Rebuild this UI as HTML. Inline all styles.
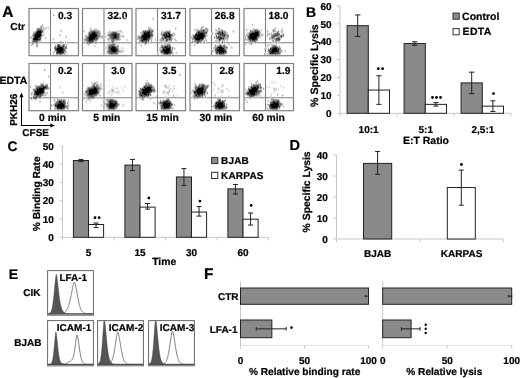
<!DOCTYPE html>
<html><head><meta charset="utf-8"><style>
html,body{margin:0;padding:0;background:#fff;width:520px;height:378px;overflow:hidden;}
svg{display:block;font-family:"Liberation Sans",sans-serif;will-change:transform;text-rendering:geometricPrecision;filter:blur(0.35px);}
text{stroke:#000;stroke-width:0.22px;}
</style></head><body><svg width="520" height="378" viewBox="0 0 520 378" font-family="Liberation Sans, sans-serif" font-weight="bold"><text x="2.2" y="16.9" font-size="15.5" text-anchor="start" >A</text><text x="10.3" y="29.6" font-size="10.2" text-anchor="start" >Ctr</text><text x="-0.6" y="83.6" font-size="10.5" text-anchor="start" >EDTA</text><rect x="29.00" y="8.50" width="49.50" height="47.20" fill="none" stroke="#808080" stroke-width="1.2"/><line x1="50.50" y1="8.50" x2="50.50" y2="55.70" stroke="#808080" stroke-width="1.1"/><line x1="29.00" y1="42.70" x2="78.50" y2="42.70" stroke="#808080" stroke-width="1.1"/><text x="72.1" y="19.2" font-size="10.2" text-anchor="end" >0.3</text><rect x="82.50" y="8.50" width="49.50" height="47.20" fill="none" stroke="#808080" stroke-width="1.2"/><line x1="104.00" y1="8.50" x2="104.00" y2="55.70" stroke="#808080" stroke-width="1.1"/><line x1="82.50" y1="42.70" x2="132.00" y2="42.70" stroke="#808080" stroke-width="1.1"/><text x="127.3" y="19.2" font-size="10.2" text-anchor="end" >32.0</text><rect x="136.00" y="8.50" width="49.50" height="47.20" fill="none" stroke="#808080" stroke-width="1.2"/><line x1="157.50" y1="8.50" x2="157.50" y2="55.70" stroke="#808080" stroke-width="1.1"/><line x1="136.00" y1="42.70" x2="185.50" y2="42.70" stroke="#808080" stroke-width="1.1"/><text x="180.9" y="19.2" font-size="10.2" text-anchor="end" >31.7</text><rect x="190.00" y="8.50" width="49.50" height="47.20" fill="none" stroke="#808080" stroke-width="1.2"/><line x1="211.50" y1="8.50" x2="211.50" y2="55.70" stroke="#808080" stroke-width="1.1"/><line x1="190.00" y1="42.70" x2="239.50" y2="42.70" stroke="#808080" stroke-width="1.1"/><text x="234.6" y="19.2" font-size="10.2" text-anchor="end" >26.8</text><rect x="244.00" y="8.50" width="49.50" height="47.20" fill="none" stroke="#808080" stroke-width="1.2"/><line x1="265.50" y1="8.50" x2="265.50" y2="55.70" stroke="#808080" stroke-width="1.1"/><line x1="244.00" y1="42.70" x2="293.50" y2="42.70" stroke="#808080" stroke-width="1.1"/><text x="288.4" y="19.2" font-size="10.2" text-anchor="end" >18.0</text><rect x="29.00" y="63.50" width="49.50" height="47.20" fill="none" stroke="#808080" stroke-width="1.2"/><line x1="50.50" y1="63.50" x2="50.50" y2="110.70" stroke="#808080" stroke-width="1.1"/><line x1="29.00" y1="97.70" x2="78.50" y2="97.70" stroke="#808080" stroke-width="1.1"/><text x="72.1" y="74.2" font-size="10.2" text-anchor="end" >0.2</text><text x="52.5" y="121.1" font-size="10.3" text-anchor="middle" >0 min</text><rect x="82.50" y="63.50" width="49.50" height="47.20" fill="none" stroke="#808080" stroke-width="1.2"/><line x1="104.00" y1="63.50" x2="104.00" y2="110.70" stroke="#808080" stroke-width="1.1"/><line x1="82.50" y1="97.70" x2="132.00" y2="97.70" stroke="#808080" stroke-width="1.1"/><text x="125.3" y="74.2" font-size="10.2" text-anchor="end" >3.0</text><text x="106.8" y="121.1" font-size="10.3" text-anchor="middle" >5 min</text><rect x="136.00" y="63.50" width="49.50" height="47.20" fill="none" stroke="#808080" stroke-width="1.2"/><line x1="157.50" y1="63.50" x2="157.50" y2="110.70" stroke="#808080" stroke-width="1.1"/><line x1="136.00" y1="97.70" x2="185.50" y2="97.70" stroke="#808080" stroke-width="1.1"/><text x="176.5" y="74.2" font-size="10.2" text-anchor="end" >3.5</text><text x="162.6" y="121.1" font-size="10.3" text-anchor="middle" >15 min</text><rect x="190.00" y="63.50" width="49.50" height="47.20" fill="none" stroke="#808080" stroke-width="1.2"/><line x1="211.50" y1="63.50" x2="211.50" y2="110.70" stroke="#808080" stroke-width="1.1"/><line x1="190.00" y1="97.70" x2="239.50" y2="97.70" stroke="#808080" stroke-width="1.1"/><text x="233.6" y="74.2" font-size="10.2" text-anchor="end" >2.8</text><text x="215.9" y="121.1" font-size="10.3" text-anchor="middle" >30 min</text><rect x="244.00" y="63.50" width="49.50" height="47.20" fill="none" stroke="#808080" stroke-width="1.2"/><line x1="265.50" y1="63.50" x2="265.50" y2="110.70" stroke="#808080" stroke-width="1.1"/><line x1="244.00" y1="97.70" x2="293.50" y2="97.70" stroke="#808080" stroke-width="1.1"/><text x="290.5" y="74.2" font-size="10.2" text-anchor="end" >1.9</text><text x="268.5" y="121.1" font-size="10.3" text-anchor="middle" >60 min</text><path d="M54.0 15.5h1v1h-1zM41.0 24.5h1v1h-1zM43.0 24.5h1v1h-1zM40.0 25.5h1v1h-1zM43.0 25.5h1v1h-1zM42.0 26.5h1v1h-1zM45.0 26.5h1v1h-1zM46.0 26.5h1v1h-1zM47.0 26.5h1v1h-1zM44.0 27.5h1v1h-1zM42.0 28.5h1v1h-1zM45.0 28.5h1v1h-1zM46.0 28.5h1v1h-1zM44.0 29.5h1v1h-1zM60.0 29.5h1v1h-1zM61.0 29.5h1v1h-1zM35.0 30.5h1v1h-1zM32.0 31.5h1v1h-1zM34.0 31.5h1v1h-1zM60.0 31.5h1v1h-1zM61.0 31.5h1v1h-1zM32.0 33.5h1v1h-1zM42.0 33.5h1v1h-1zM43.0 33.5h1v1h-1zM43.0 35.5h1v1h-1zM65.0 35.5h1v1h-1zM66.0 35.5h1v1h-1zM30.0 36.5h1v1h-1zM31.0 36.5h1v1h-1zM32.0 36.5h1v1h-1zM45.0 36.5h1v1h-1zM44.0 37.5h1v1h-1zM46.0 37.5h1v1h-1zM65.0 37.5h1v1h-1zM66.0 37.5h1v1h-1zM30.0 38.5h1v1h-1zM31.0 38.5h1v1h-1zM45.0 38.5h1v1h-1zM52.0 38.5h1v1h-1zM54.0 38.5h1v1h-1zM60.0 40.5h1v1h-1zM31.0 41.5h1v1h-1zM64.0 41.5h1v1h-1zM66.0 41.5h1v1h-1zM34.0 42.5h1v1h-1zM35.0 42.5h1v1h-1zM64.0 42.5h1v1h-1zM66.0 42.5h1v1h-1zM57.0 43.5h1v1h-1zM64.0 43.5h1v1h-1zM30.0 44.5h1v1h-1zM32.0 44.5h1v1h-1zM65.0 44.5h1v1h-1zM67.0 44.5h1v1h-1zM38.0 45.5h1v1h-1zM66.0 45.5h1v1h-1zM38.0 46.5h1v1h-1zM67.0 47.5h1v1h-1zM54.0 49.5h1v1h-1zM53.0 50.5h1v1h-1zM66.0 50.5h1v1h-1zM66.0 51.5h1v1h-1zM65.0 52.5h1v1h-1zM52.0 53.5h1v1h-1zM54.0 53.5h1v1h-1zM65.0 53.5h1v1h-1zM124.5 17.5h1v1h-1zM125.5 17.5h1v1h-1zM124.5 19.5h1v1h-1zM125.5 19.5h1v1h-1zM94.5 28.5h1v1h-1zM96.5 28.5h1v1h-1zM98.5 29.5h1v1h-1zM119.5 29.5h1v1h-1zM120.5 29.5h1v1h-1zM108.5 30.5h1v1h-1zM110.5 30.5h1v1h-1zM116.5 30.5h1v1h-1zM118.5 30.5h1v1h-1zM84.5 31.5h1v1h-1zM108.5 31.5h1v1h-1zM118.5 31.5h1v1h-1zM119.5 31.5h1v1h-1zM120.5 32.5h1v1h-1zM85.5 34.5h1v1h-1zM102.5 34.5h1v1h-1zM106.5 34.5h1v1h-1zM120.5 34.5h1v1h-1zM103.5 35.5h1v1h-1zM108.5 36.5h1v1h-1zM120.5 36.5h1v1h-1zM121.5 36.5h1v1h-1zM98.5 37.5h1v1h-1zM100.5 37.5h1v1h-1zM119.5 37.5h1v1h-1zM102.5 38.5h1v1h-1zM104.5 38.5h1v1h-1zM106.5 38.5h1v1h-1zM126.5 38.5h1v1h-1zM126.5 40.5h1v1h-1zM94.5 41.5h1v1h-1zM89.5 43.5h1v1h-1zM94.5 43.5h1v1h-1zM95.5 43.5h1v1h-1zM107.5 43.5h1v1h-1zM87.5 44.5h1v1h-1zM89.5 44.5h1v1h-1zM115.5 44.5h1v1h-1zM115.5 45.5h1v1h-1zM118.5 45.5h1v1h-1zM93.5 46.5h1v1h-1zM118.5 47.5h1v1h-1zM120.5 47.5h1v1h-1zM122.5 47.5h1v1h-1zM122.5 49.5h1v1h-1zM123.5 49.5h1v1h-1zM122.5 51.5h1v1h-1zM123.5 51.5h1v1h-1zM106.5 52.5h1v1h-1zM119.5 52.5h1v1h-1zM152.0 17.5h1v1h-1zM176.0 27.5h1v1h-1zM147.0 28.5h1v1h-1zM152.0 28.5h1v1h-1zM146.0 29.5h1v1h-1zM147.0 29.5h1v1h-1zM153.0 29.5h1v1h-1zM169.0 29.5h1v1h-1zM170.0 29.5h1v1h-1zM168.0 30.5h1v1h-1zM157.0 31.5h1v1h-1zM161.0 31.5h1v1h-1zM153.0 32.5h1v1h-1zM156.0 32.5h1v1h-1zM158.0 32.5h1v1h-1zM172.0 32.5h1v1h-1zM174.0 32.5h1v1h-1zM153.0 33.5h1v1h-1zM158.0 33.5h1v1h-1zM175.0 33.5h1v1h-1zM160.0 34.5h1v1h-1zM153.0 35.5h1v1h-1zM161.0 35.5h1v1h-1zM137.0 36.5h1v1h-1zM161.0 36.5h1v1h-1zM151.0 37.5h1v1h-1zM152.0 39.5h1v1h-1zM154.0 39.5h1v1h-1zM156.0 39.5h1v1h-1zM164.0 39.5h1v1h-1zM176.0 39.5h1v1h-1zM150.0 40.5h1v1h-1zM152.0 40.5h1v1h-1zM149.0 41.5h1v1h-1zM162.0 41.5h1v1h-1zM163.0 41.5h1v1h-1zM164.0 41.5h1v1h-1zM167.0 41.5h1v1h-1zM175.0 41.5h1v1h-1zM176.0 41.5h1v1h-1zM143.0 42.5h1v1h-1zM147.0 42.5h1v1h-1zM149.0 42.5h1v1h-1zM166.0 42.5h1v1h-1zM163.0 43.5h1v1h-1zM140.0 44.5h1v1h-1zM145.0 44.5h1v1h-1zM173.0 46.5h1v1h-1zM159.0 48.5h1v1h-1zM160.0 48.5h1v1h-1zM173.0 48.5h1v1h-1zM158.0 49.5h1v1h-1zM159.0 50.5h1v1h-1zM172.0 51.5h1v1h-1zM175.0 51.5h1v1h-1zM157.0 52.5h1v1h-1zM201.0 26.5h1v1h-1zM200.0 27.5h1v1h-1zM200.0 28.5h1v1h-1zM215.0 28.5h1v1h-1zM216.0 28.5h1v1h-1zM221.0 28.5h1v1h-1zM196.0 29.5h1v1h-1zM217.0 29.5h1v1h-1zM218.0 29.5h1v1h-1zM223.0 29.5h1v1h-1zM194.0 30.5h1v1h-1zM215.0 30.5h1v1h-1zM232.0 30.5h1v1h-1zM234.0 30.5h1v1h-1zM216.0 31.5h1v1h-1zM227.0 31.5h1v1h-1zM232.0 31.5h1v1h-1zM234.0 31.5h1v1h-1zM211.0 32.5h1v1h-1zM213.0 32.5h1v1h-1zM215.0 32.5h1v1h-1zM207.0 33.5h1v1h-1zM211.0 33.5h1v1h-1zM213.0 33.5h1v1h-1zM214.0 33.5h1v1h-1zM227.0 33.5h1v1h-1zM215.0 35.5h1v1h-1zM205.0 38.5h1v1h-1zM206.0 38.5h1v1h-1zM228.0 38.5h1v1h-1zM204.0 39.5h1v1h-1zM217.0 39.5h1v1h-1zM202.0 40.5h1v1h-1zM203.0 40.5h1v1h-1zM206.0 40.5h1v1h-1zM220.0 40.5h1v1h-1zM221.0 40.5h1v1h-1zM226.0 40.5h1v1h-1zM205.0 41.5h1v1h-1zM214.0 41.5h1v1h-1zM220.0 41.5h1v1h-1zM194.0 42.5h1v1h-1zM195.0 42.5h1v1h-1zM199.0 42.5h1v1h-1zM224.0 42.5h1v1h-1zM194.0 43.5h1v1h-1zM222.0 43.5h1v1h-1zM225.0 43.5h1v1h-1zM193.0 44.5h1v1h-1zM195.0 44.5h1v1h-1zM218.0 44.5h1v1h-1zM194.0 45.5h1v1h-1zM226.0 45.5h1v1h-1zM213.0 46.5h1v1h-1zM214.0 46.5h1v1h-1zM213.0 48.5h1v1h-1zM214.0 50.5h1v1h-1zM227.0 51.5h1v1h-1zM215.0 53.5h1v1h-1zM227.0 53.5h1v1h-1zM228.0 53.5h1v1h-1zM251.0 24.5h1v1h-1zM253.0 24.5h1v1h-1zM282.0 27.5h1v1h-1zM246.0 28.5h1v1h-1zM273.0 28.5h1v1h-1zM259.0 29.5h1v1h-1zM260.0 29.5h1v1h-1zM262.0 29.5h1v1h-1zM275.0 29.5h1v1h-1zM282.0 29.5h1v1h-1zM246.0 30.5h1v1h-1zM266.0 30.5h1v1h-1zM268.0 30.5h1v1h-1zM277.0 30.5h1v1h-1zM279.0 30.5h1v1h-1zM280.0 30.5h1v1h-1zM260.0 31.5h1v1h-1zM266.0 31.5h1v1h-1zM268.0 31.5h1v1h-1zM274.0 31.5h1v1h-1zM279.0 31.5h1v1h-1zM280.0 31.5h1v1h-1zM261.0 32.5h1v1h-1zM274.0 32.5h1v1h-1zM279.0 32.5h1v1h-1zM247.0 33.5h1v1h-1zM260.0 33.5h1v1h-1zM261.0 33.5h1v1h-1zM263.0 33.5h1v1h-1zM280.0 33.5h1v1h-1zM281.0 33.5h1v1h-1zM282.0 33.5h1v1h-1zM284.0 33.5h1v1h-1zM260.0 34.5h1v1h-1zM268.0 34.5h1v1h-1zM270.0 34.5h1v1h-1zM271.0 34.5h1v1h-1zM284.0 34.5h1v1h-1zM245.0 35.5h1v1h-1zM246.0 35.5h1v1h-1zM261.0 35.5h1v1h-1zM262.0 35.5h1v1h-1zM279.0 35.5h1v1h-1zM246.0 36.5h1v1h-1zM270.0 36.5h1v1h-1zM277.0 36.5h1v1h-1zM245.0 37.5h1v1h-1zM258.0 38.5h1v1h-1zM268.0 38.5h1v1h-1zM272.0 39.5h1v1h-1zM271.0 40.5h1v1h-1zM249.0 41.5h1v1h-1zM253.0 41.5h1v1h-1zM272.0 41.5h1v1h-1zM276.0 41.5h1v1h-1zM277.0 41.5h1v1h-1zM251.0 42.5h1v1h-1zM254.0 42.5h1v1h-1zM251.0 44.5h1v1h-1zM277.0 45.5h1v1h-1zM278.0 45.5h1v1h-1zM280.0 45.5h1v1h-1zM265.0 46.5h1v1h-1zM264.0 47.5h1v1h-1zM281.0 47.5h1v1h-1zM281.0 48.5h1v1h-1zM264.0 49.5h1v1h-1zM285.0 49.5h1v1h-1zM284.0 50.5h1v1h-1zM286.0 50.5h1v1h-1zM267.0 51.5h1v1h-1zM285.0 51.5h1v1h-1zM265.0 52.5h1v1h-1zM44.0 68.5h1v1h-1zM44.0 70.5h1v1h-1zM40.0 82.5h1v1h-1zM41.0 82.5h1v1h-1zM44.0 83.5h1v1h-1zM45.0 83.5h1v1h-1zM30.0 85.5h1v1h-1zM48.0 85.5h1v1h-1zM31.0 86.5h1v1h-1zM59.0 86.5h1v1h-1zM30.0 87.5h1v1h-1zM59.0 87.5h1v1h-1zM31.0 91.5h1v1h-1zM32.0 91.5h1v1h-1zM46.0 91.5h1v1h-1zM47.0 91.5h1v1h-1zM33.0 92.5h1v1h-1zM30.0 93.5h1v1h-1zM46.0 93.5h1v1h-1zM47.0 93.5h1v1h-1zM32.0 95.5h1v1h-1zM46.0 95.5h1v1h-1zM32.0 96.5h1v1h-1zM41.0 96.5h1v1h-1zM30.0 98.5h1v1h-1zM54.0 98.5h1v1h-1zM61.0 98.5h1v1h-1zM64.0 98.5h1v1h-1zM65.0 98.5h1v1h-1zM32.0 99.5h1v1h-1zM69.0 99.5h1v1h-1zM53.0 100.5h1v1h-1zM55.0 100.5h1v1h-1zM56.0 100.5h1v1h-1zM68.0 101.5h1v1h-1zM66.0 102.5h1v1h-1zM66.0 104.5h1v1h-1zM68.0 106.5h1v1h-1zM65.0 108.5h1v1h-1zM109.5 79.5h1v1h-1zM108.5 80.5h1v1h-1zM97.5 81.5h1v1h-1zM90.5 82.5h1v1h-1zM92.5 82.5h1v1h-1zM97.5 83.5h1v1h-1zM99.5 84.5h1v1h-1zM101.5 84.5h1v1h-1zM109.5 85.5h1v1h-1zM124.5 85.5h1v1h-1zM86.5 86.5h1v1h-1zM89.5 86.5h1v1h-1zM108.5 86.5h1v1h-1zM125.5 86.5h1v1h-1zM100.5 87.5h1v1h-1zM112.5 87.5h1v1h-1zM122.5 87.5h1v1h-1zM85.5 88.5h1v1h-1zM113.5 88.5h1v1h-1zM121.5 88.5h1v1h-1zM100.5 89.5h1v1h-1zM84.5 90.5h1v1h-1zM84.5 91.5h1v1h-1zM109.5 92.5h1v1h-1zM85.5 94.5h1v1h-1zM97.5 94.5h1v1h-1zM98.5 94.5h1v1h-1zM100.5 94.5h1v1h-1zM98.5 95.5h1v1h-1zM100.5 95.5h1v1h-1zM86.5 96.5h1v1h-1zM98.5 96.5h1v1h-1zM101.5 96.5h1v1h-1zM84.5 97.5h1v1h-1zM89.5 98.5h1v1h-1zM98.5 98.5h1v1h-1zM101.5 98.5h1v1h-1zM105.5 98.5h1v1h-1zM108.5 98.5h1v1h-1zM86.5 99.5h1v1h-1zM85.5 100.5h1v1h-1zM103.5 100.5h1v1h-1zM105.5 100.5h1v1h-1zM84.5 101.5h1v1h-1zM86.5 101.5h1v1h-1zM85.5 102.5h1v1h-1zM103.5 103.5h1v1h-1zM102.5 104.5h1v1h-1zM104.5 104.5h1v1h-1zM118.5 105.5h1v1h-1zM102.5 107.5h1v1h-1zM104.5 107.5h1v1h-1zM180.0 73.5h1v1h-1zM148.0 81.5h1v1h-1zM173.0 86.5h1v1h-1zM174.0 86.5h1v1h-1zM139.0 87.5h1v1h-1zM169.0 87.5h1v1h-1zM170.0 87.5h1v1h-1zM170.0 90.5h1v1h-1zM138.0 92.5h1v1h-1zM151.0 92.5h1v1h-1zM153.0 92.5h1v1h-1zM154.0 92.5h1v1h-1zM165.0 92.5h1v1h-1zM151.0 93.5h1v1h-1zM162.0 93.5h1v1h-1zM163.0 93.5h1v1h-1zM165.0 93.5h1v1h-1zM155.0 95.5h1v1h-1zM172.0 95.5h1v1h-1zM174.0 95.5h1v1h-1zM175.0 95.5h1v1h-1zM149.0 96.5h1v1h-1zM155.0 96.5h1v1h-1zM176.0 96.5h1v1h-1zM138.0 97.5h1v1h-1zM144.0 97.5h1v1h-1zM150.0 97.5h1v1h-1zM148.0 98.5h1v1h-1zM149.0 98.5h1v1h-1zM144.0 99.5h1v1h-1zM150.0 99.5h1v1h-1zM170.0 99.5h1v1h-1zM159.0 100.5h1v1h-1zM153.0 101.5h1v1h-1zM154.0 101.5h1v1h-1zM153.0 103.5h1v1h-1zM154.0 103.5h1v1h-1zM159.0 105.5h1v1h-1zM173.0 105.5h1v1h-1zM233.0 65.5h1v1h-1zM233.0 67.5h1v1h-1zM213.0 81.5h1v1h-1zM202.0 82.5h1v1h-1zM214.0 82.5h1v1h-1zM201.0 83.5h1v1h-1zM214.0 83.5h1v1h-1zM215.0 83.5h1v1h-1zM223.0 83.5h1v1h-1zM205.0 84.5h1v1h-1zM222.0 84.5h1v1h-1zM224.0 84.5h1v1h-1zM197.0 85.5h1v1h-1zM193.0 86.5h1v1h-1zM219.0 87.5h1v1h-1zM226.0 87.5h1v1h-1zM227.0 87.5h1v1h-1zM194.0 88.5h1v1h-1zM207.0 88.5h1v1h-1zM213.0 88.5h1v1h-1zM214.0 88.5h1v1h-1zM217.0 88.5h1v1h-1zM219.0 88.5h1v1h-1zM191.0 89.5h1v1h-1zM193.0 89.5h1v1h-1zM217.0 89.5h1v1h-1zM222.0 89.5h1v1h-1zM220.0 90.5h1v1h-1zM191.0 91.5h1v1h-1zM207.0 91.5h1v1h-1zM223.0 91.5h1v1h-1zM208.0 92.5h1v1h-1zM191.0 93.5h1v1h-1zM206.0 93.5h1v1h-1zM192.0 94.5h1v1h-1zM193.0 94.5h1v1h-1zM206.0 95.5h1v1h-1zM214.0 95.5h1v1h-1zM222.0 95.5h1v1h-1zM227.0 95.5h1v1h-1zM192.0 96.5h1v1h-1zM204.0 96.5h1v1h-1zM206.0 96.5h1v1h-1zM221.0 96.5h1v1h-1zM227.0 96.5h1v1h-1zM191.0 97.5h1v1h-1zM195.0 97.5h1v1h-1zM196.0 97.5h1v1h-1zM201.0 97.5h1v1h-1zM220.0 97.5h1v1h-1zM193.0 98.5h1v1h-1zM216.0 98.5h1v1h-1zM221.0 98.5h1v1h-1zM196.0 99.5h1v1h-1zM221.0 99.5h1v1h-1zM225.0 101.5h1v1h-1zM225.0 102.5h1v1h-1zM211.0 105.5h1v1h-1zM225.0 105.5h1v1h-1zM226.0 105.5h1v1h-1zM210.0 106.5h1v1h-1zM211.0 107.5h1v1h-1zM256.0 80.5h1v1h-1zM258.0 80.5h1v1h-1zM255.0 81.5h1v1h-1zM257.0 81.5h1v1h-1zM251.0 82.5h1v1h-1zM257.0 82.5h1v1h-1zM258.0 82.5h1v1h-1zM259.0 82.5h1v1h-1zM250.0 83.5h1v1h-1zM254.0 83.5h1v1h-1zM261.0 84.5h1v1h-1zM248.0 85.5h1v1h-1zM249.0 85.5h1v1h-1zM250.0 85.5h1v1h-1zM261.0 85.5h1v1h-1zM270.0 86.5h1v1h-1zM262.0 87.5h1v1h-1zM266.0 87.5h1v1h-1zM267.0 87.5h1v1h-1zM269.0 87.5h1v1h-1zM247.0 88.5h1v1h-1zM262.0 88.5h1v1h-1zM264.0 88.5h1v1h-1zM277.0 88.5h1v1h-1zM245.0 90.5h1v1h-1zM262.0 90.5h1v1h-1zM275.0 90.5h1v1h-1zM246.0 94.5h1v1h-1zM276.0 94.5h1v1h-1zM278.0 94.5h1v1h-1zM281.0 94.5h1v1h-1zM283.0 94.5h1v1h-1zM281.0 95.5h1v1h-1zM283.0 95.5h1v1h-1zM256.0 96.5h1v1h-1zM258.0 96.5h1v1h-1zM251.0 97.5h1v1h-1zM271.0 97.5h1v1h-1zM275.0 98.5h1v1h-1zM268.0 99.5h1v1h-1zM279.0 99.5h1v1h-1zM247.0 100.5h1v1h-1zM270.0 100.5h1v1h-1zM268.0 101.5h1v1h-1zM280.0 101.5h1v1h-1zM247.0 102.5h1v1h-1zM281.0 102.5h1v1h-1zM266.0 103.5h1v1h-1zM268.0 103.5h1v1h-1zM268.0 105.5h1v1h-1zM281.0 105.5h1v1h-1zM282.0 105.5h1v1h-1zM284.0 105.5h1v1h-1zM268.0 106.5h1v1h-1zM280.0 107.5h1v1h-1z" fill="rgb(238,238,238)"/><path d="M48.0 26.5h1v1h-1zM47.0 27.5h1v1h-1zM36.0 28.5h1v1h-1zM59.0 35.5h1v1h-1zM60.0 35.5h1v1h-1zM41.0 36.5h1v1h-1zM32.0 37.5h1v1h-1zM41.0 40.5h1v1h-1zM38.0 41.5h1v1h-1zM60.0 42.5h1v1h-1zM59.0 43.5h1v1h-1zM54.0 44.5h1v1h-1zM61.0 44.5h1v1h-1zM54.0 45.5h1v1h-1zM67.0 52.5h1v1h-1zM55.0 53.5h1v1h-1zM67.0 53.5h1v1h-1zM89.5 27.5h1v1h-1zM89.5 28.5h1v1h-1zM89.5 29.5h1v1h-1zM97.5 29.5h1v1h-1zM84.5 30.5h1v1h-1zM83.5 31.5h1v1h-1zM99.5 31.5h1v1h-1zM110.5 31.5h1v1h-1zM108.5 33.5h1v1h-1zM84.5 35.5h1v1h-1zM104.5 35.5h1v1h-1zM105.5 35.5h1v1h-1zM84.5 36.5h1v1h-1zM101.5 38.5h1v1h-1zM83.5 39.5h1v1h-1zM97.5 39.5h1v1h-1zM107.5 40.5h1v1h-1zM110.5 41.5h1v1h-1zM113.5 41.5h1v1h-1zM96.5 42.5h1v1h-1zM114.5 42.5h1v1h-1zM116.5 44.5h1v1h-1zM93.5 45.5h1v1h-1zM94.5 46.5h1v1h-1zM104.5 46.5h1v1h-1zM118.5 46.5h1v1h-1zM118.5 49.5h1v1h-1zM119.5 49.5h1v1h-1zM120.5 49.5h1v1h-1zM105.5 50.5h1v1h-1zM121.5 50.5h1v1h-1zM105.5 51.5h1v1h-1zM148.0 26.5h1v1h-1zM149.0 26.5h1v1h-1zM163.0 31.5h1v1h-1zM170.0 31.5h1v1h-1zM140.0 33.5h1v1h-1zM171.0 36.5h1v1h-1zM172.0 36.5h1v1h-1zM173.0 36.5h1v1h-1zM159.0 38.5h1v1h-1zM174.0 39.5h1v1h-1zM165.0 41.5h1v1h-1zM144.0 42.5h1v1h-1zM138.0 43.5h1v1h-1zM139.0 43.5h1v1h-1zM146.0 43.5h1v1h-1zM170.0 43.5h1v1h-1zM141.0 44.5h1v1h-1zM161.0 44.5h1v1h-1zM163.0 44.5h1v1h-1zM165.0 44.5h1v1h-1zM140.0 45.5h1v1h-1zM159.0 46.5h1v1h-1zM159.0 47.5h1v1h-1zM175.0 47.5h1v1h-1zM161.0 48.5h1v1h-1zM175.0 48.5h1v1h-1zM160.0 50.5h1v1h-1zM176.0 51.5h1v1h-1zM158.0 52.5h1v1h-1zM160.0 52.5h1v1h-1zM173.0 52.5h1v1h-1zM175.0 52.5h1v1h-1zM157.0 53.5h1v1h-1zM171.0 53.5h1v1h-1zM203.0 27.5h1v1h-1zM219.0 27.5h1v1h-1zM196.0 28.5h1v1h-1zM201.0 28.5h1v1h-1zM204.0 28.5h1v1h-1zM196.0 30.5h1v1h-1zM216.0 30.5h1v1h-1zM218.0 30.5h1v1h-1zM225.0 30.5h1v1h-1zM226.0 31.5h1v1h-1zM207.0 34.5h1v1h-1zM215.0 34.5h1v1h-1zM217.0 34.5h1v1h-1zM207.0 35.5h1v1h-1zM192.0 37.5h1v1h-1zM228.0 37.5h1v1h-1zM192.0 39.5h1v1h-1zM193.0 39.5h1v1h-1zM222.0 39.5h1v1h-1zM193.0 40.5h1v1h-1zM205.0 40.5h1v1h-1zM214.0 40.5h1v1h-1zM196.0 41.5h1v1h-1zM201.0 41.5h1v1h-1zM215.0 41.5h1v1h-1zM205.0 42.5h1v1h-1zM223.0 42.5h1v1h-1zM197.0 43.5h1v1h-1zM229.0 43.5h1v1h-1zM216.0 44.5h1v1h-1zM229.0 44.5h1v1h-1zM215.0 46.5h1v1h-1zM232.0 46.5h1v1h-1zM232.0 47.5h1v1h-1zM212.0 51.5h1v1h-1zM213.0 51.5h1v1h-1zM252.0 28.5h1v1h-1zM274.0 28.5h1v1h-1zM249.0 29.5h1v1h-1zM252.0 29.5h1v1h-1zM249.0 30.5h1v1h-1zM247.0 31.5h1v1h-1zM248.0 31.5h1v1h-1zM267.0 32.5h1v1h-1zM268.0 32.5h1v1h-1zM270.0 33.5h1v1h-1zM272.0 33.5h1v1h-1zM248.0 34.5h1v1h-1zM263.0 34.5h1v1h-1zM266.0 34.5h1v1h-1zM280.0 34.5h1v1h-1zM266.0 35.5h1v1h-1zM275.0 37.5h1v1h-1zM280.0 37.5h1v1h-1zM281.0 37.5h1v1h-1zM246.0 38.5h1v1h-1zM274.0 40.5h1v1h-1zM278.0 41.5h1v1h-1zM278.0 42.5h1v1h-1zM275.0 43.5h1v1h-1zM267.0 44.5h1v1h-1zM275.0 44.5h1v1h-1zM268.0 45.5h1v1h-1zM266.0 46.5h1v1h-1zM271.0 46.5h1v1h-1zM269.0 47.5h1v1h-1zM267.0 49.5h1v1h-1zM282.0 51.5h1v1h-1zM264.0 52.5h1v1h-1zM265.0 53.5h1v1h-1zM266.0 53.5h1v1h-1zM49.0 75.5h1v1h-1zM49.0 76.5h1v1h-1zM35.0 87.5h1v1h-1zM32.0 88.5h1v1h-1zM32.0 89.5h1v1h-1zM45.0 89.5h1v1h-1zM33.0 91.5h1v1h-1zM62.0 91.5h1v1h-1zM63.0 91.5h1v1h-1zM62.0 92.5h1v1h-1zM63.0 92.5h1v1h-1zM32.0 93.5h1v1h-1zM44.0 93.5h1v1h-1zM45.0 93.5h1v1h-1zM46.0 94.5h1v1h-1zM43.0 95.5h1v1h-1zM44.0 95.5h1v1h-1zM45.0 95.5h1v1h-1zM33.0 98.5h1v1h-1zM37.0 98.5h1v1h-1zM53.0 99.5h1v1h-1zM55.0 99.5h1v1h-1zM68.0 99.5h1v1h-1zM69.0 100.5h1v1h-1zM67.0 101.5h1v1h-1zM53.0 103.5h1v1h-1zM67.0 103.5h1v1h-1zM52.0 104.5h1v1h-1zM52.0 105.5h1v1h-1zM54.0 105.5h1v1h-1zM95.5 81.5h1v1h-1zM93.5 82.5h1v1h-1zM95.5 82.5h1v1h-1zM92.5 83.5h1v1h-1zM98.5 84.5h1v1h-1zM90.5 85.5h1v1h-1zM98.5 85.5h1v1h-1zM100.5 85.5h1v1h-1zM88.5 86.5h1v1h-1zM113.5 86.5h1v1h-1zM86.5 87.5h1v1h-1zM117.5 87.5h1v1h-1zM110.5 88.5h1v1h-1zM85.5 89.5h1v1h-1zM111.5 89.5h1v1h-1zM113.5 89.5h1v1h-1zM99.5 90.5h1v1h-1zM118.5 90.5h1v1h-1zM111.5 91.5h1v1h-1zM112.5 91.5h1v1h-1zM114.5 91.5h1v1h-1zM115.5 91.5h1v1h-1zM116.5 91.5h1v1h-1zM84.5 92.5h1v1h-1zM108.5 92.5h1v1h-1zM111.5 92.5h1v1h-1zM114.5 92.5h1v1h-1zM115.5 92.5h1v1h-1zM117.5 92.5h1v1h-1zM98.5 93.5h1v1h-1zM107.5 93.5h1v1h-1zM118.5 93.5h1v1h-1zM110.5 94.5h1v1h-1zM111.5 94.5h1v1h-1zM96.5 95.5h1v1h-1zM110.5 95.5h1v1h-1zM111.5 95.5h1v1h-1zM94.5 97.5h1v1h-1zM110.5 97.5h1v1h-1zM86.5 98.5h1v1h-1zM92.5 98.5h1v1h-1zM102.5 98.5h1v1h-1zM88.5 99.5h1v1h-1zM102.5 99.5h1v1h-1zM114.5 99.5h1v1h-1zM115.5 99.5h1v1h-1zM116.5 100.5h1v1h-1zM103.5 102.5h1v1h-1zM105.5 102.5h1v1h-1zM101.5 104.5h1v1h-1zM101.5 105.5h1v1h-1zM105.5 105.5h1v1h-1zM117.5 105.5h1v1h-1zM122.5 105.5h1v1h-1zM123.5 105.5h1v1h-1zM105.5 106.5h1v1h-1zM146.0 79.5h1v1h-1zM147.0 79.5h1v1h-1zM144.0 84.5h1v1h-1zM154.0 86.5h1v1h-1zM167.0 86.5h1v1h-1zM141.0 87.5h1v1h-1zM167.0 87.5h1v1h-1zM169.0 88.5h1v1h-1zM173.0 88.5h1v1h-1zM170.0 89.5h1v1h-1zM150.0 95.5h1v1h-1zM165.0 95.5h1v1h-1zM166.0 95.5h1v1h-1zM145.0 96.5h1v1h-1zM146.0 96.5h1v1h-1zM148.0 96.5h1v1h-1zM165.0 96.5h1v1h-1zM166.0 96.5h1v1h-1zM141.0 97.5h1v1h-1zM162.0 98.5h1v1h-1zM142.0 99.5h1v1h-1zM163.0 99.5h1v1h-1zM161.0 100.5h1v1h-1zM158.0 103.5h1v1h-1zM174.0 105.5h1v1h-1zM160.0 107.5h1v1h-1zM170.0 108.5h1v1h-1zM173.0 108.5h1v1h-1zM194.0 82.5h1v1h-1zM195.0 82.5h1v1h-1zM196.0 84.5h1v1h-1zM207.0 84.5h1v1h-1zM221.0 85.5h1v1h-1zM223.0 85.5h1v1h-1zM194.0 86.5h1v1h-1zM222.0 86.5h1v1h-1zM193.0 87.5h1v1h-1zM192.0 89.5h1v1h-1zM194.0 89.5h1v1h-1zM191.0 90.5h1v1h-1zM221.0 90.5h1v1h-1zM222.0 90.5h1v1h-1zM228.0 90.5h1v1h-1zM217.0 91.5h1v1h-1zM218.0 91.5h1v1h-1zM220.0 91.5h1v1h-1zM217.0 92.5h1v1h-1zM218.0 92.5h1v1h-1zM221.0 92.5h1v1h-1zM222.0 92.5h1v1h-1zM203.0 95.5h1v1h-1zM191.0 96.5h1v1h-1zM271.0 81.5h1v1h-1zM272.0 81.5h1v1h-1zM271.0 82.5h1v1h-1zM272.0 82.5h1v1h-1zM274.0 82.5h1v1h-1zM252.0 83.5h1v1h-1zM253.0 83.5h1v1h-1zM255.0 83.5h1v1h-1zM256.0 83.5h1v1h-1zM251.0 84.5h1v1h-1zM252.0 84.5h1v1h-1zM281.0 85.5h1v1h-1zM249.0 87.5h1v1h-1zM274.0 87.5h1v1h-1zM276.0 87.5h1v1h-1zM245.0 88.5h1v1h-1zM275.0 88.5h1v1h-1zM278.0 88.5h1v1h-1zM274.0 89.5h1v1h-1zM273.0 91.5h1v1h-1zM260.0 94.5h1v1h-1zM271.0 94.5h1v1h-1zM255.0 95.5h1v1h-1zM259.0 95.5h1v1h-1zM270.0 95.5h1v1h-1zM271.0 95.5h1v1h-1zM254.0 96.5h1v1h-1zM270.0 96.5h1v1h-1zM271.0 96.5h1v1h-1zM245.0 97.5h1v1h-1zM245.0 98.5h1v1h-1zM274.0 98.5h1v1h-1zM277.0 98.5h1v1h-1zM278.0 98.5h1v1h-1zM245.0 100.5h1v1h-1zM269.0 103.5h1v1h-1zM266.0 107.5h1v1h-1zM266.0 108.5h1v1h-1zM279.0 108.5h1v1h-1z" fill="rgb(221,221,221)"/><path d="M54.0 14.5h1v1h-1zM53.0 15.5h1v1h-1zM38.0 27.5h1v1h-1zM39.0 27.5h1v1h-1zM42.0 27.5h1v1h-1zM42.0 32.5h1v1h-1zM42.0 34.5h1v1h-1zM44.0 34.5h1v1h-1zM32.0 39.5h1v1h-1zM53.0 39.5h1v1h-1zM31.0 40.5h1v1h-1zM40.0 40.5h1v1h-1zM33.0 42.5h1v1h-1zM61.0 42.5h1v1h-1zM31.0 43.5h1v1h-1zM58.0 43.5h1v1h-1zM63.0 43.5h1v1h-1zM66.0 43.5h1v1h-1zM56.0 45.5h1v1h-1zM65.0 45.5h1v1h-1zM36.0 46.5h1v1h-1zM54.0 46.5h1v1h-1zM64.0 46.5h1v1h-1zM66.0 48.5h1v1h-1zM54.0 50.5h1v1h-1zM53.0 51.5h1v1h-1zM53.0 52.5h1v1h-1zM64.0 52.5h1v1h-1zM91.5 29.5h1v1h-1zM92.5 29.5h1v1h-1zM89.5 30.5h1v1h-1zM116.5 31.5h1v1h-1zM120.5 31.5h1v1h-1zM87.5 32.5h1v1h-1zM108.5 32.5h1v1h-1zM121.5 32.5h1v1h-1zM119.5 34.5h1v1h-1zM87.5 35.5h1v1h-1zM101.5 35.5h1v1h-1zM107.5 35.5h1v1h-1zM121.5 35.5h1v1h-1zM102.5 36.5h1v1h-1zM123.5 36.5h1v1h-1zM102.5 37.5h1v1h-1zM83.5 38.5h1v1h-1zM103.5 38.5h1v1h-1zM109.5 38.5h1v1h-1zM104.5 39.5h1v1h-1zM127.5 39.5h1v1h-1zM94.5 40.5h1v1h-1zM115.5 40.5h1v1h-1zM84.5 41.5h1v1h-1zM85.5 41.5h1v1h-1zM86.5 41.5h1v1h-1zM96.5 41.5h1v1h-1zM91.5 42.5h1v1h-1zM113.5 42.5h1v1h-1zM111.5 43.5h1v1h-1zM106.5 44.5h1v1h-1zM107.5 44.5h1v1h-1zM106.5 45.5h1v1h-1zM107.5 45.5h1v1h-1zM116.5 45.5h1v1h-1zM121.5 48.5h1v1h-1zM106.5 53.5h1v1h-1zM108.5 53.5h1v1h-1zM153.0 17.5h1v1h-1zM152.0 18.5h1v1h-1zM175.0 27.5h1v1h-1zM149.0 28.5h1v1h-1zM150.0 28.5h1v1h-1zM151.0 28.5h1v1h-1zM176.0 28.5h1v1h-1zM145.0 29.5h1v1h-1zM142.0 30.5h1v1h-1zM141.0 31.5h1v1h-1zM153.0 31.5h1v1h-1zM162.0 32.5h1v1h-1zM141.0 33.5h1v1h-1zM160.0 33.5h1v1h-1zM174.0 33.5h1v1h-1zM158.0 34.5h1v1h-1zM175.0 34.5h1v1h-1zM137.0 35.5h1v1h-1zM172.0 37.5h1v1h-1zM152.0 38.5h1v1h-1zM155.0 38.5h1v1h-1zM175.0 39.5h1v1h-1zM160.0 40.5h1v1h-1zM140.0 42.5h1v1h-1zM163.0 42.5h1v1h-1zM165.0 42.5h1v1h-1zM164.0 43.5h1v1h-1zM166.0 43.5h1v1h-1zM169.0 43.5h1v1h-1zM166.0 44.5h1v1h-1zM172.0 46.5h1v1h-1zM171.0 47.5h1v1h-1zM161.0 53.5h1v1h-1zM173.0 53.5h1v1h-1zM218.0 27.5h1v1h-1zM203.0 28.5h1v1h-1zM194.0 29.5h1v1h-1zM197.0 29.5h1v1h-1zM198.0 29.5h1v1h-1zM199.0 29.5h1v1h-1zM220.0 29.5h1v1h-1zM195.0 30.5h1v1h-1zM208.0 30.5h1v1h-1zM220.0 30.5h1v1h-1zM221.0 30.5h1v1h-1zM195.0 32.5h1v1h-1zM226.0 33.5h1v1h-1zM192.0 34.5h1v1h-1zM194.0 34.5h1v1h-1zM192.0 35.5h1v1h-1zM215.0 36.5h1v1h-1zM203.0 39.5h1v1h-1zM216.0 39.5h1v1h-1zM226.0 39.5h1v1h-1zM217.0 40.5h1v1h-1zM223.0 40.5h1v1h-1zM227.0 40.5h1v1h-1zM193.0 41.5h1v1h-1zM218.0 41.5h1v1h-1zM196.0 43.5h1v1h-1zM224.0 43.5h1v1h-1zM221.0 44.5h1v1h-1zM225.0 44.5h1v1h-1zM216.0 45.5h1v1h-1zM225.0 45.5h1v1h-1zM214.0 48.5h1v1h-1zM214.0 49.5h1v1h-1zM252.0 23.5h1v1h-1zM274.0 27.5h1v1h-1zM255.0 28.5h1v1h-1zM256.0 28.5h1v1h-1zM275.0 28.5h1v1h-1zM281.0 28.5h1v1h-1zM247.0 29.5h1v1h-1zM272.0 29.5h1v1h-1zM253.0 30.5h1v1h-1zM261.0 30.5h1v1h-1zM282.0 30.5h1v1h-1zM272.0 31.5h1v1h-1zM275.0 32.5h1v1h-1zM246.0 33.5h1v1h-1zM262.0 33.5h1v1h-1zM260.0 35.5h1v1h-1zM270.0 35.5h1v1h-1zM275.0 36.5h1v1h-1zM283.0 36.5h1v1h-1zM247.0 38.5h1v1h-1zM274.0 39.5h1v1h-1zM280.0 39.5h1v1h-1zM248.0 40.5h1v1h-1zM274.0 41.5h1v1h-1zM255.0 42.5h1v1h-1zM273.0 42.5h1v1h-1zM274.0 42.5h1v1h-1zM268.0 43.5h1v1h-1zM269.0 43.5h1v1h-1zM245.0 44.5h1v1h-1zM269.0 44.5h1v1h-1zM274.0 44.5h1v1h-1zM278.0 46.5h1v1h-1zM265.0 47.5h1v1h-1zM265.0 48.5h1v1h-1zM281.0 49.5h1v1h-1zM281.0 51.5h1v1h-1zM280.0 53.5h1v1h-1zM46.0 83.5h1v1h-1zM40.0 84.5h1v1h-1zM37.0 85.5h1v1h-1zM60.0 86.5h1v1h-1zM49.0 87.5h1v1h-1zM60.0 87.5h1v1h-1zM49.0 88.5h1v1h-1zM33.0 94.5h1v1h-1zM32.0 97.5h1v1h-1zM57.0 97.5h1v1h-1zM58.0 97.5h1v1h-1zM58.0 98.5h1v1h-1zM31.0 99.5h1v1h-1zM39.0 100.5h1v1h-1zM40.0 100.5h1v1h-1zM57.0 100.5h1v1h-1zM39.0 101.5h1v1h-1zM40.0 101.5h1v1h-1zM55.0 101.5h1v1h-1zM67.0 106.5h1v1h-1zM68.0 108.5h1v1h-1zM91.5 81.5h1v1h-1zM94.5 84.5h1v1h-1zM99.5 85.5h1v1h-1zM90.5 86.5h1v1h-1zM100.5 86.5h1v1h-1zM101.5 87.5h1v1h-1zM115.5 88.5h1v1h-1zM116.5 88.5h1v1h-1zM86.5 89.5h1v1h-1zM98.5 89.5h1v1h-1zM112.5 89.5h1v1h-1zM113.5 90.5h1v1h-1zM117.5 90.5h1v1h-1zM122.5 90.5h1v1h-1zM123.5 90.5h1v1h-1zM118.5 91.5h1v1h-1zM94.5 96.5h1v1h-1zM83.5 97.5h1v1h-1zM97.5 97.5h1v1h-1zM100.5 97.5h1v1h-1zM84.5 98.5h1v1h-1zM91.5 98.5h1v1h-1zM111.5 98.5h1v1h-1zM112.5 98.5h1v1h-1zM89.5 99.5h1v1h-1zM90.5 99.5h1v1h-1zM89.5 100.5h1v1h-1zM90.5 100.5h1v1h-1zM102.5 101.5h1v1h-1zM106.5 101.5h1v1h-1zM105.5 104.5h1v1h-1zM103.5 105.5h1v1h-1zM106.5 107.5h1v1h-1zM179.0 73.5h1v1h-1zM180.0 74.5h1v1h-1zM145.0 83.5h1v1h-1zM150.0 83.5h1v1h-1zM164.0 84.5h1v1h-1zM165.0 84.5h1v1h-1zM169.0 84.5h1v1h-1zM143.0 85.5h1v1h-1zM164.0 85.5h1v1h-1zM166.0 85.5h1v1h-1zM169.0 85.5h1v1h-1zM173.0 85.5h1v1h-1zM174.0 85.5h1v1h-1zM164.0 86.5h1v1h-1zM165.0 86.5h1v1h-1zM168.0 86.5h1v1h-1zM168.0 87.5h1v1h-1zM139.0 88.5h1v1h-1zM155.0 89.5h1v1h-1zM168.0 90.5h1v1h-1zM172.0 90.5h1v1h-1zM138.0 91.5h1v1h-1zM169.0 91.5h1v1h-1zM172.0 91.5h1v1h-1zM150.0 92.5h1v1h-1zM162.0 92.5h1v1h-1zM163.0 92.5h1v1h-1zM166.0 92.5h1v1h-1zM166.0 93.5h1v1h-1zM168.0 93.5h1v1h-1zM168.0 94.5h1v1h-1zM173.0 94.5h1v1h-1zM139.0 95.5h1v1h-1zM149.0 95.5h1v1h-1zM156.0 95.5h1v1h-1zM138.0 96.5h1v1h-1zM147.0 96.5h1v1h-1zM156.0 96.5h1v1h-1zM151.0 98.5h1v1h-1zM141.0 99.5h1v1h-1zM164.0 99.5h1v1h-1zM165.0 99.5h1v1h-1zM169.0 99.5h1v1h-1zM159.0 101.5h1v1h-1zM171.0 101.5h1v1h-1zM173.0 104.5h1v1h-1zM171.0 106.5h1v1h-1zM160.0 108.5h1v1h-1zM171.0 108.5h1v1h-1zM172.0 108.5h1v1h-1zM206.0 84.5h1v1h-1zM208.0 84.5h1v1h-1zM214.0 84.5h1v1h-1zM215.0 84.5h1v1h-1zM208.0 86.5h1v1h-1zM226.0 88.5h1v1h-1zM227.0 88.5h1v1h-1zM213.0 89.5h1v1h-1zM214.0 89.5h1v1h-1zM218.0 89.5h1v1h-1zM220.0 89.5h1v1h-1zM221.0 89.5h1v1h-1zM223.0 89.5h1v1h-1zM206.0 90.5h1v1h-1zM223.0 90.5h1v1h-1zM207.0 93.5h1v1h-1zM205.0 94.5h1v1h-1zM214.0 94.5h1v1h-1zM215.0 94.5h1v1h-1zM204.0 95.5h1v1h-1zM228.0 95.5h1v1h-1zM228.0 96.5h1v1h-1zM198.0 97.5h1v1h-1zM202.0 97.5h1v1h-1zM194.0 98.5h1v1h-1zM195.0 98.5h1v1h-1zM217.0 99.5h1v1h-1zM224.0 99.5h1v1h-1zM214.0 103.5h1v1h-1zM225.0 103.5h1v1h-1zM212.0 105.5h1v1h-1zM212.0 106.5h1v1h-1zM213.0 106.5h1v1h-1zM227.0 107.5h1v1h-1zM214.0 108.5h1v1h-1zM261.0 86.5h1v1h-1zM266.0 86.5h1v1h-1zM267.0 86.5h1v1h-1zM283.0 86.5h1v1h-1zM283.0 87.5h1v1h-1zM260.0 88.5h1v1h-1zM261.0 88.5h1v1h-1zM273.0 88.5h1v1h-1zM261.0 89.5h1v1h-1zM275.0 89.5h1v1h-1zM276.0 89.5h1v1h-1zM246.0 90.5h1v1h-1zM276.0 90.5h1v1h-1zM253.0 96.5h1v1h-1zM249.0 97.5h1v1h-1zM267.0 100.5h1v1h-1zM246.0 101.5h1v1h-1zM267.0 103.5h1v1h-1zM266.0 104.5h1v1h-1zM282.0 104.5h1v1h-1zM283.0 106.5h1v1h-1zM278.0 107.5h1v1h-1zM278.0 108.5h1v1h-1z" fill="rgb(204,204,204)"/><path d="M36.0 29.5h1v1h-1zM43.0 29.5h1v1h-1zM43.0 30.5h1v1h-1zM31.0 35.5h1v1h-1zM41.0 37.5h1v1h-1zM41.0 38.5h1v1h-1zM32.0 41.5h1v1h-1zM40.0 41.5h1v1h-1zM41.0 41.5h1v1h-1zM37.0 43.5h1v1h-1zM55.0 44.5h1v1h-1zM55.0 45.5h1v1h-1zM56.0 46.5h1v1h-1zM54.0 48.5h1v1h-1zM66.0 52.5h1v1h-1zM62.0 53.5h1v1h-1zM66.0 53.5h1v1h-1zM90.5 27.5h1v1h-1zM90.5 28.5h1v1h-1zM95.5 30.5h1v1h-1zM99.5 30.5h1v1h-1zM88.5 31.5h1v1h-1zM111.5 31.5h1v1h-1zM117.5 32.5h1v1h-1zM118.5 32.5h1v1h-1zM107.5 33.5h1v1h-1zM119.5 33.5h1v1h-1zM86.5 35.5h1v1h-1zM100.5 35.5h1v1h-1zM123.5 35.5h1v1h-1zM86.5 36.5h1v1h-1zM119.5 36.5h1v1h-1zM110.5 39.5h1v1h-1zM114.5 39.5h1v1h-1zM118.5 39.5h1v1h-1zM85.5 40.5h1v1h-1zM88.5 42.5h1v1h-1zM86.5 43.5h1v1h-1zM109.5 43.5h1v1h-1zM110.5 43.5h1v1h-1zM105.5 46.5h1v1h-1zM103.5 47.5h1v1h-1zM105.5 47.5h1v1h-1zM117.5 47.5h1v1h-1zM103.5 48.5h1v1h-1zM104.5 48.5h1v1h-1zM118.5 48.5h1v1h-1zM107.5 49.5h1v1h-1zM106.5 50.5h1v1h-1zM106.5 51.5h1v1h-1zM107.5 53.5h1v1h-1zM117.5 53.5h1v1h-1zM148.0 27.5h1v1h-1zM162.0 30.5h1v1h-1zM157.0 33.5h1v1h-1zM162.0 33.5h1v1h-1zM171.0 33.5h1v1h-1zM139.0 35.5h1v1h-1zM138.0 36.5h1v1h-1zM139.0 37.5h1v1h-1zM149.0 39.5h1v1h-1zM151.0 39.5h1v1h-1zM162.0 39.5h1v1h-1zM163.0 39.5h1v1h-1zM168.0 40.5h1v1h-1zM169.0 40.5h1v1h-1zM170.0 40.5h1v1h-1zM140.0 41.5h1v1h-1zM138.0 42.5h1v1h-1zM139.0 42.5h1v1h-1zM144.0 43.5h1v1h-1zM163.0 45.5h1v1h-1zM170.0 45.5h1v1h-1zM160.0 46.5h1v1h-1zM171.0 46.5h1v1h-1zM160.0 47.5h1v1h-1zM173.0 47.5h1v1h-1zM174.0 47.5h1v1h-1zM174.0 48.5h1v1h-1zM162.0 53.5h1v1h-1zM202.0 27.5h1v1h-1zM205.0 27.5h1v1h-1zM208.0 29.5h1v1h-1zM224.0 30.5h1v1h-1zM217.0 31.5h1v1h-1zM207.0 32.5h1v1h-1zM216.0 32.5h1v1h-1zM206.0 33.5h1v1h-1zM226.0 35.5h1v1h-1zM192.0 36.5h1v1h-1zM226.0 37.5h1v1h-1zM216.0 38.5h1v1h-1zM205.0 39.5h1v1h-1zM204.0 41.5h1v1h-1zM221.0 41.5h1v1h-1zM223.0 41.5h1v1h-1zM200.0 42.5h1v1h-1zM221.0 42.5h1v1h-1zM228.0 43.5h1v1h-1zM223.0 44.5h1v1h-1zM228.0 44.5h1v1h-1zM214.0 45.5h1v1h-1zM227.0 46.5h1v1h-1zM231.0 46.5h1v1h-1zM225.0 47.5h1v1h-1zM231.0 47.5h1v1h-1zM226.0 49.5h1v1h-1zM215.0 51.5h1v1h-1zM257.0 28.5h1v1h-1zM272.0 30.5h1v1h-1zM273.0 31.5h1v1h-1zM247.0 32.5h1v1h-1zM271.0 32.5h1v1h-1zM276.0 32.5h1v1h-1zM272.0 34.5h1v1h-1zM259.0 36.5h1v1h-1zM278.0 36.5h1v1h-1zM282.0 36.5h1v1h-1zM258.0 37.5h1v1h-1zM271.0 38.5h1v1h-1zM246.0 39.5h1v1h-1zM256.0 40.5h1v1h-1zM279.0 40.5h1v1h-1zM273.0 41.5h1v1h-1zM249.0 42.5h1v1h-1zM249.0 43.5h1v1h-1zM268.0 44.5h1v1h-1zM271.0 44.5h1v1h-1zM272.0 44.5h1v1h-1zM271.0 45.5h1v1h-1zM276.0 45.5h1v1h-1zM279.0 46.5h1v1h-1zM282.0 50.5h1v1h-1zM280.0 51.5h1v1h-1zM45.0 69.5h1v1h-1zM48.0 75.5h1v1h-1zM48.0 76.5h1v1h-1zM43.0 82.5h1v1h-1zM42.0 83.5h1v1h-1zM45.0 84.5h1v1h-1zM35.0 86.5h1v1h-1zM34.0 88.5h1v1h-1zM45.0 92.5h1v1h-1zM31.0 94.5h1v1h-1zM37.0 97.5h1v1h-1zM38.0 97.5h1v1h-1zM32.0 98.5h1v1h-1zM35.0 99.5h1v1h-1zM65.0 100.5h1v1h-1zM68.0 102.5h1v1h-1zM67.0 104.5h1v1h-1zM54.0 107.5h1v1h-1zM55.0 107.5h1v1h-1zM108.5 79.5h1v1h-1zM94.5 81.5h1v1h-1zM96.5 82.5h1v1h-1zM96.5 83.5h1v1h-1zM100.5 83.5h1v1h-1zM95.5 84.5h1v1h-1zM94.5 85.5h1v1h-1zM95.5 85.5h1v1h-1zM108.5 85.5h1v1h-1zM112.5 86.5h1v1h-1zM124.5 86.5h1v1h-1zM116.5 87.5h1v1h-1zM121.5 87.5h1v1h-1zM100.5 88.5h1v1h-1zM111.5 88.5h1v1h-1zM110.5 89.5h1v1h-1zM99.5 91.5h1v1h-1zM107.5 92.5h1v1h-1zM116.5 92.5h1v1h-1zM84.5 93.5h1v1h-1zM111.5 93.5h1v1h-1zM119.5 93.5h1v1h-1zM83.5 94.5h1v1h-1zM84.5 94.5h1v1h-1zM85.5 95.5h1v1h-1zM94.5 95.5h1v1h-1zM111.5 97.5h1v1h-1zM103.5 98.5h1v1h-1zM106.5 98.5h1v1h-1zM107.5 98.5h1v1h-1zM113.5 98.5h1v1h-1zM103.5 99.5h1v1h-1zM106.5 100.5h1v1h-1zM117.5 102.5h1v1h-1zM100.5 104.5h1v1h-1zM122.5 104.5h1v1h-1zM123.5 104.5h1v1h-1zM100.5 105.5h1v1h-1zM103.5 106.5h1v1h-1zM146.0 80.5h1v1h-1zM147.0 80.5h1v1h-1zM147.0 82.5h1v1h-1zM148.0 84.5h1v1h-1zM165.0 85.5h1v1h-1zM170.0 88.5h1v1h-1zM174.0 88.5h1v1h-1zM169.0 89.5h1v1h-1zM163.0 90.5h1v1h-1zM164.0 90.5h1v1h-1zM152.0 91.5h1v1h-1zM163.0 91.5h1v1h-1zM164.0 91.5h1v1h-1zM167.0 91.5h1v1h-1zM168.0 91.5h1v1h-1zM168.0 92.5h1v1h-1zM138.0 94.5h1v1h-1zM151.0 94.5h1v1h-1zM176.0 95.5h1v1h-1zM141.0 96.5h1v1h-1zM139.0 97.5h1v1h-1zM140.0 97.5h1v1h-1zM143.0 97.5h1v1h-1zM162.0 97.5h1v1h-1zM167.0 97.5h1v1h-1zM168.0 97.5h1v1h-1zM166.0 98.5h1v1h-1zM160.0 99.5h1v1h-1zM159.0 103.5h1v1h-1zM160.0 104.5h1v1h-1zM160.0 106.5h1v1h-1zM173.0 107.5h1v1h-1zM232.0 66.5h1v1h-1zM213.0 82.5h1v1h-1zM194.0 83.5h1v1h-1zM195.0 83.5h1v1h-1zM203.0 83.5h1v1h-1zM223.0 84.5h1v1h-1zM198.0 85.5h1v1h-1zM221.0 86.5h1v1h-1zM218.0 87.5h1v1h-1zM218.0 88.5h1v1h-1zM229.0 90.5h1v1h-1zM206.0 91.5h1v1h-1zM205.0 92.5h1v1h-1zM206.0 92.5h1v1h-1zM193.0 93.5h1v1h-1zM221.0 95.5h1v1h-1zM193.0 96.5h1v1h-1zM193.0 97.5h1v1h-1zM199.0 97.5h1v1h-1zM214.0 102.5h1v1h-1zM225.0 104.5h1v1h-1zM214.0 107.5h1v1h-1zM226.0 108.5h1v1h-1zM257.0 79.5h1v1h-1zM274.0 81.5h1v1h-1zM260.0 83.5h1v1h-1zM259.0 85.5h1v1h-1zM280.0 85.5h1v1h-1zM269.0 86.5h1v1h-1zM248.0 87.5h1v1h-1zM250.0 87.5h1v1h-1zM263.0 87.5h1v1h-1zM273.0 87.5h1v1h-1zM276.0 88.5h1v1h-1zM247.0 89.5h1v1h-1zM259.0 89.5h1v1h-1zM278.0 89.5h1v1h-1zM274.0 91.5h1v1h-1zM271.0 93.5h1v1h-1zM277.0 93.5h1v1h-1zM258.0 94.5h1v1h-1zM259.0 94.5h1v1h-1zM247.0 95.5h1v1h-1zM248.0 95.5h1v1h-1zM249.0 96.5h1v1h-1zM273.0 98.5h1v1h-1zM280.0 106.5h1v1h-1zM267.0 107.5h1v1h-1zM269.0 107.5h1v1h-1zM267.0 108.5h1v1h-1z" fill="rgb(187,187,187)"/><path d="M40.0 27.5h1v1h-1zM45.0 27.5h1v1h-1zM46.0 27.5h1v1h-1zM43.0 28.5h1v1h-1zM60.0 30.5h1v1h-1zM61.0 30.5h1v1h-1zM33.0 32.5h1v1h-1zM32.0 34.5h1v1h-1zM59.0 34.5h1v1h-1zM60.0 34.5h1v1h-1zM65.0 36.5h1v1h-1zM66.0 36.5h1v1h-1zM37.0 41.5h1v1h-1zM65.0 41.5h1v1h-1zM32.0 42.5h1v1h-1zM65.0 42.5h1v1h-1zM36.0 43.5h1v1h-1zM61.0 45.5h1v1h-1zM62.0 45.5h1v1h-1zM37.0 46.5h1v1h-1zM55.0 50.5h1v1h-1zM93.5 29.5h1v1h-1zM94.5 29.5h1v1h-1zM95.5 29.5h1v1h-1zM117.5 30.5h1v1h-1zM98.5 31.5h1v1h-1zM117.5 31.5h1v1h-1zM119.5 35.5h1v1h-1zM100.5 36.5h1v1h-1zM104.5 36.5h1v1h-1zM105.5 36.5h1v1h-1zM99.5 37.5h1v1h-1zM108.5 37.5h1v1h-1zM107.5 39.5h1v1h-1zM84.5 40.5h1v1h-1zM108.5 40.5h1v1h-1zM114.5 40.5h1v1h-1zM95.5 41.5h1v1h-1zM87.5 43.5h1v1h-1zM107.5 46.5h1v1h-1zM104.5 47.5h1v1h-1zM119.5 50.5h1v1h-1zM120.5 50.5h1v1h-1zM122.5 50.5h1v1h-1zM123.5 50.5h1v1h-1zM117.5 52.5h1v1h-1zM164.0 31.5h1v1h-1zM152.0 32.5h1v1h-1zM170.0 32.5h1v1h-1zM173.0 32.5h1v1h-1zM152.0 33.5h1v1h-1zM173.0 33.5h1v1h-1zM161.0 34.5h1v1h-1zM140.0 35.5h1v1h-1zM152.0 36.5h1v1h-1zM163.0 36.5h1v1h-1zM137.0 37.5h1v1h-1zM160.0 38.5h1v1h-1zM161.0 38.5h1v1h-1zM174.0 38.5h1v1h-1zM175.0 38.5h1v1h-1zM139.0 39.5h1v1h-1zM159.0 39.5h1v1h-1zM149.0 40.5h1v1h-1zM164.0 40.5h1v1h-1zM175.0 40.5h1v1h-1zM176.0 40.5h1v1h-1zM141.0 41.5h1v1h-1zM147.0 41.5h1v1h-1zM148.0 42.5h1v1h-1zM171.0 48.5h1v1h-1zM206.0 27.5h1v1h-1zM207.0 28.5h1v1h-1zM205.0 29.5h1v1h-1zM215.0 29.5h1v1h-1zM216.0 29.5h1v1h-1zM205.0 30.5h1v1h-1zM206.0 30.5h1v1h-1zM223.0 30.5h1v1h-1zM233.0 30.5h1v1h-1zM207.0 31.5h1v1h-1zM233.0 31.5h1v1h-1zM212.0 32.5h1v1h-1zM226.0 32.5h1v1h-1zM227.0 32.5h1v1h-1zM212.0 33.5h1v1h-1zM218.0 34.5h1v1h-1zM219.0 34.5h1v1h-1zM217.0 35.5h1v1h-1zM191.0 36.5h1v1h-1zM191.0 37.5h1v1h-1zM215.0 37.5h1v1h-1zM217.0 38.5h1v1h-1zM225.0 38.5h1v1h-1zM226.0 38.5h1v1h-1zM227.0 38.5h1v1h-1zM223.0 39.5h1v1h-1zM224.0 39.5h1v1h-1zM218.0 40.5h1v1h-1zM224.0 40.5h1v1h-1zM215.0 44.5h1v1h-1zM222.0 45.5h1v1h-1zM216.0 46.5h1v1h-1zM258.0 29.5h1v1h-1zM267.0 30.5h1v1h-1zM278.0 30.5h1v1h-1zM267.0 31.5h1v1h-1zM275.0 31.5h1v1h-1zM276.0 31.5h1v1h-1zM248.0 32.5h1v1h-1zM267.0 33.5h1v1h-1zM268.0 33.5h1v1h-1zM247.0 36.5h1v1h-1zM269.0 37.5h1v1h-1zM270.0 37.5h1v1h-1zM274.0 38.5h1v1h-1zM250.0 41.5h1v1h-1zM279.0 41.5h1v1h-1zM250.0 42.5h1v1h-1zM279.0 42.5h1v1h-1zM276.0 43.5h1v1h-1zM276.0 44.5h1v1h-1zM269.0 48.5h1v1h-1zM267.0 50.5h1v1h-1zM268.0 51.5h1v1h-1zM268.0 52.5h1v1h-1zM268.0 53.5h1v1h-1zM40.0 83.5h1v1h-1zM38.0 85.5h1v1h-1zM39.0 85.5h1v1h-1zM33.0 88.5h1v1h-1zM48.0 88.5h1v1h-1zM33.0 90.5h1v1h-1zM33.0 95.5h1v1h-1zM34.0 95.5h1v1h-1zM60.0 99.5h1v1h-1zM62.0 99.5h1v1h-1zM54.0 100.5h1v1h-1zM68.0 104.5h1v1h-1zM68.0 107.5h1v1h-1zM56.0 108.5h1v1h-1zM98.5 86.5h1v1h-1zM112.5 88.5h1v1h-1zM108.5 91.5h1v1h-1zM109.5 91.5h1v1h-1zM117.5 91.5h1v1h-1zM83.5 93.5h1v1h-1zM87.5 97.5h1v1h-1zM88.5 98.5h1v1h-1zM107.5 102.5h1v1h-1zM107.5 107.5h1v1h-1zM115.5 108.5h1v1h-1zM149.0 83.5h1v1h-1zM147.0 84.5h1v1h-1zM140.0 87.5h1v1h-1zM152.0 87.5h1v1h-1zM166.0 87.5h1v1h-1zM167.0 92.5h1v1h-1zM157.0 93.5h1v1h-1zM148.0 97.5h1v1h-1zM149.0 97.5h1v1h-1zM162.0 100.5h1v1h-1zM170.0 100.5h1v1h-1zM153.0 102.5h1v1h-1zM154.0 102.5h1v1h-1zM198.0 84.5h1v1h-1zM200.0 84.5h1v1h-1zM222.0 85.5h1v1h-1zM206.0 88.5h1v1h-1zM222.0 91.5h1v1h-1zM191.0 92.5h1v1h-1zM205.0 93.5h1v1h-1zM194.0 95.5h1v1h-1zM205.0 95.5h1v1h-1zM215.0 95.5h1v1h-1zM201.0 96.5h1v1h-1zM205.0 96.5h1v1h-1zM218.0 98.5h1v1h-1zM217.0 100.5h1v1h-1zM221.0 100.5h1v1h-1zM215.0 101.5h1v1h-1zM214.0 104.5h1v1h-1zM214.0 106.5h1v1h-1zM227.0 106.5h1v1h-1zM256.0 81.5h1v1h-1zM255.0 82.5h1v1h-1zM252.0 85.5h1v1h-1zM248.0 86.5h1v1h-1zM249.0 86.5h1v1h-1zM247.0 90.5h1v1h-1zM245.0 92.5h1v1h-1zM282.0 94.5h1v1h-1zM256.0 95.5h1v1h-1zM257.0 95.5h1v1h-1zM282.0 95.5h1v1h-1zM252.0 96.5h1v1h-1zM271.0 99.5h1v1h-1z" fill="rgb(170,170,170)"/><path d="M42.0 24.5h1v1h-1zM41.0 25.5h1v1h-1zM43.0 27.5h1v1h-1zM48.0 27.5h1v1h-1zM44.0 28.5h1v1h-1zM33.0 31.5h1v1h-1zM43.0 34.5h1v1h-1zM42.0 35.5h1v1h-1zM30.0 37.5h1v1h-1zM31.0 37.5h1v1h-1zM39.0 40.5h1v1h-1zM33.0 43.5h1v1h-1zM31.0 44.5h1v1h-1zM36.0 44.5h1v1h-1zM37.0 44.5h1v1h-1zM60.0 44.5h1v1h-1zM66.0 44.5h1v1h-1zM36.0 45.5h1v1h-1zM37.0 45.5h1v1h-1zM65.0 49.5h1v1h-1zM53.0 53.5h1v1h-1zM63.0 53.5h1v1h-1zM124.5 18.5h1v1h-1zM125.5 18.5h1v1h-1zM90.5 29.5h1v1h-1zM96.5 29.5h1v1h-1zM83.5 30.5h1v1h-1zM109.5 30.5h1v1h-1zM119.5 30.5h1v1h-1zM120.5 30.5h1v1h-1zM109.5 31.5h1v1h-1zM121.5 31.5h1v1h-1zM97.5 32.5h1v1h-1zM109.5 32.5h1v1h-1zM110.5 32.5h1v1h-1zM87.5 34.5h1v1h-1zM99.5 35.5h1v1h-1zM99.5 36.5h1v1h-1zM122.5 36.5h1v1h-1zM85.5 38.5h1v1h-1zM103.5 39.5h1v1h-1zM108.5 39.5h1v1h-1zM119.5 39.5h1v1h-1zM96.5 40.5h1v1h-1zM110.5 40.5h1v1h-1zM93.5 41.5h1v1h-1zM94.5 42.5h1v1h-1zM88.5 43.5h1v1h-1zM114.5 43.5h1v1h-1zM88.5 44.5h1v1h-1zM108.5 44.5h1v1h-1zM117.5 44.5h1v1h-1zM94.5 45.5h1v1h-1zM107.5 47.5h1v1h-1zM121.5 47.5h1v1h-1zM118.5 51.5h1v1h-1zM120.5 51.5h1v1h-1zM121.5 51.5h1v1h-1zM149.0 27.5h1v1h-1zM150.0 27.5h1v1h-1zM148.0 28.5h1v1h-1zM175.0 28.5h1v1h-1zM150.0 29.5h1v1h-1zM152.0 29.5h1v1h-1zM166.0 30.5h1v1h-1zM167.0 30.5h1v1h-1zM170.0 30.5h1v1h-1zM140.0 32.5h1v1h-1zM141.0 32.5h1v1h-1zM142.0 32.5h1v1h-1zM161.0 32.5h1v1h-1zM172.0 33.5h1v1h-1zM153.0 34.5h1v1h-1zM157.0 34.5h1v1h-1zM174.0 34.5h1v1h-1zM173.0 35.5h1v1h-1zM163.0 37.5h1v1h-1zM151.0 38.5h1v1h-1zM164.0 38.5h1v1h-1zM168.0 38.5h1v1h-1zM172.0 38.5h1v1h-1zM155.0 39.5h1v1h-1zM161.0 39.5h1v1h-1zM168.0 39.5h1v1h-1zM171.0 39.5h1v1h-1zM161.0 40.5h1v1h-1zM165.0 40.5h1v1h-1zM139.0 41.5h1v1h-1zM148.0 41.5h1v1h-1zM166.0 41.5h1v1h-1zM165.0 43.5h1v1h-1zM168.0 44.5h1v1h-1zM141.0 45.5h1v1h-1zM161.0 46.5h1v1h-1zM161.0 47.5h1v1h-1zM171.0 49.5h1v1h-1zM172.0 49.5h1v1h-1zM172.0 50.5h1v1h-1zM172.0 52.5h1v1h-1zM176.0 52.5h1v1h-1zM158.0 53.5h1v1h-1zM172.0 53.5h1v1h-1zM202.0 26.5h1v1h-1zM203.0 26.5h1v1h-1zM197.0 28.5h1v1h-1zM202.0 29.5h1v1h-1zM206.0 29.5h1v1h-1zM219.0 30.5h1v1h-1zM196.0 31.5h1v1h-1zM206.0 34.5h1v1h-1zM216.0 34.5h1v1h-1zM228.0 34.5h1v1h-1zM206.0 35.5h1v1h-1zM214.0 36.5h1v1h-1zM223.0 36.5h1v1h-1zM224.0 36.5h1v1h-1zM214.0 37.5h1v1h-1zM227.0 37.5h1v1h-1zM218.0 39.5h1v1h-1zM221.0 39.5h1v1h-1zM192.0 40.5h1v1h-1zM194.0 40.5h1v1h-1zM215.0 40.5h1v1h-1zM222.0 40.5h1v1h-1zM192.0 41.5h1v1h-1zM219.0 41.5h1v1h-1zM198.0 42.5h1v1h-1zM204.0 42.5h1v1h-1zM213.0 47.5h1v1h-1zM214.0 47.5h1v1h-1zM225.0 48.5h1v1h-1zM212.0 50.5h1v1h-1zM213.0 50.5h1v1h-1zM226.0 52.5h1v1h-1zM218.0 53.5h1v1h-1zM225.0 53.5h1v1h-1zM252.0 24.5h1v1h-1zM253.0 28.5h1v1h-1zM246.0 29.5h1v1h-1zM250.0 29.5h1v1h-1zM253.0 29.5h1v1h-1zM261.0 29.5h1v1h-1zM275.0 30.5h1v1h-1zM281.0 30.5h1v1h-1zM278.0 32.5h1v1h-1zM269.0 33.5h1v1h-1zM267.0 34.5h1v1h-1zM269.0 34.5h1v1h-1zM259.0 35.5h1v1h-1zM267.0 35.5h1v1h-1zM247.0 37.5h1v1h-1zM257.0 37.5h1v1h-1zM245.0 38.5h1v1h-1zM248.0 38.5h1v1h-1zM270.0 38.5h1v1h-1zM272.0 38.5h1v1h-1zM273.0 38.5h1v1h-1zM245.0 39.5h1v1h-1zM249.0 40.5h1v1h-1zM257.0 40.5h1v1h-1zM252.0 41.5h1v1h-1zM267.0 45.5h1v1h-1zM272.0 45.5h1v1h-1zM279.0 45.5h1v1h-1zM266.0 47.5h1v1h-1zM264.0 48.5h1v1h-1zM280.0 49.5h1v1h-1zM279.0 50.5h1v1h-1zM264.0 53.5h1v1h-1zM267.0 53.5h1v1h-1zM41.0 83.5h1v1h-1zM43.0 84.5h1v1h-1zM47.0 88.5h1v1h-1zM31.0 92.5h1v1h-1zM32.0 92.5h1v1h-1zM46.0 92.5h1v1h-1zM47.0 92.5h1v1h-1zM43.0 93.5h1v1h-1zM44.0 94.5h1v1h-1zM45.0 94.5h1v1h-1zM35.0 95.5h1v1h-1zM36.0 98.5h1v1h-1zM57.0 98.5h1v1h-1zM57.0 99.5h1v1h-1zM65.0 99.5h1v1h-1zM68.0 100.5h1v1h-1zM54.0 103.5h1v1h-1zM65.0 103.5h1v1h-1zM51.0 104.5h1v1h-1zM53.0 104.5h1v1h-1zM51.0 105.5h1v1h-1zM54.0 106.5h1v1h-1zM56.0 107.5h1v1h-1zM66.0 107.5h1v1h-1zM54.0 108.5h1v1h-1zM55.0 108.5h1v1h-1zM67.0 108.5h1v1h-1zM91.5 82.5h1v1h-1zM87.5 86.5h1v1h-1zM99.5 87.5h1v1h-1zM99.5 94.5h1v1h-1zM99.5 95.5h1v1h-1zM87.5 96.5h1v1h-1zM88.5 96.5h1v1h-1zM98.5 97.5h1v1h-1zM101.5 97.5h1v1h-1zM109.5 98.5h1v1h-1zM87.5 99.5h1v1h-1zM105.5 99.5h1v1h-1zM103.5 101.5h1v1h-1zM104.5 102.5h1v1h-1zM118.5 103.5h1v1h-1zM103.5 104.5h1v1h-1zM106.5 108.5h1v1h-1zM145.0 82.5h1v1h-1zM146.0 82.5h1v1h-1zM146.0 83.5h1v1h-1zM147.0 83.5h1v1h-1zM152.0 85.5h1v1h-1zM153.0 86.5h1v1h-1zM166.0 86.5h1v1h-1zM154.0 87.5h1v1h-1zM153.0 88.5h1v1h-1zM154.0 88.5h1v1h-1zM138.0 90.5h1v1h-1zM155.0 90.5h1v1h-1zM169.0 90.5h1v1h-1zM153.0 91.5h1v1h-1zM154.0 91.5h1v1h-1zM138.0 93.5h1v1h-1zM173.0 95.5h1v1h-1zM150.0 98.5h1v1h-1zM143.0 99.5h1v1h-1zM158.0 102.5h1v1h-1zM174.0 104.5h1v1h-1zM199.0 83.5h1v1h-1zM200.0 83.5h1v1h-1zM195.0 84.5h1v1h-1zM194.0 87.5h1v1h-1zM206.0 89.5h1v1h-1zM192.0 90.5h1v1h-1zM221.0 91.5h1v1h-1zM203.0 94.5h1v1h-1zM192.0 95.5h1v1h-1zM193.0 95.5h1v1h-1zM197.0 97.5h1v1h-1zM196.0 98.5h1v1h-1zM217.0 98.5h1v1h-1zM219.0 98.5h1v1h-1zM225.0 99.5h1v1h-1zM225.0 100.5h1v1h-1zM226.0 103.5h1v1h-1zM226.0 104.5h1v1h-1zM274.0 88.5h1v1h-1zM245.0 89.5h1v1h-1zM260.0 89.5h1v1h-1zM248.0 90.5h1v1h-1zM261.0 91.5h1v1h-1zM259.0 93.5h1v1h-1zM260.0 95.5h1v1h-1zM257.0 96.5h1v1h-1zM272.0 98.5h1v1h-1zM245.0 99.5h1v1h-1zM272.0 99.5h1v1h-1zM268.0 100.5h1v1h-1zM271.0 100.5h1v1h-1zM247.0 101.5h1v1h-1zM279.0 101.5h1v1h-1zM283.0 105.5h1v1h-1zM268.0 108.5h1v1h-1zM269.0 108.5h1v1h-1z" fill="rgb(153,153,153)"/><path d="M53.0 14.5h1v1h-1zM40.0 26.5h1v1h-1zM41.0 26.5h1v1h-1zM40.0 28.5h1v1h-1zM41.0 29.5h1v1h-1zM42.0 29.5h1v1h-1zM35.0 31.5h1v1h-1zM43.0 31.5h1v1h-1zM45.0 37.5h1v1h-1zM53.0 38.5h1v1h-1zM61.0 41.5h1v1h-1zM62.0 44.5h1v1h-1zM54.0 51.5h1v1h-1zM64.0 51.5h1v1h-1zM97.5 30.5h1v1h-1zM114.5 31.5h1v1h-1zM107.5 32.5h1v1h-1zM116.5 32.5h1v1h-1zM97.5 34.5h1v1h-1zM99.5 34.5h1v1h-1zM120.5 35.5h1v1h-1zM101.5 36.5h1v1h-1zM97.5 37.5h1v1h-1zM101.5 37.5h1v1h-1zM84.5 38.5h1v1h-1zM96.5 39.5h1v1h-1zM126.5 39.5h1v1h-1zM111.5 42.5h1v1h-1zM108.5 43.5h1v1h-1zM108.5 45.5h1v1h-1zM107.5 48.5h1v1h-1zM153.0 18.5h1v1h-1zM148.0 29.5h1v1h-1zM151.0 30.5h1v1h-1zM153.0 30.5h1v1h-1zM169.0 30.5h1v1h-1zM163.0 32.5h1v1h-1zM141.0 34.5h1v1h-1zM162.0 35.5h1v1h-1zM172.0 35.5h1v1h-1zM150.0 37.5h1v1h-1zM137.0 38.5h1v1h-1zM138.0 38.5h1v1h-1zM150.0 38.5h1v1h-1zM165.0 38.5h1v1h-1zM140.0 39.5h1v1h-1zM147.0 40.5h1v1h-1zM162.0 40.5h1v1h-1zM163.0 40.5h1v1h-1zM171.0 40.5h1v1h-1zM145.0 41.5h1v1h-1zM141.0 42.5h1v1h-1zM164.0 42.5h1v1h-1zM167.0 43.5h1v1h-1zM162.0 44.5h1v1h-1zM170.0 44.5h1v1h-1zM159.0 49.5h1v1h-1zM160.0 49.5h1v1h-1zM162.0 52.5h1v1h-1zM205.0 28.5h1v1h-1zM195.0 29.5h1v1h-1zM219.0 29.5h1v1h-1zM221.0 29.5h1v1h-1zM200.0 30.5h1v1h-1zM205.0 33.5h1v1h-1zM226.0 34.5h1v1h-1zM221.0 35.5h1v1h-1zM205.0 36.5h1v1h-1zM225.0 36.5h1v1h-1zM226.0 36.5h1v1h-1zM224.0 37.5h1v1h-1zM225.0 37.5h1v1h-1zM224.0 38.5h1v1h-1zM194.0 39.5h1v1h-1zM227.0 39.5h1v1h-1zM216.0 40.5h1v1h-1zM224.0 41.5h1v1h-1zM194.0 44.5h1v1h-1zM217.0 45.5h1v1h-1zM218.0 45.5h1v1h-1zM215.0 52.5h1v1h-1zM275.0 27.5h1v1h-1zM282.0 28.5h1v1h-1zM254.0 29.5h1v1h-1zM257.0 29.5h1v1h-1zM274.0 29.5h1v1h-1zM252.0 30.5h1v1h-1zM259.0 30.5h1v1h-1zM281.0 31.5h1v1h-1zM282.0 31.5h1v1h-1zM260.0 32.5h1v1h-1zM248.0 33.5h1v1h-1zM283.0 33.5h1v1h-1zM247.0 34.5h1v1h-1zM274.0 34.5h1v1h-1zM281.0 34.5h1v1h-1zM282.0 34.5h1v1h-1zM282.0 35.5h1v1h-1zM260.0 36.5h1v1h-1zM280.0 38.5h1v1h-1zM247.0 39.5h1v1h-1zM248.0 39.5h1v1h-1zM273.0 39.5h1v1h-1zM277.0 39.5h1v1h-1zM275.0 40.5h1v1h-1zM277.0 40.5h1v1h-1zM278.0 40.5h1v1h-1zM254.0 41.5h1v1h-1zM245.0 43.5h1v1h-1zM250.0 43.5h1v1h-1zM273.0 44.5h1v1h-1zM280.0 47.5h1v1h-1zM268.0 48.5h1v1h-1zM285.0 50.5h1v1h-1zM36.0 85.5h1v1h-1zM30.0 86.5h1v1h-1zM45.0 88.5h1v1h-1zM44.0 90.5h1v1h-1zM44.0 92.5h1v1h-1zM33.0 93.5h1v1h-1zM43.0 94.5h1v1h-1zM31.0 97.5h1v1h-1zM40.0 97.5h1v1h-1zM34.0 98.5h1v1h-1zM58.0 99.5h1v1h-1zM59.0 99.5h1v1h-1zM65.0 104.5h1v1h-1zM65.0 107.5h1v1h-1zM97.5 86.5h1v1h-1zM86.5 88.5h1v1h-1zM101.5 88.5h1v1h-1zM99.5 89.5h1v1h-1zM111.5 90.5h1v1h-1zM98.5 91.5h1v1h-1zM98.5 92.5h1v1h-1zM86.5 93.5h1v1h-1zM90.5 97.5h1v1h-1zM83.5 98.5h1v1h-1zM113.5 99.5h1v1h-1zM85.5 101.5h1v1h-1zM107.5 108.5h1v1h-1zM179.0 74.5h1v1h-1zM142.0 87.5h1v1h-1zM140.0 89.5h1v1h-1zM141.0 98.5h1v1h-1zM143.0 98.5h1v1h-1zM162.0 101.5h1v1h-1zM171.0 102.5h1v1h-1zM160.0 103.5h1v1h-1zM160.0 105.5h1v1h-1zM171.0 107.5h1v1h-1zM172.0 107.5h1v1h-1zM204.0 84.5h1v1h-1zM196.0 85.5h1v1h-1zM205.0 86.5h1v1h-1zM193.0 92.5h1v1h-1zM196.0 96.5h1v1h-1zM213.0 105.5h1v1h-1zM225.0 106.5h1v1h-1zM224.0 108.5h1v1h-1zM255.0 84.5h1v1h-1zM259.0 84.5h1v1h-1zM260.0 85.5h1v1h-1zM250.0 86.5h1v1h-1zM258.0 88.5h1v1h-1zM246.0 91.5h1v1h-1zM257.0 94.5h1v1h-1zM274.0 99.5h1v1h-1zM276.0 99.5h1v1h-1zM280.0 102.5h1v1h-1zM280.0 103.5h1v1h-1zM282.0 103.5h1v1h-1zM267.0 104.5h1v1h-1zM280.0 104.5h1v1h-1zM281.0 104.5h1v1h-1zM280.0 105.5h1v1h-1z" fill="rgb(136,136,136)"/><path d="M42.0 25.5h1v1h-1zM41.0 28.5h1v1h-1zM34.0 32.5h1v1h-1zM33.0 33.5h1v1h-1zM32.0 35.5h1v1h-1zM33.0 36.5h1v1h-1zM32.0 38.5h1v1h-1zM40.0 39.5h1v1h-1zM35.0 41.5h1v1h-1zM60.0 41.5h1v1h-1zM37.0 42.5h1v1h-1zM64.0 48.5h1v1h-1zM65.0 48.5h1v1h-1zM65.0 50.5h1v1h-1zM95.5 28.5h1v1h-1zM92.5 30.5h1v1h-1zM96.5 30.5h1v1h-1zM99.5 33.5h1v1h-1zM102.5 35.5h1v1h-1zM109.5 35.5h1v1h-1zM122.5 35.5h1v1h-1zM98.5 36.5h1v1h-1zM109.5 36.5h1v1h-1zM85.5 37.5h1v1h-1zM107.5 38.5h1v1h-1zM118.5 38.5h1v1h-1zM113.5 39.5h1v1h-1zM115.5 39.5h1v1h-1zM116.5 39.5h1v1h-1zM95.5 40.5h1v1h-1zM86.5 42.5h1v1h-1zM110.5 45.5h1v1h-1zM107.5 51.5h1v1h-1zM119.5 51.5h1v1h-1zM113.5 53.5h1v1h-1zM114.5 53.5h1v1h-1zM144.0 30.5h1v1h-1zM142.0 31.5h1v1h-1zM162.0 31.5h1v1h-1zM166.0 31.5h1v1h-1zM143.0 32.5h1v1h-1zM157.0 32.5h1v1h-1zM138.0 35.5h1v1h-1zM162.0 36.5h1v1h-1zM140.0 37.5h1v1h-1zM140.0 38.5h1v1h-1zM160.0 39.5h1v1h-1zM165.0 39.5h1v1h-1zM139.0 40.5h1v1h-1zM151.0 40.5h1v1h-1zM167.0 40.5h1v1h-1zM168.0 43.5h1v1h-1zM167.0 44.5h1v1h-1zM172.0 48.5h1v1h-1zM170.0 53.5h1v1h-1zM218.0 28.5h1v1h-1zM200.0 29.5h1v1h-1zM222.0 29.5h1v1h-1zM197.0 30.5h1v1h-1zM201.0 30.5h1v1h-1zM207.0 30.5h1v1h-1zM217.0 30.5h1v1h-1zM222.0 30.5h1v1h-1zM224.0 32.5h1v1h-1zM225.0 32.5h1v1h-1zM216.0 33.5h1v1h-1zM224.0 33.5h1v1h-1zM193.0 34.5h1v1h-1zM225.0 35.5h1v1h-1zM228.0 35.5h1v1h-1zM227.0 36.5h1v1h-1zM193.0 37.5h1v1h-1zM204.0 37.5h1v1h-1zM205.0 37.5h1v1h-1zM218.0 38.5h1v1h-1zM206.0 39.5h1v1h-1zM195.0 40.5h1v1h-1zM200.0 40.5h1v1h-1zM194.0 41.5h1v1h-1zM200.0 41.5h1v1h-1zM196.0 42.5h1v1h-1zM224.0 44.5h1v1h-1zM223.0 46.5h1v1h-1zM227.0 47.5h1v1h-1zM226.0 48.5h1v1h-1zM226.0 50.5h1v1h-1zM224.0 53.5h1v1h-1zM277.0 31.5h1v1h-1zM249.0 32.5h1v1h-1zM271.0 33.5h1v1h-1zM273.0 33.5h1v1h-1zM246.0 34.5h1v1h-1zM261.0 34.5h1v1h-1zM262.0 34.5h1v1h-1zM247.0 35.5h1v1h-1zM278.0 35.5h1v1h-1zM271.0 36.5h1v1h-1zM279.0 36.5h1v1h-1zM271.0 37.5h1v1h-1zM273.0 37.5h1v1h-1zM274.0 37.5h1v1h-1zM279.0 37.5h1v1h-1zM251.0 39.5h1v1h-1zM255.0 40.5h1v1h-1zM272.0 40.5h1v1h-1zM251.0 41.5h1v1h-1zM251.0 43.5h1v1h-1zM279.0 49.5h1v1h-1zM280.0 50.5h1v1h-1zM281.0 50.5h1v1h-1zM279.0 53.5h1v1h-1zM44.0 69.5h1v1h-1zM43.0 83.5h1v1h-1zM47.0 84.5h1v1h-1zM35.0 85.5h1v1h-1zM47.0 86.5h1v1h-1zM48.0 87.5h1v1h-1zM35.0 88.5h1v1h-1zM31.0 93.5h1v1h-1zM38.0 96.5h1v1h-1zM39.0 97.5h1v1h-1zM62.0 100.5h1v1h-1zM65.0 101.5h1v1h-1zM55.0 102.5h1v1h-1zM68.0 105.5h1v1h-1zM66.0 106.5h1v1h-1zM64.0 108.5h1v1h-1zM96.5 81.5h1v1h-1zM100.5 84.5h1v1h-1zM91.5 85.5h1v1h-1zM97.5 85.5h1v1h-1zM99.5 86.5h1v1h-1zM87.5 87.5h1v1h-1zM98.5 90.5h1v1h-1zM112.5 90.5h1v1h-1zM86.5 92.5h1v1h-1zM95.5 95.5h1v1h-1zM89.5 97.5h1v1h-1zM110.5 98.5h1v1h-1zM106.5 99.5h1v1h-1zM107.5 100.5h1v1h-1zM104.5 103.5h1v1h-1zM106.5 106.5h1v1h-1zM103.5 107.5h1v1h-1zM114.5 107.5h1v1h-1zM116.5 107.5h1v1h-1zM114.5 108.5h1v1h-1zM145.0 84.5h1v1h-1zM151.0 84.5h1v1h-1zM147.0 85.5h1v1h-1zM153.0 87.5h1v1h-1zM139.0 92.5h1v1h-1zM150.0 93.5h1v1h-1zM139.0 96.5h1v1h-1zM140.0 96.5h1v1h-1zM142.0 97.5h1v1h-1zM142.0 98.5h1v1h-1zM167.0 98.5h1v1h-1zM160.0 100.5h1v1h-1zM172.0 103.5h1v1h-1zM161.0 104.5h1v1h-1zM162.0 108.5h1v1h-1zM168.0 108.5h1v1h-1zM233.0 66.5h1v1h-1zM202.0 83.5h1v1h-1zM195.0 85.5h1v1h-1zM206.0 85.5h1v1h-1zM195.0 86.5h1v1h-1zM195.0 87.5h1v1h-1zM207.0 87.5h1v1h-1zM193.0 91.5h1v1h-1zM202.0 95.5h1v1h-1zM202.0 96.5h1v1h-1zM194.0 97.5h1v1h-1zM224.0 101.5h1v1h-1zM214.0 105.5h1v1h-1zM223.0 107.5h1v1h-1zM224.0 107.5h1v1h-1zM225.0 107.5h1v1h-1zM217.0 108.5h1v1h-1zM223.0 108.5h1v1h-1zM225.0 108.5h1v1h-1zM257.0 80.5h1v1h-1zM256.0 82.5h1v1h-1zM258.0 83.5h1v1h-1zM251.0 85.5h1v1h-1zM259.0 87.5h1v1h-1zM263.0 88.5h1v1h-1zM258.0 89.5h1v1h-1zM260.0 91.5h1v1h-1zM246.0 92.5h1v1h-1zM257.0 92.5h1v1h-1zM245.0 93.5h1v1h-1zM277.0 94.5h1v1h-1zM251.0 96.5h1v1h-1zM272.0 100.5h1v1h-1zM279.0 100.5h1v1h-1zM279.0 103.5h1v1h-1zM268.0 104.5h1v1h-1z" fill="rgb(119,119,119)"/><path d="M41.0 27.5h1v1h-1zM35.0 32.5h1v1h-1zM36.0 41.5h1v1h-1zM64.0 45.5h1v1h-1zM65.0 46.5h1v1h-1zM66.0 46.5h1v1h-1zM56.0 51.5h1v1h-1zM65.0 51.5h1v1h-1zM58.0 53.5h1v1h-1zM91.5 30.5h1v1h-1zM98.5 30.5h1v1h-1zM98.5 32.5h1v1h-1zM97.5 33.5h1v1h-1zM98.5 34.5h1v1h-1zM85.5 36.5h1v1h-1zM109.5 37.5h1v1h-1zM108.5 38.5h1v1h-1zM110.5 38.5h1v1h-1zM119.5 38.5h1v1h-1zM86.5 39.5h1v1h-1zM111.5 39.5h1v1h-1zM117.5 39.5h1v1h-1zM86.5 40.5h1v1h-1zM93.5 40.5h1v1h-1zM95.5 42.5h1v1h-1zM112.5 42.5h1v1h-1zM112.5 43.5h1v1h-1zM113.5 44.5h1v1h-1zM114.5 44.5h1v1h-1zM117.5 45.5h1v1h-1zM118.5 50.5h1v1h-1zM109.5 53.5h1v1h-1zM112.5 53.5h1v1h-1zM143.0 30.5h1v1h-1zM146.0 30.5h1v1h-1zM150.0 30.5h1v1h-1zM165.0 31.5h1v1h-1zM151.0 33.5h1v1h-1zM170.0 33.5h1v1h-1zM171.0 35.5h1v1h-1zM151.0 36.5h1v1h-1zM161.0 37.5h1v1h-1zM171.0 37.5h1v1h-1zM139.0 38.5h1v1h-1zM140.0 40.5h1v1h-1zM144.0 41.5h1v1h-1zM146.0 42.5h1v1h-1zM145.0 43.5h1v1h-1zM172.0 47.5h1v1h-1zM161.0 49.5h1v1h-1zM160.0 51.5h1v1h-1zM161.0 52.5h1v1h-1zM201.0 27.5h1v1h-1zM219.0 28.5h1v1h-1zM204.0 29.5h1v1h-1zM207.0 29.5h1v1h-1zM204.0 30.5h1v1h-1zM218.0 31.5h1v1h-1zM224.0 31.5h1v1h-1zM217.0 32.5h1v1h-1zM215.0 33.5h1v1h-1zM217.0 33.5h1v1h-1zM225.0 33.5h1v1h-1zM205.0 34.5h1v1h-1zM227.0 34.5h1v1h-1zM193.0 35.5h1v1h-1zM220.0 35.5h1v1h-1zM227.0 35.5h1v1h-1zM217.0 36.5h1v1h-1zM228.0 36.5h1v1h-1zM204.0 40.5h1v1h-1zM195.0 41.5h1v1h-1zM199.0 41.5h1v1h-1zM222.0 41.5h1v1h-1zM219.0 44.5h1v1h-1zM224.0 46.5h1v1h-1zM226.0 46.5h1v1h-1zM226.0 47.5h1v1h-1zM218.0 52.5h1v1h-1zM224.0 52.5h1v1h-1zM216.0 53.5h1v1h-1zM217.0 53.5h1v1h-1zM250.0 30.5h1v1h-1zM251.0 30.5h1v1h-1zM273.0 30.5h1v1h-1zM274.0 30.5h1v1h-1zM279.0 33.5h1v1h-1zM279.0 34.5h1v1h-1zM271.0 35.5h1v1h-1zM280.0 35.5h1v1h-1zM283.0 35.5h1v1h-1zM245.0 36.5h1v1h-1zM280.0 36.5h1v1h-1zM269.0 38.5h1v1h-1zM257.0 39.5h1v1h-1zM275.0 39.5h1v1h-1zM273.0 40.5h1v1h-1zM273.0 45.5h1v1h-1zM277.0 46.5h1v1h-1zM280.0 48.5h1v1h-1zM268.0 49.5h1v1h-1zM268.0 50.5h1v1h-1zM279.0 51.5h1v1h-1zM269.0 53.5h1v1h-1zM46.0 84.5h1v1h-1zM36.0 86.5h1v1h-1zM33.0 89.5h1v1h-1zM34.0 89.5h1v1h-1zM44.0 89.5h1v1h-1zM41.0 95.5h1v1h-1zM37.0 96.5h1v1h-1zM31.0 98.5h1v1h-1zM35.0 98.5h1v1h-1zM54.0 99.5h1v1h-1zM63.0 99.5h1v1h-1zM64.0 100.5h1v1h-1zM65.0 102.5h1v1h-1zM54.0 104.5h1v1h-1zM67.0 105.5h1v1h-1zM55.0 106.5h1v1h-1zM94.5 82.5h1v1h-1zM93.5 83.5h1v1h-1zM94.5 83.5h1v1h-1zM92.5 84.5h1v1h-1zM97.5 84.5h1v1h-1zM92.5 86.5h1v1h-1zM97.5 93.5h1v1h-1zM92.5 95.5h1v1h-1zM92.5 97.5h1v1h-1zM93.5 97.5h1v1h-1zM87.5 98.5h1v1h-1zM108.5 100.5h1v1h-1zM105.5 103.5h1v1h-1zM117.5 103.5h1v1h-1zM118.5 104.5h1v1h-1zM107.5 106.5h1v1h-1zM115.5 107.5h1v1h-1zM148.0 82.5h1v1h-1zM146.0 84.5h1v1h-1zM144.0 85.5h1v1h-1zM146.0 85.5h1v1h-1zM143.0 87.5h1v1h-1zM152.0 88.5h1v1h-1zM153.0 89.5h1v1h-1zM154.0 89.5h1v1h-1zM153.0 90.5h1v1h-1zM154.0 90.5h1v1h-1zM149.0 94.5h1v1h-1zM143.0 95.5h1v1h-1zM159.0 102.5h1v1h-1zM161.0 106.5h1v1h-1zM170.0 107.5h1v1h-1zM200.0 85.5h1v1h-1zM201.0 85.5h1v1h-1zM205.0 85.5h1v1h-1zM208.0 85.5h1v1h-1zM197.0 86.5h1v1h-1zM206.0 86.5h1v1h-1zM205.0 91.5h1v1h-1zM194.0 94.5h1v1h-1zM201.0 95.5h1v1h-1zM194.0 96.5h1v1h-1zM200.0 96.5h1v1h-1zM220.0 98.5h1v1h-1zM220.0 99.5h1v1h-1zM224.0 100.5h1v1h-1zM224.0 102.5h1v1h-1zM224.0 103.5h1v1h-1zM211.0 106.5h1v1h-1zM226.0 107.5h1v1h-1zM215.0 108.5h1v1h-1zM251.0 83.5h1v1h-1zM259.0 83.5h1v1h-1zM259.0 86.5h1v1h-1zM247.0 91.5h1v1h-1zM259.0 91.5h1v1h-1zM257.0 93.5h1v1h-1zM254.0 95.5h1v1h-1zM250.0 97.5h1v1h-1zM271.0 98.5h1v1h-1zM277.0 99.5h1v1h-1zM278.0 99.5h1v1h-1zM271.0 101.5h1v1h-1zM281.0 103.5h1v1h-1zM279.0 104.5h1v1h-1z" fill="rgb(102,102,102)"/><path d="M39.0 28.5h1v1h-1zM37.0 29.5h1v1h-1zM36.0 30.5h1v1h-1zM33.0 34.5h1v1h-1zM41.0 34.5h1v1h-1zM38.0 40.5h1v1h-1zM33.0 41.5h1v1h-1zM36.0 42.5h1v1h-1zM32.0 43.5h1v1h-1zM55.0 46.5h1v1h-1zM64.0 47.5h1v1h-1zM64.0 49.5h1v1h-1zM64.0 50.5h1v1h-1zM59.0 53.5h1v1h-1zM64.0 53.5h1v1h-1zM89.5 31.5h1v1h-1zM112.5 31.5h1v1h-1zM115.5 31.5h1v1h-1zM88.5 33.5h1v1h-1zM98.5 33.5h1v1h-1zM109.5 33.5h1v1h-1zM107.5 34.5h1v1h-1zM118.5 35.5h1v1h-1zM118.5 36.5h1v1h-1zM86.5 37.5h1v1h-1zM118.5 37.5h1v1h-1zM111.5 38.5h1v1h-1zM85.5 39.5h1v1h-1zM112.5 40.5h1v1h-1zM113.5 40.5h1v1h-1zM111.5 41.5h1v1h-1zM112.5 41.5h1v1h-1zM87.5 42.5h1v1h-1zM90.5 42.5h1v1h-1zM109.5 44.5h1v1h-1zM114.5 45.5h1v1h-1zM115.5 46.5h1v1h-1zM116.5 46.5h1v1h-1zM116.5 47.5h1v1h-1zM117.5 51.5h1v1h-1zM107.5 52.5h1v1h-1zM108.5 52.5h1v1h-1zM115.5 53.5h1v1h-1zM151.0 29.5h1v1h-1zM150.0 31.5h1v1h-1zM151.0 31.5h1v1h-1zM152.0 31.5h1v1h-1zM167.0 31.5h1v1h-1zM142.0 33.5h1v1h-1zM161.0 33.5h1v1h-1zM172.0 34.5h1v1h-1zM152.0 35.5h1v1h-1zM139.0 36.5h1v1h-1zM138.0 37.5h1v1h-1zM167.0 37.5h1v1h-1zM171.0 38.5h1v1h-1zM170.0 39.5h1v1h-1zM142.0 41.5h1v1h-1zM146.0 41.5h1v1h-1zM161.0 45.5h1v1h-1zM162.0 45.5h1v1h-1zM162.0 48.5h1v1h-1zM171.0 50.5h1v1h-1zM163.0 52.5h1v1h-1zM163.0 53.5h1v1h-1zM199.0 30.5h1v1h-1zM205.0 31.5h1v1h-1zM223.0 31.5h1v1h-1zM205.0 35.5h1v1h-1zM218.0 35.5h1v1h-1zM216.0 36.5h1v1h-1zM222.0 36.5h1v1h-1zM217.0 37.5h1v1h-1zM192.0 38.5h1v1h-1zM193.0 38.5h1v1h-1zM194.0 38.5h1v1h-1zM196.0 40.5h1v1h-1zM201.0 40.5h1v1h-1zM219.0 40.5h1v1h-1zM222.0 42.5h1v1h-1zM220.0 44.5h1v1h-1zM215.0 45.5h1v1h-1zM215.0 48.5h1v1h-1zM256.0 29.5h1v1h-1zM273.0 29.5h1v1h-1zM250.0 31.5h1v1h-1zM251.0 31.5h1v1h-1zM278.0 31.5h1v1h-1zM259.0 32.5h1v1h-1zM273.0 34.5h1v1h-1zM274.0 36.5h1v1h-1zM276.0 37.5h1v1h-1zM275.0 38.5h1v1h-1zM276.0 39.5h1v1h-1zM251.0 40.5h1v1h-1zM255.0 41.5h1v1h-1zM275.0 45.5h1v1h-1zM278.0 47.5h1v1h-1zM279.0 47.5h1v1h-1zM269.0 51.5h1v1h-1zM275.0 52.5h1v1h-1zM280.0 52.5h1v1h-1zM40.0 85.5h1v1h-1zM44.0 85.5h1v1h-1zM44.0 91.5h1v1h-1zM34.0 92.5h1v1h-1zM42.0 94.5h1v1h-1zM33.0 96.5h1v1h-1zM34.0 96.5h1v1h-1zM39.0 96.5h1v1h-1zM40.0 96.5h1v1h-1zM33.0 97.5h1v1h-1zM35.0 97.5h1v1h-1zM36.0 97.5h1v1h-1zM64.0 99.5h1v1h-1zM58.0 100.5h1v1h-1zM56.0 101.5h1v1h-1zM57.0 102.5h1v1h-1zM66.0 105.5h1v1h-1zM65.0 106.5h1v1h-1zM92.5 87.5h1v1h-1zM98.5 88.5h1v1h-1zM99.5 88.5h1v1h-1zM86.5 94.5h1v1h-1zM86.5 95.5h1v1h-1zM89.5 96.5h1v1h-1zM91.5 97.5h1v1h-1zM107.5 99.5h1v1h-1zM108.5 99.5h1v1h-1zM107.5 101.5h1v1h-1zM116.5 101.5h1v1h-1zM106.5 103.5h1v1h-1zM148.0 83.5h1v1h-1zM149.0 84.5h1v1h-1zM150.0 85.5h1v1h-1zM143.0 86.5h1v1h-1zM141.0 88.5h1v1h-1zM139.0 90.5h1v1h-1zM140.0 90.5h1v1h-1zM141.0 90.5h1v1h-1zM139.0 91.5h1v1h-1zM145.0 95.5h1v1h-1zM143.0 96.5h1v1h-1zM168.0 98.5h1v1h-1zM166.0 99.5h1v1h-1zM164.0 100.5h1v1h-1zM160.0 101.5h1v1h-1zM161.0 103.5h1v1h-1zM172.0 104.5h1v1h-1zM171.0 105.5h1v1h-1zM167.0 108.5h1v1h-1zM199.0 85.5h1v1h-1zM200.0 86.5h1v1h-1zM196.0 87.5h1v1h-1zM204.0 87.5h1v1h-1zM195.0 89.5h1v1h-1zM205.0 90.5h1v1h-1zM207.0 92.5h1v1h-1zM204.0 94.5h1v1h-1zM195.0 96.5h1v1h-1zM198.0 96.5h1v1h-1zM223.0 100.5h1v1h-1zM256.0 84.5h1v1h-1zM258.0 84.5h1v1h-1zM260.0 86.5h1v1h-1zM258.0 92.5h1v1h-1zM256.0 93.5h1v1h-1zM247.0 94.5h1v1h-1zM248.0 94.5h1v1h-1zM256.0 94.5h1v1h-1zM250.0 96.5h1v1h-1zM275.0 100.5h1v1h-1zM269.0 105.5h1v1h-1zM279.0 107.5h1v1h-1zM270.0 108.5h1v1h-1zM271.0 108.5h1v1h-1z" fill="rgb(85,85,85)"/><path d="M38.0 29.5h1v1h-1zM42.0 31.5h1v1h-1zM41.0 33.5h1v1h-1zM33.0 35.5h1v1h-1zM32.0 40.5h1v1h-1zM64.0 44.5h1v1h-1zM60.0 45.5h1v1h-1zM56.0 47.5h1v1h-1zM56.0 53.5h1v1h-1zM57.0 53.5h1v1h-1zM90.5 30.5h1v1h-1zM95.5 31.5h1v1h-1zM99.5 32.5h1v1h-1zM111.5 32.5h1v1h-1zM110.5 33.5h1v1h-1zM108.5 34.5h1v1h-1zM108.5 35.5h1v1h-1zM95.5 38.5h1v1h-1zM114.5 38.5h1v1h-1zM87.5 39.5h1v1h-1zM111.5 40.5h1v1h-1zM88.5 41.5h1v1h-1zM89.5 42.5h1v1h-1zM113.5 43.5h1v1h-1zM112.5 44.5h1v1h-1zM117.5 46.5h1v1h-1zM108.5 49.5h1v1h-1zM117.5 49.5h1v1h-1zM107.5 50.5h1v1h-1zM116.5 51.5h1v1h-1zM116.5 52.5h1v1h-1zM149.0 29.5h1v1h-1zM145.0 30.5h1v1h-1zM147.0 30.5h1v1h-1zM148.0 30.5h1v1h-1zM168.0 31.5h1v1h-1zM167.0 33.5h1v1h-1zM150.0 36.5h1v1h-1zM166.0 38.5h1v1h-1zM167.0 38.5h1v1h-1zM170.0 38.5h1v1h-1zM169.0 44.5h1v1h-1zM164.0 45.5h1v1h-1zM168.0 45.5h1v1h-1zM163.0 46.5h1v1h-1zM168.0 46.5h1v1h-1zM171.0 52.5h1v1h-1zM168.0 53.5h1v1h-1zM206.0 28.5h1v1h-1zM198.0 30.5h1v1h-1zM197.0 31.5h1v1h-1zM206.0 31.5h1v1h-1zM225.0 31.5h1v1h-1zM206.0 32.5h1v1h-1zM220.0 32.5h1v1h-1zM223.0 32.5h1v1h-1zM195.0 33.5h1v1h-1zM225.0 34.5h1v1h-1zM216.0 35.5h1v1h-1zM222.0 35.5h1v1h-1zM193.0 36.5h1v1h-1zM216.0 37.5h1v1h-1zM220.0 39.5h1v1h-1zM197.0 42.5h1v1h-1zM224.0 45.5h1v1h-1zM217.0 46.5h1v1h-1zM222.0 46.5h1v1h-1zM225.0 46.5h1v1h-1zM215.0 47.5h1v1h-1zM215.0 49.5h1v1h-1zM226.0 51.5h1v1h-1zM225.0 52.5h1v1h-1zM255.0 29.5h1v1h-1zM258.0 30.5h1v1h-1zM253.0 31.5h1v1h-1zM259.0 31.5h1v1h-1zM250.0 32.5h1v1h-1zM277.0 32.5h1v1h-1zM259.0 33.5h1v1h-1zM275.0 33.5h1v1h-1zM277.0 33.5h1v1h-1zM278.0 34.5h1v1h-1zM283.0 34.5h1v1h-1zM248.0 35.5h1v1h-1zM277.0 35.5h1v1h-1zM273.0 36.5h1v1h-1zM250.0 39.5h1v1h-1zM253.0 40.5h1v1h-1zM276.0 40.5h1v1h-1zM274.0 45.5h1v1h-1zM271.0 47.5h1v1h-1zM269.0 49.5h1v1h-1zM269.0 52.5h1v1h-1zM276.0 52.5h1v1h-1zM277.0 53.5h1v1h-1zM278.0 53.5h1v1h-1zM41.0 84.5h1v1h-1zM42.0 84.5h1v1h-1zM42.0 85.5h1v1h-1zM47.0 85.5h1v1h-1zM37.0 86.5h1v1h-1zM36.0 87.5h1v1h-1zM47.0 87.5h1v1h-1zM46.0 88.5h1v1h-1zM35.0 89.5h1v1h-1zM36.0 95.5h1v1h-1zM37.0 95.5h1v1h-1zM61.0 99.5h1v1h-1zM64.0 101.5h1v1h-1zM56.0 102.5h1v1h-1zM64.0 102.5h1v1h-1zM67.0 102.5h1v1h-1zM55.0 103.5h1v1h-1zM65.0 105.5h1v1h-1zM67.0 107.5h1v1h-1zM91.5 86.5h1v1h-1zM87.5 88.5h1v1h-1zM97.5 89.5h1v1h-1zM96.5 94.5h1v1h-1zM87.5 95.5h1v1h-1zM89.5 95.5h1v1h-1zM93.5 95.5h1v1h-1zM108.5 101.5h1v1h-1zM116.5 104.5h1v1h-1zM117.5 104.5h1v1h-1zM106.5 105.5h1v1h-1zM116.5 105.5h1v1h-1zM116.5 106.5h1v1h-1zM151.0 85.5h1v1h-1zM152.0 86.5h1v1h-1zM149.0 93.5h1v1h-1zM167.0 99.5h1v1h-1zM168.0 99.5h1v1h-1zM169.0 100.5h1v1h-1zM161.0 101.5h1v1h-1zM161.0 108.5h1v1h-1zM169.0 108.5h1v1h-1zM199.0 84.5h1v1h-1zM201.0 84.5h1v1h-1zM202.0 84.5h1v1h-1zM207.0 85.5h1v1h-1zM196.0 86.5h1v1h-1zM196.0 88.5h1v1h-1zM204.0 88.5h1v1h-1zM205.0 88.5h1v1h-1zM193.0 90.5h1v1h-1zM194.0 90.5h1v1h-1zM194.0 93.5h1v1h-1zM203.0 93.5h1v1h-1zM204.0 93.5h1v1h-1zM195.0 95.5h1v1h-1zM197.0 95.5h1v1h-1zM199.0 96.5h1v1h-1zM218.0 99.5h1v1h-1zM215.0 102.5h1v1h-1zM226.0 106.5h1v1h-1zM222.0 108.5h1v1h-1zM254.0 84.5h1v1h-1zM257.0 84.5h1v1h-1zM261.0 87.5h1v1h-1zM248.0 89.5h1v1h-1zM261.0 90.5h1v1h-1zM259.0 92.5h1v1h-1zM246.0 93.5h1v1h-1zM275.0 99.5h1v1h-1zM273.0 100.5h1v1h-1zM270.0 101.5h1v1h-1zM269.0 104.5h1v1h-1zM277.0 107.5h1v1h-1z" fill="rgb(68,68,68)"/><path d="M37.0 28.5h1v1h-1zM38.0 28.5h1v1h-1zM39.0 29.5h1v1h-1zM42.0 30.5h1v1h-1zM41.0 35.5h1v1h-1zM40.0 38.5h1v1h-1zM38.0 39.5h1v1h-1zM33.0 40.5h1v1h-1zM34.0 41.5h1v1h-1zM57.0 44.5h1v1h-1zM59.0 44.5h1v1h-1zM63.0 45.5h1v1h-1zM63.0 46.5h1v1h-1zM54.0 47.5h1v1h-1zM65.0 47.5h1v1h-1zM66.0 47.5h1v1h-1zM63.0 51.5h1v1h-1zM56.0 52.5h1v1h-1zM63.0 52.5h1v1h-1zM90.5 31.5h1v1h-1zM97.5 31.5h1v1h-1zM113.5 31.5h1v1h-1zM88.5 32.5h1v1h-1zM118.5 33.5h1v1h-1zM109.5 34.5h1v1h-1zM85.5 35.5h1v1h-1zM98.5 35.5h1v1h-1zM117.5 35.5h1v1h-1zM110.5 36.5h1v1h-1zM110.5 37.5h1v1h-1zM97.5 38.5h1v1h-1zM117.5 38.5h1v1h-1zM94.5 39.5h1v1h-1zM87.5 41.5h1v1h-1zM92.5 41.5h1v1h-1zM110.5 44.5h1v1h-1zM108.5 51.5h1v1h-1zM115.5 52.5h1v1h-1zM110.5 53.5h1v1h-1zM111.5 53.5h1v1h-1zM116.5 53.5h1v1h-1zM152.0 30.5h1v1h-1zM169.0 31.5h1v1h-1zM150.0 32.5h1v1h-1zM164.0 32.5h1v1h-1zM150.0 33.5h1v1h-1zM163.0 33.5h1v1h-1zM162.0 34.5h1v1h-1zM141.0 35.5h1v1h-1zM151.0 35.5h1v1h-1zM149.0 38.5h1v1h-1zM162.0 38.5h1v1h-1zM169.0 38.5h1v1h-1zM141.0 39.5h1v1h-1zM169.0 39.5h1v1h-1zM141.0 40.5h1v1h-1zM148.0 40.5h1v1h-1zM166.0 45.5h1v1h-1zM162.0 46.5h1v1h-1zM170.0 46.5h1v1h-1zM162.0 47.5h1v1h-1zM170.0 47.5h1v1h-1zM162.0 49.5h1v1h-1zM161.0 50.5h1v1h-1zM161.0 51.5h1v1h-1zM169.0 53.5h1v1h-1zM201.0 29.5h1v1h-1zM203.0 29.5h1v1h-1zM202.0 30.5h1v1h-1zM203.0 30.5h1v1h-1zM204.0 31.5h1v1h-1zM196.0 32.5h1v1h-1zM197.0 32.5h1v1h-1zM218.0 32.5h1v1h-1zM221.0 32.5h1v1h-1zM218.0 33.5h1v1h-1zM219.0 35.5h1v1h-1zM221.0 36.5h1v1h-1zM219.0 37.5h1v1h-1zM221.0 37.5h1v1h-1zM203.0 38.5h1v1h-1zM221.0 38.5h1v1h-1zM222.0 38.5h1v1h-1zM195.0 39.5h1v1h-1zM200.0 39.5h1v1h-1zM202.0 39.5h1v1h-1zM197.0 40.5h1v1h-1zM219.0 45.5h1v1h-1zM223.0 45.5h1v1h-1zM216.0 47.5h1v1h-1zM224.0 48.5h1v1h-1zM216.0 49.5h1v1h-1zM225.0 49.5h1v1h-1zM216.0 51.5h1v1h-1zM254.0 30.5h1v1h-1zM257.0 30.5h1v1h-1zM249.0 33.5h1v1h-1zM274.0 33.5h1v1h-1zM276.0 33.5h1v1h-1zM249.0 34.5h1v1h-1zM259.0 34.5h1v1h-1zM272.0 35.5h1v1h-1zM275.0 35.5h1v1h-1zM276.0 35.5h1v1h-1zM281.0 35.5h1v1h-1zM258.0 36.5h1v1h-1zM281.0 36.5h1v1h-1zM272.0 37.5h1v1h-1zM277.0 37.5h1v1h-1zM257.0 38.5h1v1h-1zM279.0 38.5h1v1h-1zM256.0 39.5h1v1h-1zM279.0 39.5h1v1h-1zM250.0 40.5h1v1h-1zM272.0 46.5h1v1h-1zM270.0 47.5h1v1h-1zM270.0 48.5h1v1h-1zM279.0 48.5h1v1h-1zM270.0 49.5h1v1h-1zM277.0 52.5h1v1h-1zM279.0 52.5h1v1h-1zM271.0 53.5h1v1h-1zM274.0 53.5h1v1h-1zM45.0 85.5h1v1h-1zM46.0 85.5h1v1h-1zM41.0 86.5h1v1h-1zM46.0 87.5h1v1h-1zM34.0 91.5h1v1h-1zM42.0 93.5h1v1h-1zM35.0 94.5h1v1h-1zM39.0 95.5h1v1h-1zM34.0 97.5h1v1h-1zM63.0 100.5h1v1h-1zM57.0 101.5h1v1h-1zM58.0 101.5h1v1h-1zM63.0 101.5h1v1h-1zM56.0 103.5h1v1h-1zM64.0 107.5h1v1h-1zM63.0 108.5h1v1h-1zM93.5 84.5h1v1h-1zM92.5 85.5h1v1h-1zM96.5 85.5h1v1h-1zM90.5 87.5h1v1h-1zM91.5 87.5h1v1h-1zM87.5 89.5h1v1h-1zM85.5 90.5h1v1h-1zM85.5 91.5h1v1h-1zM87.5 91.5h1v1h-1zM85.5 92.5h1v1h-1zM88.5 95.5h1v1h-1zM91.5 96.5h1v1h-1zM92.5 96.5h1v1h-1zM88.5 97.5h1v1h-1zM109.5 99.5h1v1h-1zM110.5 99.5h1v1h-1zM112.5 99.5h1v1h-1zM107.5 103.5h1v1h-1zM106.5 104.5h1v1h-1zM107.5 105.5h1v1h-1zM108.5 107.5h1v1h-1zM111.5 108.5h1v1h-1zM150.0 84.5h1v1h-1zM145.0 85.5h1v1h-1zM140.0 88.5h1v1h-1zM151.0 88.5h1v1h-1zM152.0 90.5h1v1h-1zM141.0 91.5h1v1h-1zM139.0 93.5h1v1h-1zM140.0 93.5h1v1h-1zM142.0 94.5h1v1h-1zM148.0 95.5h1v1h-1zM142.0 96.5h1v1h-1zM144.0 96.5h1v1h-1zM170.0 101.5h1v1h-1zM170.0 103.5h1v1h-1zM171.0 103.5h1v1h-1zM171.0 104.5h1v1h-1zM161.0 105.5h1v1h-1zM162.0 106.5h1v1h-1zM161.0 107.5h1v1h-1zM169.0 107.5h1v1h-1zM166.0 108.5h1v1h-1zM204.0 86.5h1v1h-1zM207.0 86.5h1v1h-1zM205.0 87.5h1v1h-1zM206.0 87.5h1v1h-1zM195.0 88.5h1v1h-1zM204.0 90.5h1v1h-1zM204.0 91.5h1v1h-1zM204.0 92.5h1v1h-1zM196.0 93.5h1v1h-1zM197.0 94.5h1v1h-1zM201.0 94.5h1v1h-1zM199.0 95.5h1v1h-1zM200.0 95.5h1v1h-1zM218.0 100.5h1v1h-1zM220.0 100.5h1v1h-1zM223.0 101.5h1v1h-1zM215.0 103.5h1v1h-1zM215.0 106.5h1v1h-1zM215.0 107.5h1v1h-1zM216.0 107.5h1v1h-1zM220.0 108.5h1v1h-1zM221.0 108.5h1v1h-1zM253.0 84.5h1v1h-1zM260.0 84.5h1v1h-1zM255.0 85.5h1v1h-1zM260.0 87.5h1v1h-1zM250.0 88.5h1v1h-1zM259.0 90.5h1v1h-1zM260.0 90.5h1v1h-1zM257.0 91.5h1v1h-1zM258.0 91.5h1v1h-1zM258.0 93.5h1v1h-1zM255.0 94.5h1v1h-1zM249.0 95.5h1v1h-1zM250.0 95.5h1v1h-1zM273.0 99.5h1v1h-1zM274.0 100.5h1v1h-1zM276.0 100.5h1v1h-1zM277.0 100.5h1v1h-1zM272.0 101.5h1v1h-1zM278.0 101.5h1v1h-1zM270.0 102.5h1v1h-1zM271.0 102.5h1v1h-1zM279.0 102.5h1v1h-1zM279.0 105.5h1v1h-1zM269.0 106.5h1v1h-1zM278.0 106.5h1v1h-1zM279.0 106.5h1v1h-1zM277.0 108.5h1v1h-1z" fill="rgb(51,51,51)"/><path d="M34.0 34.5h1v1h-1zM33.0 37.5h1v1h-1zM40.0 37.5h1v1h-1zM33.0 38.5h1v1h-1zM39.0 38.5h1v1h-1zM33.0 39.5h1v1h-1zM39.0 39.5h1v1h-1zM37.0 40.5h1v1h-1zM63.0 44.5h1v1h-1zM57.0 46.5h1v1h-1zM63.0 47.5h1v1h-1zM55.0 49.5h1v1h-1zM56.0 50.5h1v1h-1zM58.0 52.5h1v1h-1zM61.0 53.5h1v1h-1zM94.5 30.5h1v1h-1zM91.5 31.5h1v1h-1zM92.5 31.5h1v1h-1zM96.5 31.5h1v1h-1zM90.5 32.5h1v1h-1zM96.5 32.5h1v1h-1zM111.5 33.5h1v1h-1zM117.5 33.5h1v1h-1zM88.5 34.5h1v1h-1zM117.5 34.5h1v1h-1zM118.5 34.5h1v1h-1zM87.5 36.5h1v1h-1zM96.5 36.5h1v1h-1zM97.5 36.5h1v1h-1zM111.5 36.5h1v1h-1zM112.5 36.5h1v1h-1zM111.5 37.5h1v1h-1zM117.5 37.5h1v1h-1zM86.5 38.5h1v1h-1zM115.5 38.5h1v1h-1zM116.5 38.5h1v1h-1zM84.5 39.5h1v1h-1zM95.5 39.5h1v1h-1zM112.5 39.5h1v1h-1zM89.5 41.5h1v1h-1zM91.5 41.5h1v1h-1zM111.5 44.5h1v1h-1zM109.5 45.5h1v1h-1zM113.5 45.5h1v1h-1zM110.5 46.5h1v1h-1zM108.5 48.5h1v1h-1zM117.5 48.5h1v1h-1zM109.5 50.5h1v1h-1zM116.5 50.5h1v1h-1zM117.5 50.5h1v1h-1zM109.5 51.5h1v1h-1zM109.5 52.5h1v1h-1zM111.5 52.5h1v1h-1zM151.0 32.5h1v1h-1zM143.0 33.5h1v1h-1zM164.0 33.5h1v1h-1zM165.0 33.5h1v1h-1zM150.0 34.5h1v1h-1zM152.0 34.5h1v1h-1zM167.0 34.5h1v1h-1zM171.0 34.5h1v1h-1zM163.0 35.5h1v1h-1zM140.0 36.5h1v1h-1zM141.0 36.5h1v1h-1zM170.0 36.5h1v1h-1zM141.0 37.5h1v1h-1zM162.0 37.5h1v1h-1zM166.0 37.5h1v1h-1zM170.0 37.5h1v1h-1zM148.0 38.5h1v1h-1zM163.0 38.5h1v1h-1zM145.0 40.5h1v1h-1zM146.0 40.5h1v1h-1zM166.0 40.5h1v1h-1zM143.0 41.5h1v1h-1zM145.0 42.5h1v1h-1zM165.0 45.5h1v1h-1zM167.0 45.5h1v1h-1zM169.0 45.5h1v1h-1zM164.0 46.5h1v1h-1zM167.0 46.5h1v1h-1zM170.0 48.5h1v1h-1zM170.0 50.5h1v1h-1zM162.0 51.5h1v1h-1zM163.0 51.5h1v1h-1zM169.0 51.5h1v1h-1zM171.0 51.5h1v1h-1zM169.0 52.5h1v1h-1zM164.0 53.5h1v1h-1zM165.0 53.5h1v1h-1zM200.0 31.5h1v1h-1zM201.0 31.5h1v1h-1zM203.0 31.5h1v1h-1zM220.0 31.5h1v1h-1zM221.0 31.5h1v1h-1zM197.0 33.5h1v1h-1zM204.0 33.5h1v1h-1zM219.0 33.5h1v1h-1zM220.0 33.5h1v1h-1zM223.0 33.5h1v1h-1zM220.0 34.5h1v1h-1zM221.0 34.5h1v1h-1zM222.0 34.5h1v1h-1zM194.0 35.5h1v1h-1zM194.0 36.5h1v1h-1zM218.0 36.5h1v1h-1zM220.0 36.5h1v1h-1zM194.0 37.5h1v1h-1zM203.0 37.5h1v1h-1zM218.0 37.5h1v1h-1zM222.0 37.5h1v1h-1zM223.0 37.5h1v1h-1zM223.0 38.5h1v1h-1zM201.0 39.5h1v1h-1zM198.0 40.5h1v1h-1zM199.0 40.5h1v1h-1zM221.0 45.5h1v1h-1zM218.0 46.5h1v1h-1zM218.0 47.5h1v1h-1zM224.0 47.5h1v1h-1zM215.0 50.5h1v1h-1zM217.0 51.5h1v1h-1zM216.0 52.5h1v1h-1zM217.0 52.5h1v1h-1zM221.0 53.5h1v1h-1zM222.0 53.5h1v1h-1zM252.0 31.5h1v1h-1zM254.0 31.5h1v1h-1zM251.0 32.5h1v1h-1zM278.0 33.5h1v1h-1zM275.0 34.5h1v1h-1zM277.0 34.5h1v1h-1zM273.0 35.5h1v1h-1zM272.0 36.5h1v1h-1zM248.0 37.5h1v1h-1zM249.0 38.5h1v1h-1zM249.0 39.5h1v1h-1zM278.0 39.5h1v1h-1zM252.0 40.5h1v1h-1zM277.0 49.5h1v1h-1zM269.0 50.5h1v1h-1zM278.0 51.5h1v1h-1zM270.0 52.5h1v1h-1zM270.0 53.5h1v1h-1zM272.0 53.5h1v1h-1zM273.0 53.5h1v1h-1zM41.0 85.5h1v1h-1zM38.0 86.5h1v1h-1zM44.0 86.5h1v1h-1zM37.0 87.5h1v1h-1zM44.0 87.5h1v1h-1zM44.0 88.5h1v1h-1zM36.0 89.5h1v1h-1zM34.0 90.5h1v1h-1zM43.0 92.5h1v1h-1zM34.0 94.5h1v1h-1zM39.0 94.5h1v1h-1zM40.0 94.5h1v1h-1zM41.0 94.5h1v1h-1zM38.0 95.5h1v1h-1zM35.0 96.5h1v1h-1zM61.0 100.5h1v1h-1zM62.0 101.5h1v1h-1zM58.0 108.5h1v1h-1zM62.0 108.5h1v1h-1zM96.5 84.5h1v1h-1zM93.5 85.5h1v1h-1zM96.5 86.5h1v1h-1zM88.5 87.5h1v1h-1zM89.5 87.5h1v1h-1zM97.5 87.5h1v1h-1zM98.5 87.5h1v1h-1zM87.5 90.5h1v1h-1zM86.5 91.5h1v1h-1zM87.5 93.5h1v1h-1zM87.5 94.5h1v1h-1zM95.5 94.5h1v1h-1zM91.5 95.5h1v1h-1zM90.5 96.5h1v1h-1zM93.5 96.5h1v1h-1zM113.5 100.5h1v1h-1zM113.5 101.5h1v1h-1zM116.5 102.5h1v1h-1zM108.5 108.5h1v1h-1zM109.5 108.5h1v1h-1zM110.5 108.5h1v1h-1zM151.0 86.5h1v1h-1zM151.0 87.5h1v1h-1zM142.0 88.5h1v1h-1zM142.0 89.5h1v1h-1zM151.0 89.5h1v1h-1zM152.0 89.5h1v1h-1zM142.0 90.5h1v1h-1zM151.0 90.5h1v1h-1zM140.0 91.5h1v1h-1zM151.0 91.5h1v1h-1zM140.0 92.5h1v1h-1zM141.0 92.5h1v1h-1zM147.0 93.5h1v1h-1zM139.0 94.5h1v1h-1zM150.0 94.5h1v1h-1zM140.0 95.5h1v1h-1zM146.0 95.5h1v1h-1zM147.0 95.5h1v1h-1zM163.0 100.5h1v1h-1zM165.0 100.5h1v1h-1zM168.0 100.5h1v1h-1zM169.0 101.5h1v1h-1zM170.0 102.5h1v1h-1zM170.0 104.5h1v1h-1zM169.0 106.5h1v1h-1zM170.0 106.5h1v1h-1zM163.0 108.5h1v1h-1zM164.0 108.5h1v1h-1zM203.0 84.5h1v1h-1zM203.0 87.5h1v1h-1zM205.0 89.5h1v1h-1zM195.0 90.5h1v1h-1zM203.0 90.5h1v1h-1zM195.0 93.5h1v1h-1zM198.0 95.5h1v1h-1zM197.0 96.5h1v1h-1zM219.0 99.5h1v1h-1zM219.0 100.5h1v1h-1zM222.0 100.5h1v1h-1zM216.0 101.5h1v1h-1zM223.0 103.5h1v1h-1zM215.0 104.5h1v1h-1zM216.0 104.5h1v1h-1zM224.0 104.5h1v1h-1zM215.0 105.5h1v1h-1zM224.0 105.5h1v1h-1zM216.0 108.5h1v1h-1zM218.0 108.5h1v1h-1zM253.0 85.5h1v1h-1zM254.0 85.5h1v1h-1zM258.0 85.5h1v1h-1zM252.0 86.5h1v1h-1zM248.0 88.5h1v1h-1zM249.0 88.5h1v1h-1zM247.0 92.5h1v1h-1zM247.0 93.5h1v1h-1zM255.0 93.5h1v1h-1zM249.0 94.5h1v1h-1zM253.0 95.5h1v1h-1zM276.0 101.5h1v1h-1zM270.0 103.5h1v1h-1zM270.0 107.5h1v1h-1zM274.0 108.5h1v1h-1z" fill="rgb(34,34,34)"/><path d="M40.0 29.5h1v1h-1zM37.0 30.5h1v1h-1zM41.0 30.5h1v1h-1zM36.0 31.5h1v1h-1zM36.0 32.5h1v1h-1zM41.0 32.5h1v1h-1zM34.0 33.5h1v1h-1zM34.0 36.5h1v1h-1zM40.0 36.5h1v1h-1zM39.0 37.5h1v1h-1zM38.0 38.5h1v1h-1zM34.0 40.5h1v1h-1zM35.0 40.5h1v1h-1zM36.0 40.5h1v1h-1zM57.0 45.5h1v1h-1zM58.0 45.5h1v1h-1zM59.0 45.5h1v1h-1zM58.0 46.5h1v1h-1zM62.0 46.5h1v1h-1zM55.0 48.5h1v1h-1zM56.0 48.5h1v1h-1zM56.0 49.5h1v1h-1zM63.0 49.5h1v1h-1zM57.0 50.5h1v1h-1zM57.0 51.5h1v1h-1zM62.0 51.5h1v1h-1zM57.0 52.5h1v1h-1zM61.0 52.5h1v1h-1zM62.0 52.5h1v1h-1zM60.0 53.5h1v1h-1zM93.5 30.5h1v1h-1zM89.5 32.5h1v1h-1zM95.5 32.5h1v1h-1zM112.5 32.5h1v1h-1zM113.5 32.5h1v1h-1zM114.5 32.5h1v1h-1zM90.5 33.5h1v1h-1zM96.5 33.5h1v1h-1zM113.5 33.5h1v1h-1zM116.5 33.5h1v1h-1zM110.5 34.5h1v1h-1zM88.5 35.5h1v1h-1zM97.5 35.5h1v1h-1zM110.5 35.5h1v1h-1zM112.5 35.5h1v1h-1zM116.5 35.5h1v1h-1zM117.5 36.5h1v1h-1zM87.5 37.5h1v1h-1zM95.5 37.5h1v1h-1zM96.5 37.5h1v1h-1zM112.5 37.5h1v1h-1zM116.5 37.5h1v1h-1zM87.5 38.5h1v1h-1zM96.5 38.5h1v1h-1zM112.5 38.5h1v1h-1zM113.5 38.5h1v1h-1zM93.5 39.5h1v1h-1zM87.5 40.5h1v1h-1zM90.5 40.5h1v1h-1zM92.5 40.5h1v1h-1zM90.5 41.5h1v1h-1zM112.5 45.5h1v1h-1zM108.5 46.5h1v1h-1zM109.5 46.5h1v1h-1zM109.5 47.5h1v1h-1zM115.5 47.5h1v1h-1zM109.5 48.5h1v1h-1zM109.5 49.5h1v1h-1zM108.5 50.5h1v1h-1zM110.5 50.5h1v1h-1zM110.5 52.5h1v1h-1zM112.5 52.5h1v1h-1zM113.5 52.5h1v1h-1zM114.5 52.5h1v1h-1zM149.0 30.5h1v1h-1zM143.0 31.5h1v1h-1zM145.0 31.5h1v1h-1zM146.0 31.5h1v1h-1zM149.0 31.5h1v1h-1zM149.0 32.5h1v1h-1zM165.0 32.5h1v1h-1zM166.0 32.5h1v1h-1zM169.0 32.5h1v1h-1zM142.0 34.5h1v1h-1zM151.0 34.5h1v1h-1zM168.0 34.5h1v1h-1zM170.0 34.5h1v1h-1zM150.0 35.5h1v1h-1zM165.0 35.5h1v1h-1zM170.0 35.5h1v1h-1zM164.0 36.5h1v1h-1zM142.0 37.5h1v1h-1zM149.0 37.5h1v1h-1zM168.0 37.5h1v1h-1zM169.0 37.5h1v1h-1zM147.0 38.5h1v1h-1zM142.0 39.5h1v1h-1zM148.0 39.5h1v1h-1zM166.0 39.5h1v1h-1zM167.0 39.5h1v1h-1zM142.0 40.5h1v1h-1zM143.0 40.5h1v1h-1zM144.0 40.5h1v1h-1zM169.0 46.5h1v1h-1zM163.0 47.5h1v1h-1zM164.0 47.5h1v1h-1zM165.0 48.5h1v1h-1zM170.0 49.5h1v1h-1zM170.0 52.5h1v1h-1zM198.0 31.5h1v1h-1zM199.0 31.5h1v1h-1zM202.0 31.5h1v1h-1zM222.0 31.5h1v1h-1zM198.0 32.5h1v1h-1zM203.0 32.5h1v1h-1zM205.0 32.5h1v1h-1zM219.0 32.5h1v1h-1zM222.0 32.5h1v1h-1zM221.0 33.5h1v1h-1zM222.0 33.5h1v1h-1zM195.0 34.5h1v1h-1zM204.0 34.5h1v1h-1zM224.0 34.5h1v1h-1zM195.0 35.5h1v1h-1zM223.0 35.5h1v1h-1zM224.0 35.5h1v1h-1zM196.0 36.5h1v1h-1zM204.0 36.5h1v1h-1zM219.0 36.5h1v1h-1zM220.0 37.5h1v1h-1zM219.0 38.5h1v1h-1zM220.0 38.5h1v1h-1zM219.0 39.5h1v1h-1zM197.0 41.5h1v1h-1zM198.0 41.5h1v1h-1zM220.0 45.5h1v1h-1zM217.0 47.5h1v1h-1zM223.0 47.5h1v1h-1zM216.0 48.5h1v1h-1zM223.0 48.5h1v1h-1zM217.0 49.5h1v1h-1zM224.0 49.5h1v1h-1zM216.0 50.5h1v1h-1zM217.0 50.5h1v1h-1zM218.0 51.5h1v1h-1zM225.0 51.5h1v1h-1zM219.0 52.5h1v1h-1zM222.0 52.5h1v1h-1zM219.0 53.5h1v1h-1zM220.0 53.5h1v1h-1zM223.0 53.5h1v1h-1zM255.0 30.5h1v1h-1zM256.0 30.5h1v1h-1zM258.0 32.5h1v1h-1zM249.0 35.5h1v1h-1zM258.0 35.5h1v1h-1zM274.0 35.5h1v1h-1zM249.0 36.5h1v1h-1zM257.0 36.5h1v1h-1zM256.0 37.5h1v1h-1zM278.0 37.5h1v1h-1zM256.0 38.5h1v1h-1zM277.0 38.5h1v1h-1zM255.0 39.5h1v1h-1zM254.0 40.5h1v1h-1zM273.0 46.5h1v1h-1zM274.0 46.5h1v1h-1zM276.0 46.5h1v1h-1zM272.0 47.5h1v1h-1zM277.0 47.5h1v1h-1zM271.0 48.5h1v1h-1zM278.0 48.5h1v1h-1zM278.0 49.5h1v1h-1zM270.0 50.5h1v1h-1zM271.0 50.5h1v1h-1zM278.0 50.5h1v1h-1zM270.0 51.5h1v1h-1zM274.0 52.5h1v1h-1zM278.0 52.5h1v1h-1zM276.0 53.5h1v1h-1zM43.0 85.5h1v1h-1zM39.0 86.5h1v1h-1zM40.0 86.5h1v1h-1zM42.0 86.5h1v1h-1zM45.0 86.5h1v1h-1zM46.0 86.5h1v1h-1zM38.0 87.5h1v1h-1zM45.0 87.5h1v1h-1zM36.0 88.5h1v1h-1zM35.0 90.5h1v1h-1zM36.0 90.5h1v1h-1zM43.0 90.5h1v1h-1zM35.0 91.5h1v1h-1zM43.0 91.5h1v1h-1zM35.0 92.5h1v1h-1zM34.0 93.5h1v1h-1zM41.0 93.5h1v1h-1zM40.0 95.5h1v1h-1zM36.0 96.5h1v1h-1zM59.0 100.5h1v1h-1zM60.0 100.5h1v1h-1zM59.0 101.5h1v1h-1zM61.0 101.5h1v1h-1zM58.0 102.5h1v1h-1zM59.0 102.5h1v1h-1zM63.0 102.5h1v1h-1zM57.0 103.5h1v1h-1zM64.0 103.5h1v1h-1zM55.0 104.5h1v1h-1zM56.0 104.5h1v1h-1zM55.0 105.5h1v1h-1zM64.0 105.5h1v1h-1zM56.0 106.5h1v1h-1zM64.0 106.5h1v1h-1zM57.0 107.5h1v1h-1zM63.0 107.5h1v1h-1zM57.0 108.5h1v1h-1zM59.0 108.5h1v1h-1zM60.0 108.5h1v1h-1zM95.5 86.5h1v1h-1zM96.5 87.5h1v1h-1zM88.5 88.5h1v1h-1zM89.5 88.5h1v1h-1zM97.5 88.5h1v1h-1zM86.5 90.5h1v1h-1zM97.5 90.5h1v1h-1zM97.5 91.5h1v1h-1zM87.5 92.5h1v1h-1zM97.5 92.5h1v1h-1zM96.5 93.5h1v1h-1zM92.5 94.5h1v1h-1zM93.5 94.5h1v1h-1zM94.5 94.5h1v1h-1zM90.5 95.5h1v1h-1zM111.5 99.5h1v1h-1zM112.5 100.5h1v1h-1zM114.5 100.5h1v1h-1zM115.5 100.5h1v1h-1zM111.5 101.5h1v1h-1zM112.5 101.5h1v1h-1zM115.5 101.5h1v1h-1zM108.5 102.5h1v1h-1zM113.5 102.5h1v1h-1zM108.5 103.5h1v1h-1zM116.5 103.5h1v1h-1zM107.5 104.5h1v1h-1zM115.5 104.5h1v1h-1zM114.5 106.5h1v1h-1zM115.5 106.5h1v1h-1zM113.5 107.5h1v1h-1zM112.5 108.5h1v1h-1zM113.5 108.5h1v1h-1zM148.0 85.5h1v1h-1zM149.0 85.5h1v1h-1zM144.0 86.5h1v1h-1zM145.0 86.5h1v1h-1zM146.0 86.5h1v1h-1zM150.0 86.5h1v1h-1zM144.0 87.5h1v1h-1zM141.0 89.5h1v1h-1zM149.0 91.5h1v1h-1zM150.0 91.5h1v1h-1zM149.0 92.5h1v1h-1zM148.0 93.5h1v1h-1zM141.0 94.5h1v1h-1zM143.0 94.5h1v1h-1zM147.0 94.5h1v1h-1zM148.0 94.5h1v1h-1zM141.0 95.5h1v1h-1zM142.0 95.5h1v1h-1zM144.0 95.5h1v1h-1zM166.0 100.5h1v1h-1zM167.0 100.5h1v1h-1zM163.0 101.5h1v1h-1zM166.0 101.5h1v1h-1zM167.0 101.5h1v1h-1zM168.0 101.5h1v1h-1zM160.0 102.5h1v1h-1zM161.0 102.5h1v1h-1zM162.0 102.5h1v1h-1zM162.0 104.5h1v1h-1zM170.0 105.5h1v1h-1zM163.0 106.5h1v1h-1zM162.0 107.5h1v1h-1zM165.0 108.5h1v1h-1zM202.0 85.5h1v1h-1zM204.0 85.5h1v1h-1zM198.0 86.5h1v1h-1zM199.0 86.5h1v1h-1zM201.0 86.5h1v1h-1zM203.0 86.5h1v1h-1zM197.0 87.5h1v1h-1zM196.0 89.5h1v1h-1zM204.0 89.5h1v1h-1zM194.0 91.5h1v1h-1zM195.0 91.5h1v1h-1zM194.0 92.5h1v1h-1zM195.0 92.5h1v1h-1zM196.0 92.5h1v1h-1zM203.0 92.5h1v1h-1zM202.0 93.5h1v1h-1zM196.0 94.5h1v1h-1zM200.0 94.5h1v1h-1zM202.0 94.5h1v1h-1zM196.0 95.5h1v1h-1zM217.0 101.5h1v1h-1zM218.0 101.5h1v1h-1zM221.0 101.5h1v1h-1zM216.0 102.5h1v1h-1zM217.0 102.5h1v1h-1zM223.0 102.5h1v1h-1zM216.0 103.5h1v1h-1zM223.0 104.5h1v1h-1zM223.0 105.5h1v1h-1zM223.0 106.5h1v1h-1zM224.0 106.5h1v1h-1zM217.0 107.5h1v1h-1zM257.0 85.5h1v1h-1zM251.0 86.5h1v1h-1zM253.0 86.5h1v1h-1zM256.0 86.5h1v1h-1zM257.0 86.5h1v1h-1zM251.0 87.5h1v1h-1zM257.0 87.5h1v1h-1zM258.0 87.5h1v1h-1zM257.0 88.5h1v1h-1zM257.0 90.5h1v1h-1zM248.0 91.5h1v1h-1zM256.0 91.5h1v1h-1zM249.0 92.5h1v1h-1zM255.0 92.5h1v1h-1zM256.0 92.5h1v1h-1zM250.0 94.5h1v1h-1zM251.0 94.5h1v1h-1zM251.0 95.5h1v1h-1zM252.0 95.5h1v1h-1zM278.0 100.5h1v1h-1zM275.0 101.5h1v1h-1zM272.0 102.5h1v1h-1zM278.0 102.5h1v1h-1zM278.0 105.5h1v1h-1zM270.0 106.5h1v1h-1zM271.0 106.5h1v1h-1zM271.0 107.5h1v1h-1zM272.0 108.5h1v1h-1zM273.0 108.5h1v1h-1zM275.0 108.5h1v1h-1zM276.0 108.5h1v1h-1z" fill="rgb(17,17,17)"/><path d="M38.0 30.5h1v1h-1zM39.0 30.5h1v1h-1zM40.0 30.5h1v1h-1zM37.0 31.5h1v1h-1zM38.0 31.5h1v1h-1zM39.0 31.5h1v1h-1zM40.0 31.5h1v1h-1zM41.0 31.5h1v1h-1zM37.0 32.5h1v1h-1zM38.0 32.5h1v1h-1zM39.0 32.5h1v1h-1zM40.0 32.5h1v1h-1zM35.0 33.5h1v1h-1zM36.0 33.5h1v1h-1zM37.0 33.5h1v1h-1zM38.0 33.5h1v1h-1zM39.0 33.5h1v1h-1zM40.0 33.5h1v1h-1zM35.0 34.5h1v1h-1zM36.0 34.5h1v1h-1zM37.0 34.5h1v1h-1zM38.0 34.5h1v1h-1zM39.0 34.5h1v1h-1zM40.0 34.5h1v1h-1zM34.0 35.5h1v1h-1zM35.0 35.5h1v1h-1zM36.0 35.5h1v1h-1zM37.0 35.5h1v1h-1zM38.0 35.5h1v1h-1zM39.0 35.5h1v1h-1zM40.0 35.5h1v1h-1zM35.0 36.5h1v1h-1zM36.0 36.5h1v1h-1zM37.0 36.5h1v1h-1zM38.0 36.5h1v1h-1zM39.0 36.5h1v1h-1zM34.0 37.5h1v1h-1zM35.0 37.5h1v1h-1zM36.0 37.5h1v1h-1zM37.0 37.5h1v1h-1zM38.0 37.5h1v1h-1zM34.0 38.5h1v1h-1zM35.0 38.5h1v1h-1zM36.0 38.5h1v1h-1zM37.0 38.5h1v1h-1zM34.0 39.5h1v1h-1zM35.0 39.5h1v1h-1zM36.0 39.5h1v1h-1zM37.0 39.5h1v1h-1zM58.0 44.5h1v1h-1zM59.0 46.5h1v1h-1zM60.0 46.5h1v1h-1zM61.0 46.5h1v1h-1zM55.0 47.5h1v1h-1zM57.0 47.5h1v1h-1zM58.0 47.5h1v1h-1zM59.0 47.5h1v1h-1zM60.0 47.5h1v1h-1zM61.0 47.5h1v1h-1zM62.0 47.5h1v1h-1zM57.0 48.5h1v1h-1zM58.0 48.5h1v1h-1zM59.0 48.5h1v1h-1zM60.0 48.5h1v1h-1zM61.0 48.5h1v1h-1zM62.0 48.5h1v1h-1zM63.0 48.5h1v1h-1zM57.0 49.5h1v1h-1zM58.0 49.5h1v1h-1zM59.0 49.5h1v1h-1zM60.0 49.5h1v1h-1zM61.0 49.5h1v1h-1zM62.0 49.5h1v1h-1zM58.0 50.5h1v1h-1zM59.0 50.5h1v1h-1zM60.0 50.5h1v1h-1zM61.0 50.5h1v1h-1zM62.0 50.5h1v1h-1zM63.0 50.5h1v1h-1zM58.0 51.5h1v1h-1zM59.0 51.5h1v1h-1zM60.0 51.5h1v1h-1zM61.0 51.5h1v1h-1zM59.0 52.5h1v1h-1zM60.0 52.5h1v1h-1zM93.5 31.5h1v1h-1zM94.5 31.5h1v1h-1zM91.5 32.5h1v1h-1zM92.5 32.5h1v1h-1zM93.5 32.5h1v1h-1zM94.5 32.5h1v1h-1zM115.5 32.5h1v1h-1zM89.5 33.5h1v1h-1zM91.5 33.5h1v1h-1zM92.5 33.5h1v1h-1zM93.5 33.5h1v1h-1zM94.5 33.5h1v1h-1zM95.5 33.5h1v1h-1zM112.5 33.5h1v1h-1zM114.5 33.5h1v1h-1zM115.5 33.5h1v1h-1zM89.5 34.5h1v1h-1zM90.5 34.5h1v1h-1zM91.5 34.5h1v1h-1zM92.5 34.5h1v1h-1zM93.5 34.5h1v1h-1zM94.5 34.5h1v1h-1zM95.5 34.5h1v1h-1zM96.5 34.5h1v1h-1zM111.5 34.5h1v1h-1zM112.5 34.5h1v1h-1zM113.5 34.5h1v1h-1zM114.5 34.5h1v1h-1zM115.5 34.5h1v1h-1zM116.5 34.5h1v1h-1zM89.5 35.5h1v1h-1zM90.5 35.5h1v1h-1zM91.5 35.5h1v1h-1zM92.5 35.5h1v1h-1zM93.5 35.5h1v1h-1zM94.5 35.5h1v1h-1zM95.5 35.5h1v1h-1zM96.5 35.5h1v1h-1zM111.5 35.5h1v1h-1zM113.5 35.5h1v1h-1zM114.5 35.5h1v1h-1zM115.5 35.5h1v1h-1zM88.5 36.5h1v1h-1zM89.5 36.5h1v1h-1zM90.5 36.5h1v1h-1zM91.5 36.5h1v1h-1zM92.5 36.5h1v1h-1zM93.5 36.5h1v1h-1zM94.5 36.5h1v1h-1zM95.5 36.5h1v1h-1zM113.5 36.5h1v1h-1zM114.5 36.5h1v1h-1zM115.5 36.5h1v1h-1zM116.5 36.5h1v1h-1zM88.5 37.5h1v1h-1zM89.5 37.5h1v1h-1zM90.5 37.5h1v1h-1zM91.5 37.5h1v1h-1zM92.5 37.5h1v1h-1zM93.5 37.5h1v1h-1zM94.5 37.5h1v1h-1zM113.5 37.5h1v1h-1zM114.5 37.5h1v1h-1zM115.5 37.5h1v1h-1zM88.5 38.5h1v1h-1zM89.5 38.5h1v1h-1zM90.5 38.5h1v1h-1zM91.5 38.5h1v1h-1zM92.5 38.5h1v1h-1zM93.5 38.5h1v1h-1zM94.5 38.5h1v1h-1zM88.5 39.5h1v1h-1zM89.5 39.5h1v1h-1zM90.5 39.5h1v1h-1zM91.5 39.5h1v1h-1zM92.5 39.5h1v1h-1zM88.5 40.5h1v1h-1zM89.5 40.5h1v1h-1zM91.5 40.5h1v1h-1zM111.5 45.5h1v1h-1zM111.5 46.5h1v1h-1zM112.5 46.5h1v1h-1zM113.5 46.5h1v1h-1zM114.5 46.5h1v1h-1zM108.5 47.5h1v1h-1zM110.5 47.5h1v1h-1zM111.5 47.5h1v1h-1zM112.5 47.5h1v1h-1zM113.5 47.5h1v1h-1zM114.5 47.5h1v1h-1zM110.5 48.5h1v1h-1zM111.5 48.5h1v1h-1zM112.5 48.5h1v1h-1zM113.5 48.5h1v1h-1zM114.5 48.5h1v1h-1zM115.5 48.5h1v1h-1zM116.5 48.5h1v1h-1zM110.5 49.5h1v1h-1zM111.5 49.5h1v1h-1zM112.5 49.5h1v1h-1zM113.5 49.5h1v1h-1zM114.5 49.5h1v1h-1zM115.5 49.5h1v1h-1zM116.5 49.5h1v1h-1zM111.5 50.5h1v1h-1zM112.5 50.5h1v1h-1zM113.5 50.5h1v1h-1zM114.5 50.5h1v1h-1zM115.5 50.5h1v1h-1zM110.5 51.5h1v1h-1zM111.5 51.5h1v1h-1zM112.5 51.5h1v1h-1zM113.5 51.5h1v1h-1zM114.5 51.5h1v1h-1zM115.5 51.5h1v1h-1zM144.0 31.5h1v1h-1zM147.0 31.5h1v1h-1zM148.0 31.5h1v1h-1zM144.0 32.5h1v1h-1zM145.0 32.5h1v1h-1zM146.0 32.5h1v1h-1zM147.0 32.5h1v1h-1zM148.0 32.5h1v1h-1zM167.0 32.5h1v1h-1zM168.0 32.5h1v1h-1zM144.0 33.5h1v1h-1zM145.0 33.5h1v1h-1zM146.0 33.5h1v1h-1zM147.0 33.5h1v1h-1zM148.0 33.5h1v1h-1zM149.0 33.5h1v1h-1zM166.0 33.5h1v1h-1zM168.0 33.5h1v1h-1zM169.0 33.5h1v1h-1zM143.0 34.5h1v1h-1zM144.0 34.5h1v1h-1zM145.0 34.5h1v1h-1zM146.0 34.5h1v1h-1zM147.0 34.5h1v1h-1zM148.0 34.5h1v1h-1zM149.0 34.5h1v1h-1zM163.0 34.5h1v1h-1zM164.0 34.5h1v1h-1zM165.0 34.5h1v1h-1zM166.0 34.5h1v1h-1zM169.0 34.5h1v1h-1zM142.0 35.5h1v1h-1zM143.0 35.5h1v1h-1zM144.0 35.5h1v1h-1zM145.0 35.5h1v1h-1zM146.0 35.5h1v1h-1zM147.0 35.5h1v1h-1zM148.0 35.5h1v1h-1zM149.0 35.5h1v1h-1zM164.0 35.5h1v1h-1zM166.0 35.5h1v1h-1zM167.0 35.5h1v1h-1zM168.0 35.5h1v1h-1zM169.0 35.5h1v1h-1zM142.0 36.5h1v1h-1zM143.0 36.5h1v1h-1zM144.0 36.5h1v1h-1zM145.0 36.5h1v1h-1zM146.0 36.5h1v1h-1zM147.0 36.5h1v1h-1zM148.0 36.5h1v1h-1zM149.0 36.5h1v1h-1zM165.0 36.5h1v1h-1zM166.0 36.5h1v1h-1zM167.0 36.5h1v1h-1zM168.0 36.5h1v1h-1zM169.0 36.5h1v1h-1zM143.0 37.5h1v1h-1zM144.0 37.5h1v1h-1zM145.0 37.5h1v1h-1zM146.0 37.5h1v1h-1zM147.0 37.5h1v1h-1zM148.0 37.5h1v1h-1zM164.0 37.5h1v1h-1zM165.0 37.5h1v1h-1zM141.0 38.5h1v1h-1zM142.0 38.5h1v1h-1zM143.0 38.5h1v1h-1zM144.0 38.5h1v1h-1zM145.0 38.5h1v1h-1zM146.0 38.5h1v1h-1zM143.0 39.5h1v1h-1zM144.0 39.5h1v1h-1zM145.0 39.5h1v1h-1zM146.0 39.5h1v1h-1zM147.0 39.5h1v1h-1zM165.0 46.5h1v1h-1zM166.0 46.5h1v1h-1zM165.0 47.5h1v1h-1zM166.0 47.5h1v1h-1zM167.0 47.5h1v1h-1zM168.0 47.5h1v1h-1zM169.0 47.5h1v1h-1zM163.0 48.5h1v1h-1zM164.0 48.5h1v1h-1zM166.0 48.5h1v1h-1zM167.0 48.5h1v1h-1zM168.0 48.5h1v1h-1zM169.0 48.5h1v1h-1zM163.0 49.5h1v1h-1zM164.0 49.5h1v1h-1zM165.0 49.5h1v1h-1zM166.0 49.5h1v1h-1zM167.0 49.5h1v1h-1zM168.0 49.5h1v1h-1zM169.0 49.5h1v1h-1zM162.0 50.5h1v1h-1zM163.0 50.5h1v1h-1zM164.0 50.5h1v1h-1zM165.0 50.5h1v1h-1zM166.0 50.5h1v1h-1zM167.0 50.5h1v1h-1zM168.0 50.5h1v1h-1zM169.0 50.5h1v1h-1zM164.0 51.5h1v1h-1zM165.0 51.5h1v1h-1zM166.0 51.5h1v1h-1zM167.0 51.5h1v1h-1zM168.0 51.5h1v1h-1zM170.0 51.5h1v1h-1zM164.0 52.5h1v1h-1zM165.0 52.5h1v1h-1zM166.0 52.5h1v1h-1zM167.0 52.5h1v1h-1zM168.0 52.5h1v1h-1zM166.0 53.5h1v1h-1zM167.0 53.5h1v1h-1zM219.0 31.5h1v1h-1zM199.0 32.5h1v1h-1zM200.0 32.5h1v1h-1zM201.0 32.5h1v1h-1zM202.0 32.5h1v1h-1zM204.0 32.5h1v1h-1zM196.0 33.5h1v1h-1zM198.0 33.5h1v1h-1zM199.0 33.5h1v1h-1zM200.0 33.5h1v1h-1zM201.0 33.5h1v1h-1zM202.0 33.5h1v1h-1zM203.0 33.5h1v1h-1zM196.0 34.5h1v1h-1zM197.0 34.5h1v1h-1zM198.0 34.5h1v1h-1zM199.0 34.5h1v1h-1zM200.0 34.5h1v1h-1zM201.0 34.5h1v1h-1zM202.0 34.5h1v1h-1zM203.0 34.5h1v1h-1zM223.0 34.5h1v1h-1zM196.0 35.5h1v1h-1zM197.0 35.5h1v1h-1zM198.0 35.5h1v1h-1zM199.0 35.5h1v1h-1zM200.0 35.5h1v1h-1zM201.0 35.5h1v1h-1zM202.0 35.5h1v1h-1zM203.0 35.5h1v1h-1zM204.0 35.5h1v1h-1zM195.0 36.5h1v1h-1zM197.0 36.5h1v1h-1zM198.0 36.5h1v1h-1zM199.0 36.5h1v1h-1zM200.0 36.5h1v1h-1zM201.0 36.5h1v1h-1zM202.0 36.5h1v1h-1zM203.0 36.5h1v1h-1zM195.0 37.5h1v1h-1zM196.0 37.5h1v1h-1zM197.0 37.5h1v1h-1zM198.0 37.5h1v1h-1zM199.0 37.5h1v1h-1zM200.0 37.5h1v1h-1zM201.0 37.5h1v1h-1zM202.0 37.5h1v1h-1zM195.0 38.5h1v1h-1zM196.0 38.5h1v1h-1zM197.0 38.5h1v1h-1zM198.0 38.5h1v1h-1zM199.0 38.5h1v1h-1zM200.0 38.5h1v1h-1zM201.0 38.5h1v1h-1zM202.0 38.5h1v1h-1zM196.0 39.5h1v1h-1zM197.0 39.5h1v1h-1zM198.0 39.5h1v1h-1zM199.0 39.5h1v1h-1zM219.0 46.5h1v1h-1zM220.0 46.5h1v1h-1zM221.0 46.5h1v1h-1zM219.0 47.5h1v1h-1zM220.0 47.5h1v1h-1zM221.0 47.5h1v1h-1zM222.0 47.5h1v1h-1zM217.0 48.5h1v1h-1zM218.0 48.5h1v1h-1zM219.0 48.5h1v1h-1zM220.0 48.5h1v1h-1zM221.0 48.5h1v1h-1zM222.0 48.5h1v1h-1zM218.0 49.5h1v1h-1zM219.0 49.5h1v1h-1zM220.0 49.5h1v1h-1zM221.0 49.5h1v1h-1zM222.0 49.5h1v1h-1zM223.0 49.5h1v1h-1zM218.0 50.5h1v1h-1zM219.0 50.5h1v1h-1zM220.0 50.5h1v1h-1zM221.0 50.5h1v1h-1zM222.0 50.5h1v1h-1zM223.0 50.5h1v1h-1zM224.0 50.5h1v1h-1zM225.0 50.5h1v1h-1zM219.0 51.5h1v1h-1zM220.0 51.5h1v1h-1zM221.0 51.5h1v1h-1zM222.0 51.5h1v1h-1zM223.0 51.5h1v1h-1zM224.0 51.5h1v1h-1zM220.0 52.5h1v1h-1zM221.0 52.5h1v1h-1zM223.0 52.5h1v1h-1zM255.0 31.5h1v1h-1zM256.0 31.5h1v1h-1zM257.0 31.5h1v1h-1zM258.0 31.5h1v1h-1zM252.0 32.5h1v1h-1zM253.0 32.5h1v1h-1zM254.0 32.5h1v1h-1zM255.0 32.5h1v1h-1zM256.0 32.5h1v1h-1zM257.0 32.5h1v1h-1zM250.0 33.5h1v1h-1zM251.0 33.5h1v1h-1zM252.0 33.5h1v1h-1zM253.0 33.5h1v1h-1zM254.0 33.5h1v1h-1zM255.0 33.5h1v1h-1zM256.0 33.5h1v1h-1zM257.0 33.5h1v1h-1zM258.0 33.5h1v1h-1zM250.0 34.5h1v1h-1zM251.0 34.5h1v1h-1zM252.0 34.5h1v1h-1zM253.0 34.5h1v1h-1zM254.0 34.5h1v1h-1zM255.0 34.5h1v1h-1zM256.0 34.5h1v1h-1zM257.0 34.5h1v1h-1zM258.0 34.5h1v1h-1zM276.0 34.5h1v1h-1zM250.0 35.5h1v1h-1zM251.0 35.5h1v1h-1zM252.0 35.5h1v1h-1zM253.0 35.5h1v1h-1zM254.0 35.5h1v1h-1zM255.0 35.5h1v1h-1zM256.0 35.5h1v1h-1zM257.0 35.5h1v1h-1zM248.0 36.5h1v1h-1zM250.0 36.5h1v1h-1zM251.0 36.5h1v1h-1zM252.0 36.5h1v1h-1zM253.0 36.5h1v1h-1zM254.0 36.5h1v1h-1zM255.0 36.5h1v1h-1zM256.0 36.5h1v1h-1zM249.0 37.5h1v1h-1zM250.0 37.5h1v1h-1zM251.0 37.5h1v1h-1zM252.0 37.5h1v1h-1zM253.0 37.5h1v1h-1zM254.0 37.5h1v1h-1zM255.0 37.5h1v1h-1zM250.0 38.5h1v1h-1zM251.0 38.5h1v1h-1zM252.0 38.5h1v1h-1zM253.0 38.5h1v1h-1zM254.0 38.5h1v1h-1zM255.0 38.5h1v1h-1zM276.0 38.5h1v1h-1zM278.0 38.5h1v1h-1zM252.0 39.5h1v1h-1zM253.0 39.5h1v1h-1zM254.0 39.5h1v1h-1zM275.0 46.5h1v1h-1zM273.0 47.5h1v1h-1zM274.0 47.5h1v1h-1zM275.0 47.5h1v1h-1zM276.0 47.5h1v1h-1zM272.0 48.5h1v1h-1zM273.0 48.5h1v1h-1zM274.0 48.5h1v1h-1zM275.0 48.5h1v1h-1zM276.0 48.5h1v1h-1zM277.0 48.5h1v1h-1zM271.0 49.5h1v1h-1zM272.0 49.5h1v1h-1zM273.0 49.5h1v1h-1zM274.0 49.5h1v1h-1zM275.0 49.5h1v1h-1zM276.0 49.5h1v1h-1zM272.0 50.5h1v1h-1zM273.0 50.5h1v1h-1zM274.0 50.5h1v1h-1zM275.0 50.5h1v1h-1zM276.0 50.5h1v1h-1zM277.0 50.5h1v1h-1zM271.0 51.5h1v1h-1zM272.0 51.5h1v1h-1zM273.0 51.5h1v1h-1zM274.0 51.5h1v1h-1zM275.0 51.5h1v1h-1zM276.0 51.5h1v1h-1zM277.0 51.5h1v1h-1zM271.0 52.5h1v1h-1zM272.0 52.5h1v1h-1zM273.0 52.5h1v1h-1zM275.0 53.5h1v1h-1zM43.0 86.5h1v1h-1zM39.0 87.5h1v1h-1zM40.0 87.5h1v1h-1zM41.0 87.5h1v1h-1zM42.0 87.5h1v1h-1zM43.0 87.5h1v1h-1zM37.0 88.5h1v1h-1zM38.0 88.5h1v1h-1zM39.0 88.5h1v1h-1zM40.0 88.5h1v1h-1zM41.0 88.5h1v1h-1zM42.0 88.5h1v1h-1zM43.0 88.5h1v1h-1zM37.0 89.5h1v1h-1zM38.0 89.5h1v1h-1zM39.0 89.5h1v1h-1zM40.0 89.5h1v1h-1zM41.0 89.5h1v1h-1zM42.0 89.5h1v1h-1zM43.0 89.5h1v1h-1zM37.0 90.5h1v1h-1zM38.0 90.5h1v1h-1zM39.0 90.5h1v1h-1zM40.0 90.5h1v1h-1zM41.0 90.5h1v1h-1zM42.0 90.5h1v1h-1zM36.0 91.5h1v1h-1zM37.0 91.5h1v1h-1zM38.0 91.5h1v1h-1zM39.0 91.5h1v1h-1zM40.0 91.5h1v1h-1zM41.0 91.5h1v1h-1zM42.0 91.5h1v1h-1zM36.0 92.5h1v1h-1zM37.0 92.5h1v1h-1zM38.0 92.5h1v1h-1zM39.0 92.5h1v1h-1zM40.0 92.5h1v1h-1zM41.0 92.5h1v1h-1zM42.0 92.5h1v1h-1zM35.0 93.5h1v1h-1zM36.0 93.5h1v1h-1zM37.0 93.5h1v1h-1zM38.0 93.5h1v1h-1zM39.0 93.5h1v1h-1zM40.0 93.5h1v1h-1zM36.0 94.5h1v1h-1zM37.0 94.5h1v1h-1zM38.0 94.5h1v1h-1zM60.0 101.5h1v1h-1zM60.0 102.5h1v1h-1zM61.0 102.5h1v1h-1zM62.0 102.5h1v1h-1zM58.0 103.5h1v1h-1zM59.0 103.5h1v1h-1zM60.0 103.5h1v1h-1zM61.0 103.5h1v1h-1zM62.0 103.5h1v1h-1zM63.0 103.5h1v1h-1zM57.0 104.5h1v1h-1zM58.0 104.5h1v1h-1zM59.0 104.5h1v1h-1zM60.0 104.5h1v1h-1zM61.0 104.5h1v1h-1zM62.0 104.5h1v1h-1zM63.0 104.5h1v1h-1zM64.0 104.5h1v1h-1zM56.0 105.5h1v1h-1zM57.0 105.5h1v1h-1zM58.0 105.5h1v1h-1zM59.0 105.5h1v1h-1zM60.0 105.5h1v1h-1zM61.0 105.5h1v1h-1zM62.0 105.5h1v1h-1zM63.0 105.5h1v1h-1zM57.0 106.5h1v1h-1zM58.0 106.5h1v1h-1zM59.0 106.5h1v1h-1zM60.0 106.5h1v1h-1zM61.0 106.5h1v1h-1zM62.0 106.5h1v1h-1zM63.0 106.5h1v1h-1zM58.0 107.5h1v1h-1zM59.0 107.5h1v1h-1zM60.0 107.5h1v1h-1zM61.0 107.5h1v1h-1zM62.0 107.5h1v1h-1zM61.0 108.5h1v1h-1zM93.5 86.5h1v1h-1zM94.5 86.5h1v1h-1zM93.5 87.5h1v1h-1zM94.5 87.5h1v1h-1zM95.5 87.5h1v1h-1zM90.5 88.5h1v1h-1zM91.5 88.5h1v1h-1zM92.5 88.5h1v1h-1zM93.5 88.5h1v1h-1zM94.5 88.5h1v1h-1zM95.5 88.5h1v1h-1zM96.5 88.5h1v1h-1zM88.5 89.5h1v1h-1zM89.5 89.5h1v1h-1zM90.5 89.5h1v1h-1zM91.5 89.5h1v1h-1zM92.5 89.5h1v1h-1zM93.5 89.5h1v1h-1zM94.5 89.5h1v1h-1zM95.5 89.5h1v1h-1zM96.5 89.5h1v1h-1zM88.5 90.5h1v1h-1zM89.5 90.5h1v1h-1zM90.5 90.5h1v1h-1zM91.5 90.5h1v1h-1zM92.5 90.5h1v1h-1zM93.5 90.5h1v1h-1zM94.5 90.5h1v1h-1zM95.5 90.5h1v1h-1zM96.5 90.5h1v1h-1zM88.5 91.5h1v1h-1zM89.5 91.5h1v1h-1zM90.5 91.5h1v1h-1zM91.5 91.5h1v1h-1zM92.5 91.5h1v1h-1zM93.5 91.5h1v1h-1zM94.5 91.5h1v1h-1zM95.5 91.5h1v1h-1zM96.5 91.5h1v1h-1zM88.5 92.5h1v1h-1zM89.5 92.5h1v1h-1zM90.5 92.5h1v1h-1zM91.5 92.5h1v1h-1zM92.5 92.5h1v1h-1zM93.5 92.5h1v1h-1zM94.5 92.5h1v1h-1zM95.5 92.5h1v1h-1zM96.5 92.5h1v1h-1zM88.5 93.5h1v1h-1zM89.5 93.5h1v1h-1zM90.5 93.5h1v1h-1zM91.5 93.5h1v1h-1zM92.5 93.5h1v1h-1zM93.5 93.5h1v1h-1zM94.5 93.5h1v1h-1zM95.5 93.5h1v1h-1zM88.5 94.5h1v1h-1zM89.5 94.5h1v1h-1zM90.5 94.5h1v1h-1zM91.5 94.5h1v1h-1zM109.5 100.5h1v1h-1zM110.5 100.5h1v1h-1zM111.5 100.5h1v1h-1zM109.5 101.5h1v1h-1zM110.5 101.5h1v1h-1zM114.5 101.5h1v1h-1zM109.5 102.5h1v1h-1zM110.5 102.5h1v1h-1zM111.5 102.5h1v1h-1zM112.5 102.5h1v1h-1zM114.5 102.5h1v1h-1zM115.5 102.5h1v1h-1zM109.5 103.5h1v1h-1zM110.5 103.5h1v1h-1zM111.5 103.5h1v1h-1zM112.5 103.5h1v1h-1zM113.5 103.5h1v1h-1zM114.5 103.5h1v1h-1zM115.5 103.5h1v1h-1zM108.5 104.5h1v1h-1zM109.5 104.5h1v1h-1zM110.5 104.5h1v1h-1zM111.5 104.5h1v1h-1zM112.5 104.5h1v1h-1zM113.5 104.5h1v1h-1zM114.5 104.5h1v1h-1zM108.5 105.5h1v1h-1zM109.5 105.5h1v1h-1zM110.5 105.5h1v1h-1zM111.5 105.5h1v1h-1zM112.5 105.5h1v1h-1zM113.5 105.5h1v1h-1zM114.5 105.5h1v1h-1zM115.5 105.5h1v1h-1zM108.5 106.5h1v1h-1zM109.5 106.5h1v1h-1zM110.5 106.5h1v1h-1zM111.5 106.5h1v1h-1zM112.5 106.5h1v1h-1zM113.5 106.5h1v1h-1zM109.5 107.5h1v1h-1zM110.5 107.5h1v1h-1zM111.5 107.5h1v1h-1zM112.5 107.5h1v1h-1zM147.0 86.5h1v1h-1zM148.0 86.5h1v1h-1zM149.0 86.5h1v1h-1zM145.0 87.5h1v1h-1zM146.0 87.5h1v1h-1zM147.0 87.5h1v1h-1zM148.0 87.5h1v1h-1zM149.0 87.5h1v1h-1zM150.0 87.5h1v1h-1zM143.0 88.5h1v1h-1zM144.0 88.5h1v1h-1zM145.0 88.5h1v1h-1zM146.0 88.5h1v1h-1zM147.0 88.5h1v1h-1zM148.0 88.5h1v1h-1zM149.0 88.5h1v1h-1zM150.0 88.5h1v1h-1zM143.0 89.5h1v1h-1zM144.0 89.5h1v1h-1zM145.0 89.5h1v1h-1zM146.0 89.5h1v1h-1zM147.0 89.5h1v1h-1zM148.0 89.5h1v1h-1zM149.0 89.5h1v1h-1zM150.0 89.5h1v1h-1zM143.0 90.5h1v1h-1zM144.0 90.5h1v1h-1zM145.0 90.5h1v1h-1zM146.0 90.5h1v1h-1zM147.0 90.5h1v1h-1zM148.0 90.5h1v1h-1zM149.0 90.5h1v1h-1zM150.0 90.5h1v1h-1zM142.0 91.5h1v1h-1zM143.0 91.5h1v1h-1zM144.0 91.5h1v1h-1zM145.0 91.5h1v1h-1zM146.0 91.5h1v1h-1zM147.0 91.5h1v1h-1zM148.0 91.5h1v1h-1zM142.0 92.5h1v1h-1zM143.0 92.5h1v1h-1zM144.0 92.5h1v1h-1zM145.0 92.5h1v1h-1zM146.0 92.5h1v1h-1zM147.0 92.5h1v1h-1zM148.0 92.5h1v1h-1zM141.0 93.5h1v1h-1zM142.0 93.5h1v1h-1zM143.0 93.5h1v1h-1zM144.0 93.5h1v1h-1zM145.0 93.5h1v1h-1zM146.0 93.5h1v1h-1zM140.0 94.5h1v1h-1zM144.0 94.5h1v1h-1zM145.0 94.5h1v1h-1zM146.0 94.5h1v1h-1zM164.0 101.5h1v1h-1zM165.0 101.5h1v1h-1zM163.0 102.5h1v1h-1zM164.0 102.5h1v1h-1zM165.0 102.5h1v1h-1zM166.0 102.5h1v1h-1zM167.0 102.5h1v1h-1zM168.0 102.5h1v1h-1zM169.0 102.5h1v1h-1zM162.0 103.5h1v1h-1zM163.0 103.5h1v1h-1zM164.0 103.5h1v1h-1zM165.0 103.5h1v1h-1zM166.0 103.5h1v1h-1zM167.0 103.5h1v1h-1zM168.0 103.5h1v1h-1zM169.0 103.5h1v1h-1zM163.0 104.5h1v1h-1zM164.0 104.5h1v1h-1zM165.0 104.5h1v1h-1zM166.0 104.5h1v1h-1zM167.0 104.5h1v1h-1zM168.0 104.5h1v1h-1zM169.0 104.5h1v1h-1zM162.0 105.5h1v1h-1zM163.0 105.5h1v1h-1zM164.0 105.5h1v1h-1zM165.0 105.5h1v1h-1zM166.0 105.5h1v1h-1zM167.0 105.5h1v1h-1zM168.0 105.5h1v1h-1zM169.0 105.5h1v1h-1zM164.0 106.5h1v1h-1zM165.0 106.5h1v1h-1zM166.0 106.5h1v1h-1zM167.0 106.5h1v1h-1zM168.0 106.5h1v1h-1zM163.0 107.5h1v1h-1zM164.0 107.5h1v1h-1zM165.0 107.5h1v1h-1zM166.0 107.5h1v1h-1zM167.0 107.5h1v1h-1zM168.0 107.5h1v1h-1zM203.0 85.5h1v1h-1zM202.0 86.5h1v1h-1zM198.0 87.5h1v1h-1zM199.0 87.5h1v1h-1zM200.0 87.5h1v1h-1zM201.0 87.5h1v1h-1zM202.0 87.5h1v1h-1zM197.0 88.5h1v1h-1zM198.0 88.5h1v1h-1zM199.0 88.5h1v1h-1zM200.0 88.5h1v1h-1zM201.0 88.5h1v1h-1zM202.0 88.5h1v1h-1zM203.0 88.5h1v1h-1zM197.0 89.5h1v1h-1zM198.0 89.5h1v1h-1zM199.0 89.5h1v1h-1zM200.0 89.5h1v1h-1zM201.0 89.5h1v1h-1zM202.0 89.5h1v1h-1zM203.0 89.5h1v1h-1zM196.0 90.5h1v1h-1zM197.0 90.5h1v1h-1zM198.0 90.5h1v1h-1zM199.0 90.5h1v1h-1zM200.0 90.5h1v1h-1zM201.0 90.5h1v1h-1zM202.0 90.5h1v1h-1zM196.0 91.5h1v1h-1zM197.0 91.5h1v1h-1zM198.0 91.5h1v1h-1zM199.0 91.5h1v1h-1zM200.0 91.5h1v1h-1zM201.0 91.5h1v1h-1zM202.0 91.5h1v1h-1zM203.0 91.5h1v1h-1zM197.0 92.5h1v1h-1zM198.0 92.5h1v1h-1zM199.0 92.5h1v1h-1zM200.0 92.5h1v1h-1zM201.0 92.5h1v1h-1zM202.0 92.5h1v1h-1zM197.0 93.5h1v1h-1zM198.0 93.5h1v1h-1zM199.0 93.5h1v1h-1zM200.0 93.5h1v1h-1zM201.0 93.5h1v1h-1zM195.0 94.5h1v1h-1zM198.0 94.5h1v1h-1zM199.0 94.5h1v1h-1zM219.0 101.5h1v1h-1zM220.0 101.5h1v1h-1zM222.0 101.5h1v1h-1zM218.0 102.5h1v1h-1zM219.0 102.5h1v1h-1zM220.0 102.5h1v1h-1zM221.0 102.5h1v1h-1zM222.0 102.5h1v1h-1zM217.0 103.5h1v1h-1zM218.0 103.5h1v1h-1zM219.0 103.5h1v1h-1zM220.0 103.5h1v1h-1zM221.0 103.5h1v1h-1zM222.0 103.5h1v1h-1zM217.0 104.5h1v1h-1zM218.0 104.5h1v1h-1zM219.0 104.5h1v1h-1zM220.0 104.5h1v1h-1zM221.0 104.5h1v1h-1zM222.0 104.5h1v1h-1zM216.0 105.5h1v1h-1zM217.0 105.5h1v1h-1zM218.0 105.5h1v1h-1zM219.0 105.5h1v1h-1zM220.0 105.5h1v1h-1zM221.0 105.5h1v1h-1zM222.0 105.5h1v1h-1zM216.0 106.5h1v1h-1zM217.0 106.5h1v1h-1zM218.0 106.5h1v1h-1zM219.0 106.5h1v1h-1zM220.0 106.5h1v1h-1zM221.0 106.5h1v1h-1zM222.0 106.5h1v1h-1zM218.0 107.5h1v1h-1zM219.0 107.5h1v1h-1zM220.0 107.5h1v1h-1zM221.0 107.5h1v1h-1zM222.0 107.5h1v1h-1zM219.0 108.5h1v1h-1zM256.0 85.5h1v1h-1zM254.0 86.5h1v1h-1zM255.0 86.5h1v1h-1zM258.0 86.5h1v1h-1zM252.0 87.5h1v1h-1zM253.0 87.5h1v1h-1zM254.0 87.5h1v1h-1zM255.0 87.5h1v1h-1zM256.0 87.5h1v1h-1zM251.0 88.5h1v1h-1zM252.0 88.5h1v1h-1zM253.0 88.5h1v1h-1zM254.0 88.5h1v1h-1zM255.0 88.5h1v1h-1zM256.0 88.5h1v1h-1zM249.0 89.5h1v1h-1zM250.0 89.5h1v1h-1zM251.0 89.5h1v1h-1zM252.0 89.5h1v1h-1zM253.0 89.5h1v1h-1zM254.0 89.5h1v1h-1zM255.0 89.5h1v1h-1zM256.0 89.5h1v1h-1zM257.0 89.5h1v1h-1zM249.0 90.5h1v1h-1zM250.0 90.5h1v1h-1zM251.0 90.5h1v1h-1zM252.0 90.5h1v1h-1zM253.0 90.5h1v1h-1zM254.0 90.5h1v1h-1zM255.0 90.5h1v1h-1zM256.0 90.5h1v1h-1zM258.0 90.5h1v1h-1zM249.0 91.5h1v1h-1zM250.0 91.5h1v1h-1zM251.0 91.5h1v1h-1zM252.0 91.5h1v1h-1zM253.0 91.5h1v1h-1zM254.0 91.5h1v1h-1zM255.0 91.5h1v1h-1zM248.0 92.5h1v1h-1zM250.0 92.5h1v1h-1zM251.0 92.5h1v1h-1zM252.0 92.5h1v1h-1zM253.0 92.5h1v1h-1zM254.0 92.5h1v1h-1zM248.0 93.5h1v1h-1zM249.0 93.5h1v1h-1zM250.0 93.5h1v1h-1zM251.0 93.5h1v1h-1zM252.0 93.5h1v1h-1zM253.0 93.5h1v1h-1zM254.0 93.5h1v1h-1zM252.0 94.5h1v1h-1zM253.0 94.5h1v1h-1zM254.0 94.5h1v1h-1zM273.0 101.5h1v1h-1zM274.0 101.5h1v1h-1zM277.0 101.5h1v1h-1zM273.0 102.5h1v1h-1zM274.0 102.5h1v1h-1zM275.0 102.5h1v1h-1zM276.0 102.5h1v1h-1zM277.0 102.5h1v1h-1zM271.0 103.5h1v1h-1zM272.0 103.5h1v1h-1zM273.0 103.5h1v1h-1zM274.0 103.5h1v1h-1zM275.0 103.5h1v1h-1zM276.0 103.5h1v1h-1zM277.0 103.5h1v1h-1zM278.0 103.5h1v1h-1zM270.0 104.5h1v1h-1zM271.0 104.5h1v1h-1zM272.0 104.5h1v1h-1zM273.0 104.5h1v1h-1zM274.0 104.5h1v1h-1zM275.0 104.5h1v1h-1zM276.0 104.5h1v1h-1zM277.0 104.5h1v1h-1zM278.0 104.5h1v1h-1zM270.0 105.5h1v1h-1zM271.0 105.5h1v1h-1zM272.0 105.5h1v1h-1zM273.0 105.5h1v1h-1zM274.0 105.5h1v1h-1zM275.0 105.5h1v1h-1zM276.0 105.5h1v1h-1zM277.0 105.5h1v1h-1zM272.0 106.5h1v1h-1zM273.0 106.5h1v1h-1zM274.0 106.5h1v1h-1zM275.0 106.5h1v1h-1zM276.0 106.5h1v1h-1zM277.0 106.5h1v1h-1zM272.0 107.5h1v1h-1zM273.0 107.5h1v1h-1zM274.0 107.5h1v1h-1zM275.0 107.5h1v1h-1zM276.0 107.5h1v1h-1z" fill="rgb(0,0,0)"/><line x1="21.50" y1="125.50" x2="52.00" y2="125.50" stroke="#000" stroke-width="1"/><line x1="21.50" y1="95.00" x2="21.50" y2="126.00" stroke="#000" stroke-width="1"/><path d="M21.5 92.5 L19.5 97.2 L23.5 97.2 Z" fill="#000"/><path d="M55 125.5 L50.3 123.5 L50.3 127.5 Z" fill="#000"/><text x="0" y="0" font-size="10" text-anchor="middle" transform="translate(17.4,109.7) rotate(-90)">PKH26</text><text x="22.3" y="135.9" font-size="10" text-anchor="start" >CFSE</text><text x="306.0" y="16.6" font-size="14" text-anchor="start" >B</text><line x1="340.00" y1="6.00" x2="340.00" y2="113.30" stroke="#c8c8c8" stroke-width="1"/><line x1="337.00" y1="113.30" x2="340.00" y2="113.30" stroke="#c8c8c8" stroke-width="1"/><text x="331.5" y="116.9" font-size="10" text-anchor="end" >0</text><line x1="337.00" y1="95.42" x2="340.00" y2="95.42" stroke="#c8c8c8" stroke-width="1"/><text x="331.5" y="99.0" font-size="10" text-anchor="end" >10</text><line x1="337.00" y1="77.53" x2="340.00" y2="77.53" stroke="#c8c8c8" stroke-width="1"/><text x="331.5" y="81.1" font-size="10" text-anchor="end" >20</text><line x1="337.00" y1="59.65" x2="340.00" y2="59.65" stroke="#c8c8c8" stroke-width="1"/><text x="331.5" y="63.2" font-size="10" text-anchor="end" >30</text><line x1="337.00" y1="41.77" x2="340.00" y2="41.77" stroke="#c8c8c8" stroke-width="1"/><text x="331.5" y="45.4" font-size="10" text-anchor="end" >40</text><line x1="337.00" y1="23.88" x2="340.00" y2="23.88" stroke="#c8c8c8" stroke-width="1"/><text x="331.5" y="27.5" font-size="10" text-anchor="end" >50</text><line x1="337.00" y1="6.00" x2="340.00" y2="6.00" stroke="#c8c8c8" stroke-width="1"/><text x="331.5" y="9.6" font-size="10" text-anchor="end" >60</text><line x1="340.00" y1="113.30" x2="511.00" y2="113.30" stroke="#c8c8c8" stroke-width="1"/><line x1="340.00" y1="113.30" x2="340.00" y2="116.30" stroke="#c8c8c8" stroke-width="1"/><line x1="397.00" y1="113.30" x2="397.00" y2="116.30" stroke="#c8c8c8" stroke-width="1"/><line x1="454.00" y1="113.30" x2="454.00" y2="116.30" stroke="#c8c8c8" stroke-width="1"/><line x1="511.00" y1="113.30" x2="511.00" y2="116.30" stroke="#c8c8c8" stroke-width="1"/><rect x="347.10" y="25.67" width="21.20" height="87.63" fill="#8a8a8a" stroke="#222" stroke-width="1"/><line x1="357.70" y1="14.94" x2="357.70" y2="36.40" stroke="#222" stroke-width="1"/><line x1="354.95" y1="14.94" x2="360.45" y2="14.94" stroke="#222" stroke-width="1"/><line x1="354.95" y1="36.40" x2="360.45" y2="36.40" stroke="#222" stroke-width="1"/><rect x="368.30" y="90.05" width="21.20" height="23.25" fill="#fff" stroke="#222" stroke-width="1"/><line x1="378.90" y1="75.75" x2="378.90" y2="104.36" stroke="#222" stroke-width="1"/><line x1="376.40" y1="75.75" x2="381.40" y2="75.75" stroke="#222" stroke-width="1"/><line x1="376.40" y1="104.36" x2="381.40" y2="104.36" stroke="#222" stroke-width="1"/><rect x="404.10" y="43.55" width="21.20" height="69.75" fill="#8a8a8a" stroke="#222" stroke-width="1"/><line x1="414.70" y1="41.77" x2="414.70" y2="45.34" stroke="#222" stroke-width="1"/><line x1="411.95" y1="41.77" x2="417.45" y2="41.77" stroke="#222" stroke-width="1"/><line x1="411.95" y1="45.34" x2="417.45" y2="45.34" stroke="#222" stroke-width="1"/><rect x="425.30" y="104.36" width="21.20" height="8.94" fill="#fff" stroke="#222" stroke-width="1"/><line x1="435.90" y1="102.57" x2="435.90" y2="106.15" stroke="#222" stroke-width="1"/><line x1="433.40" y1="102.57" x2="438.40" y2="102.57" stroke="#222" stroke-width="1"/><line x1="433.40" y1="106.15" x2="438.40" y2="106.15" stroke="#222" stroke-width="1"/><rect x="461.10" y="82.90" width="21.20" height="30.40" fill="#8a8a8a" stroke="#222" stroke-width="1"/><line x1="471.70" y1="72.17" x2="471.70" y2="93.63" stroke="#222" stroke-width="1"/><line x1="468.95" y1="72.17" x2="474.45" y2="72.17" stroke="#222" stroke-width="1"/><line x1="468.95" y1="93.63" x2="474.45" y2="93.63" stroke="#222" stroke-width="1"/><rect x="482.30" y="106.15" width="21.20" height="7.15" fill="#fff" stroke="#222" stroke-width="1"/><line x1="492.90" y1="100.78" x2="492.90" y2="111.51" stroke="#222" stroke-width="1"/><line x1="490.40" y1="100.78" x2="495.40" y2="100.78" stroke="#222" stroke-width="1"/><line x1="490.40" y1="111.51" x2="495.40" y2="111.51" stroke="#222" stroke-width="1"/><circle cx="378.30" cy="68.70" r="1.4" fill="#000"/><circle cx="382.60" cy="68.70" r="1.4" fill="#000"/><circle cx="432.50" cy="97.50" r="1.4" fill="#000"/><circle cx="436.50" cy="97.50" r="1.4" fill="#000"/><circle cx="440.50" cy="97.50" r="1.4" fill="#000"/><circle cx="493.50" cy="93.60" r="1.4" fill="#000"/><text x="368.6" y="133.0" font-size="10" text-anchor="middle" >10:1</text><text x="425.8" y="133.0" font-size="10" text-anchor="middle" >5:1</text><text x="482.9" y="133.0" font-size="10" text-anchor="middle" >2,5:1</text><text x="426.0" y="143.8" font-size="10.5" text-anchor="middle" >E:T Ratio</text><text x="0" y="0" font-size="10.6" text-anchor="middle" transform="translate(318.3,65.6) rotate(-90)">% Specific Lysis</text><rect x="453.00" y="13.00" width="6.20" height="6.20" fill="#8a8a8a" stroke="#333" stroke-width="1"/><rect x="453.00" y="28.60" width="6.20" height="6.20" fill="#fff" stroke="#333" stroke-width="1"/><text x="462.1" y="19.5" font-size="10.5" text-anchor="start" >Control</text><text x="462.6" y="34.7" font-size="10.5" text-anchor="start" letter-spacing="0.3">EDTA</text><text x="7.6" y="150.5" font-size="13.8" text-anchor="start" >C</text><line x1="62.50" y1="145.90" x2="62.50" y2="237.30" stroke="#c8c8c8" stroke-width="1"/><line x1="59.50" y1="237.30" x2="62.50" y2="237.30" stroke="#c8c8c8" stroke-width="1"/><text x="53.8" y="240.9" font-size="10" text-anchor="end" >0</text><line x1="59.50" y1="219.02" x2="62.50" y2="219.02" stroke="#c8c8c8" stroke-width="1"/><text x="53.8" y="222.6" font-size="10" text-anchor="end" >10</text><line x1="59.50" y1="200.74" x2="62.50" y2="200.74" stroke="#c8c8c8" stroke-width="1"/><text x="53.8" y="204.3" font-size="10" text-anchor="end" >20</text><line x1="59.50" y1="182.46" x2="62.50" y2="182.46" stroke="#c8c8c8" stroke-width="1"/><text x="53.8" y="186.1" font-size="10" text-anchor="end" >30</text><line x1="59.50" y1="164.18" x2="62.50" y2="164.18" stroke="#c8c8c8" stroke-width="1"/><text x="53.8" y="167.8" font-size="10" text-anchor="end" >40</text><line x1="59.50" y1="145.90" x2="62.50" y2="145.90" stroke="#c8c8c8" stroke-width="1"/><text x="53.8" y="149.5" font-size="10" text-anchor="end" >50</text><line x1="62.50" y1="237.30" x2="268.50" y2="237.30" stroke="#c8c8c8" stroke-width="1"/><line x1="62.50" y1="237.30" x2="62.50" y2="240.30" stroke="#c8c8c8" stroke-width="1"/><line x1="114.00" y1="237.30" x2="114.00" y2="240.30" stroke="#c8c8c8" stroke-width="1"/><line x1="165.50" y1="237.30" x2="165.50" y2="240.30" stroke="#c8c8c8" stroke-width="1"/><line x1="217.00" y1="237.30" x2="217.00" y2="240.30" stroke="#c8c8c8" stroke-width="1"/><line x1="268.50" y1="237.30" x2="268.50" y2="240.30" stroke="#c8c8c8" stroke-width="1"/><rect x="73.40" y="160.52" width="15.10" height="76.78" fill="#8a8a8a" stroke="#222" stroke-width="1"/><line x1="80.95" y1="159.43" x2="80.95" y2="161.62" stroke="#222" stroke-width="1"/><line x1="78.45" y1="159.43" x2="83.45" y2="159.43" stroke="#222" stroke-width="1"/><line x1="78.45" y1="161.62" x2="83.45" y2="161.62" stroke="#222" stroke-width="1"/><rect x="88.50" y="224.50" width="15.10" height="12.80" fill="#fff" stroke="#222" stroke-width="1"/><line x1="96.05" y1="223.04" x2="96.05" y2="227.61" stroke="#222" stroke-width="1"/><line x1="93.55" y1="223.04" x2="98.55" y2="223.04" stroke="#222" stroke-width="1"/><line x1="93.55" y1="227.61" x2="98.55" y2="227.61" stroke="#222" stroke-width="1"/><rect x="124.90" y="165.09" width="15.10" height="72.21" fill="#8a8a8a" stroke="#222" stroke-width="1"/><line x1="132.45" y1="159.43" x2="132.45" y2="170.58" stroke="#222" stroke-width="1"/><line x1="129.95" y1="159.43" x2="134.95" y2="159.43" stroke="#222" stroke-width="1"/><line x1="129.95" y1="170.58" x2="134.95" y2="170.58" stroke="#222" stroke-width="1"/><rect x="140.00" y="207.14" width="15.10" height="30.16" fill="#fff" stroke="#222" stroke-width="1"/><line x1="147.55" y1="203.48" x2="147.55" y2="209.15" stroke="#222" stroke-width="1"/><line x1="145.05" y1="203.48" x2="150.05" y2="203.48" stroke="#222" stroke-width="1"/><line x1="145.05" y1="209.15" x2="150.05" y2="209.15" stroke="#222" stroke-width="1"/><rect x="176.40" y="176.98" width="15.10" height="60.32" fill="#8a8a8a" stroke="#222" stroke-width="1"/><line x1="183.95" y1="168.57" x2="183.95" y2="185.38" stroke="#222" stroke-width="1"/><line x1="181.45" y1="168.57" x2="186.45" y2="168.57" stroke="#222" stroke-width="1"/><line x1="181.45" y1="185.38" x2="186.45" y2="185.38" stroke="#222" stroke-width="1"/><rect x="191.50" y="212.07" width="15.10" height="25.23" fill="#fff" stroke="#222" stroke-width="1"/><line x1="199.05" y1="206.59" x2="199.05" y2="216.10" stroke="#222" stroke-width="1"/><line x1="196.55" y1="206.59" x2="201.55" y2="206.59" stroke="#222" stroke-width="1"/><line x1="196.55" y1="216.10" x2="201.55" y2="216.10" stroke="#222" stroke-width="1"/><rect x="227.90" y="188.86" width="15.10" height="48.44" fill="#8a8a8a" stroke="#222" stroke-width="1"/><line x1="235.45" y1="184.47" x2="235.45" y2="193.98" stroke="#222" stroke-width="1"/><line x1="232.95" y1="184.47" x2="237.95" y2="184.47" stroke="#222" stroke-width="1"/><line x1="232.95" y1="193.98" x2="237.95" y2="193.98" stroke="#222" stroke-width="1"/><rect x="243.00" y="219.20" width="15.10" height="18.10" fill="#fff" stroke="#222" stroke-width="1"/><line x1="250.55" y1="212.99" x2="250.55" y2="225.05" stroke="#222" stroke-width="1"/><line x1="248.05" y1="212.99" x2="253.05" y2="212.99" stroke="#222" stroke-width="1"/><line x1="248.05" y1="225.05" x2="253.05" y2="225.05" stroke="#222" stroke-width="1"/><circle cx="95.00" cy="217.70" r="1.4" fill="#000"/><circle cx="99.20" cy="217.70" r="1.4" fill="#000"/><circle cx="148.80" cy="198.00" r="1.4" fill="#000"/><circle cx="199.90" cy="201.10" r="1.4" fill="#000"/><circle cx="251.20" cy="205.40" r="1.4" fill="#000"/><text x="88.5" y="255.8" font-size="10" text-anchor="middle" >5</text><text x="140.0" y="255.8" font-size="10" text-anchor="middle" >15</text><text x="191.5" y="255.8" font-size="10" text-anchor="middle" >30</text><text x="243.0" y="255.8" font-size="10" text-anchor="middle" >60</text><text x="164.2" y="265.1" font-size="10.4" text-anchor="middle" >Time</text><text x="0" y="0" font-size="10.2" text-anchor="middle" transform="translate(40.2,193.8) rotate(-90)">% Binding Rate</text><rect x="211.60" y="157.40" width="6.20" height="6.20" fill="#8a8a8a" stroke="#333" stroke-width="1"/><rect x="211.60" y="172.30" width="6.20" height="6.20" fill="#fff" stroke="#333" stroke-width="1"/><text x="221.0" y="164.2" font-size="10" text-anchor="start" letter-spacing="0.2">BJAB</text><text x="221.0" y="179.0" font-size="10" text-anchor="start" letter-spacing="0.2">KARPAS</text><text x="289.5" y="150.0" font-size="14.5" text-anchor="start" >D</text><line x1="336.50" y1="155.00" x2="336.50" y2="239.00" stroke="#c8c8c8" stroke-width="1"/><line x1="333.50" y1="239.00" x2="336.50" y2="239.00" stroke="#c8c8c8" stroke-width="1"/><text x="327.8" y="242.6" font-size="10" text-anchor="end" >0</text><line x1="333.50" y1="218.00" x2="336.50" y2="218.00" stroke="#c8c8c8" stroke-width="1"/><text x="327.8" y="221.6" font-size="10" text-anchor="end" >10</text><line x1="333.50" y1="197.00" x2="336.50" y2="197.00" stroke="#c8c8c8" stroke-width="1"/><text x="327.8" y="200.6" font-size="10" text-anchor="end" >20</text><line x1="333.50" y1="176.00" x2="336.50" y2="176.00" stroke="#c8c8c8" stroke-width="1"/><text x="327.8" y="179.6" font-size="10" text-anchor="end" >30</text><line x1="333.50" y1="155.00" x2="336.50" y2="155.00" stroke="#c8c8c8" stroke-width="1"/><text x="327.8" y="158.6" font-size="10" text-anchor="end" >40</text><line x1="336.50" y1="239.00" x2="503.20" y2="239.00" stroke="#c8c8c8" stroke-width="1"/><line x1="336.50" y1="239.00" x2="336.50" y2="242.00" stroke="#c8c8c8" stroke-width="1"/><line x1="419.85" y1="239.00" x2="419.85" y2="242.00" stroke="#c8c8c8" stroke-width="1"/><line x1="503.20" y1="239.00" x2="503.20" y2="242.00" stroke="#c8c8c8" stroke-width="1"/><rect x="363.50" y="163.40" width="28.20" height="75.60" fill="#8a8a8a" stroke="#222" stroke-width="1"/><line x1="377.60" y1="151.43" x2="377.60" y2="174.32" stroke="#222" stroke-width="1"/><line x1="375.10" y1="151.43" x2="380.10" y2="151.43" stroke="#222" stroke-width="1"/><line x1="375.10" y1="174.32" x2="380.10" y2="174.32" stroke="#222" stroke-width="1"/><rect x="447.30" y="187.55" width="28.00" height="51.45" fill="#fff" stroke="#222" stroke-width="1"/><line x1="461.30" y1="170.12" x2="461.30" y2="205.19" stroke="#222" stroke-width="1"/><line x1="458.80" y1="170.12" x2="463.80" y2="170.12" stroke="#222" stroke-width="1"/><line x1="458.80" y1="205.19" x2="463.80" y2="205.19" stroke="#222" stroke-width="1"/><circle cx="461.40" cy="164.50" r="1.4" fill="#000"/><text x="377.6" y="256.8" font-size="10" text-anchor="middle" >BJAB</text><text x="461.6" y="256.8" font-size="10" text-anchor="middle" >KARPAS</text><text x="0" y="0" font-size="10.4" text-anchor="middle" transform="translate(309.9,191.9) rotate(-90)">% Specific Lysis</text><text x="8.8" y="278.8" font-size="14" text-anchor="start" >E</text><text x="23.3" y="296.2" font-size="10" text-anchor="start" >CIK</text><text x="14.2" y="346.3" font-size="10" text-anchor="start" >BJAB</text><path d="M48.10 313.60 L48.33 313.57 L48.55 313.53 L48.78 313.48 L49.00 313.41 L49.23 313.33 L49.45 313.23 L49.68 313.10 L49.90 312.93 L50.13 312.73 L50.35 312.49 L50.58 312.19 L50.80 311.82 L51.03 311.39 L51.25 310.87 L51.48 310.25 L51.70 309.53 L51.93 308.69 L52.15 307.72 L52.38 306.61 L52.60 305.34 L52.83 303.92 L53.05 302.34 L53.28 300.59 L53.50 298.69 L53.73 296.63 L53.95 294.44 L54.18 292.14 L54.40 289.76 L54.63 287.34 L54.85 284.92 L55.08 282.57 L55.30 280.34 L55.53 278.31 L55.75 276.56 L55.98 275.20 L56.20 274.37 L56.43 274.40 L56.65 275.15 L56.88 276.33 L57.11 277.82 L57.33 279.55 L57.56 281.46 L57.78 283.48 L58.01 285.57 L58.23 287.67 L58.46 289.76 L58.68 291.78 L58.91 293.73 L59.13 295.57 L59.36 297.29 L59.58 298.89 L59.81 300.35 L60.03 301.69 L60.26 302.90 L60.48 304.00 L60.71 305.00 L60.93 305.92 L61.16 306.79 L61.38 307.57 L61.61 308.28 L61.83 308.91 L62.06 309.47 L62.28 309.96 L62.51 310.40 L62.73 310.79 L62.96 311.14 L63.18 311.44 L63.41 311.71 L63.63 311.95 L63.86 312.15 L64.08 312.34 L64.31 312.50 L64.53 312.65 L64.76 312.78 L64.98 312.89 L65.21 312.99 L65.43 313.08 L65.66 313.16 L65.88 313.23 L66.11 313.29 L66.34 313.34 L66.56 313.39 L66.79 313.43 L67.01 313.47 L67.24 313.50 L67.46 313.53 L67.69 313.55 L67.91 313.58 L68.14 313.59 L68.36 313.61 L68.59 313.62 L68.81 313.64 L69.04 313.65 L69.26 313.66 L69.49 313.66 L69.71 313.67 L69.94 313.67 L70.16 313.68 L70.39 313.68 L70.61 313.69 L70.84 313.69 L71.06 313.69 L71.29 313.69 L71.51 313.69 L71.74 313.69 L71.96 313.70 L72.19 313.70 L72.41 313.70 L72.64 313.70 L72.86 313.70 L73.09 313.70 L73.31 313.70 L73.54 313.70 L73.76 313.70 L73.99 313.70 L74.21 313.70 L74.44 313.70 L74.66 313.70 L74.89 313.70 L75.12 313.70 L75.34 313.70 L75.57 313.70 L75.79 313.70 L76.02 313.70 L76.24 313.70 L76.47 313.70 L76.69 313.70 L76.92 313.70 L77.14 313.70 L77.37 313.70 L77.59 313.70 L77.82 313.70 L78.04 313.70 L78.27 313.70 L78.49 313.70 L78.72 313.70 L78.94 313.70 L79.17 313.70 L79.39 313.70 L79.62 313.70 L79.84 313.70 L80.07 313.70 L80.29 313.70 L80.52 313.70 L80.74 313.70 L80.97 313.70 L81.19 313.70 L81.42 313.70 L81.64 313.70 L81.87 313.70 L82.09 313.70 L82.32 313.70 L82.54 313.70 L82.77 313.70 L82.99 313.70 L83.22 313.70 L83.44 313.70 L83.67 313.70 L83.89 313.70 L84.12 313.70 L84.35 313.70 L84.57 313.70 L84.80 313.70 L85.02 313.70 L85.25 313.70 L85.47 313.70 L85.70 313.70 L85.92 313.70 L86.15 313.70 L86.37 313.70 L86.60 313.70 L86.82 313.70 L87.05 313.70 L87.27 313.70 L87.50 313.70 L87.72 313.70 L87.95 313.70 L88.17 313.70 L88.40 313.70 L88.62 313.70 L88.85 313.70 L89.07 313.70 L89.30 313.70 L89.52 313.70 L89.75 313.70 L89.97 313.70 L90.20 313.70 L90.42 313.70 L90.65 313.70 L90.87 313.70 L91.10 313.70 L91.32 313.70 L91.55 313.70 L91.77 313.70 L92.00 313.70 L92.22 313.70 L92.45 313.70 L92.67 313.70 L92.90 313.70 L92.90 313.70 L48.10 313.70 Z" fill="#555" stroke="#444" stroke-width="0.4"/><path d="M48.10 313.70 L48.33 313.70 L48.55 313.70 L48.78 313.70 L49.00 313.70 L49.23 313.70 L49.45 313.70 L49.68 313.70 L49.90 313.70 L50.13 313.70 L50.35 313.70 L50.58 313.70 L50.80 313.70 L51.03 313.70 L51.25 313.70 L51.48 313.70 L51.70 313.70 L51.93 313.70 L52.15 313.70 L52.38 313.70 L52.60 313.70 L52.83 313.70 L53.05 313.70 L53.28 313.70 L53.50 313.70 L53.73 313.70 L53.95 313.70 L54.18 313.70 L54.40 313.70 L54.63 313.70 L54.85 313.70 L55.08 313.70 L55.30 313.70 L55.53 313.70 L55.75 313.70 L55.98 313.70 L56.20 313.70 L56.43 313.70 L56.65 313.70 L56.88 313.70 L57.11 313.70 L57.33 313.70 L57.56 313.70 L57.78 313.70 L58.01 313.70 L58.23 313.69 L58.46 313.69 L58.68 313.69 L58.91 313.69 L59.13 313.69 L59.36 313.68 L59.58 313.68 L59.81 313.68 L60.03 313.67 L60.26 313.66 L60.48 313.65 L60.71 313.64 L60.93 313.63 L61.16 313.62 L61.38 313.60 L61.61 313.58 L61.83 313.56 L62.06 313.53 L62.28 313.49 L62.51 313.45 L62.73 313.41 L62.96 313.35 L63.18 313.29 L63.41 313.21 L63.63 313.13 L63.86 313.03 L64.08 312.92 L64.31 312.79 L64.53 312.65 L64.76 312.49 L64.98 312.31 L65.21 312.11 L65.43 311.88 L65.66 311.63 L65.88 311.36 L66.11 311.06 L66.34 310.73 L66.56 310.37 L66.79 309.98 L67.01 309.57 L67.24 309.12 L67.46 308.64 L67.69 308.13 L67.91 307.59 L68.14 307.03 L68.36 306.44 L68.59 305.80 L68.81 305.12 L69.04 304.39 L69.26 303.62 L69.49 302.79 L69.71 301.92 L69.94 300.99 L70.16 300.03 L70.39 299.01 L70.61 297.96 L70.84 296.86 L71.06 295.74 L71.29 294.59 L71.51 293.42 L71.74 292.24 L71.96 291.06 L72.19 289.89 L72.41 288.74 L72.64 287.63 L72.86 286.56 L73.09 285.57 L73.31 284.65 L73.54 283.83 L73.76 283.14 L73.99 282.59 L74.21 282.22 L74.44 282.12 L74.66 282.40 L74.89 282.90 L75.12 283.58 L75.34 284.41 L75.57 285.35 L75.79 286.40 L76.02 287.52 L76.24 288.70 L76.47 289.92 L76.69 291.18 L76.92 292.45 L77.14 293.72 L77.37 294.99 L77.59 296.23 L77.82 297.45 L78.04 298.64 L78.27 299.79 L78.49 300.89 L78.72 301.94 L78.94 302.94 L79.17 303.88 L79.39 304.77 L79.62 305.61 L79.84 306.39 L80.07 307.11 L80.29 307.78 L80.52 308.39 L80.74 308.96 L80.97 309.48 L81.19 309.95 L81.42 310.38 L81.64 310.76 L81.87 311.11 L82.09 311.43 L82.32 311.71 L82.54 311.96 L82.77 312.18 L82.99 312.38 L83.22 312.56 L83.44 312.71 L83.67 312.85 L83.89 312.97 L84.12 313.07 L84.35 313.16 L84.57 313.24 L84.80 313.31 L85.02 313.37 L85.25 313.42 L85.47 313.46 L85.70 313.50 L85.92 313.53 L86.15 313.56 L86.37 313.58 L86.60 313.60 L86.82 313.62 L87.05 313.63 L87.27 313.64 L87.50 313.65 L87.72 313.66 L87.95 313.67 L88.17 313.67 L88.40 313.68 L88.62 313.68 L88.85 313.69 L89.07 313.69 L89.30 313.69 L89.52 313.69 L89.75 313.69 L89.97 313.69 L90.20 313.70 L90.42 313.70 L90.65 313.70 L90.87 313.70 L91.10 313.70 L91.32 313.70 L91.55 313.70 L91.77 313.70 L92.00 313.70 L92.22 313.70 L92.45 313.70 L92.67 313.70 L92.90 313.70" fill="none" stroke="#555" stroke-width="0.75"/><line x1="47.60" y1="314.00" x2="93.40" y2="314.00" stroke="#444" stroke-width="1"/><rect x="47.60" y="270.60" width="45.80" height="44.60" fill="none" stroke="#666" stroke-width="1"/><text x="87.2" y="280.7" font-size="10" text-anchor="end" >LFA-1</text><path d="M48.10 364.29 L48.33 364.29 L48.55 364.28 L48.78 364.27 L49.00 364.26 L49.23 364.24 L49.45 364.21 L49.68 364.18 L49.90 364.13 L50.13 364.07 L50.35 363.98 L50.58 363.86 L50.80 363.70 L51.03 363.50 L51.25 363.23 L51.48 362.90 L51.70 362.47 L51.93 361.93 L52.15 361.27 L52.38 360.47 L52.60 359.49 L52.83 358.34 L53.05 356.98 L53.28 355.42 L53.50 353.64 L53.73 351.65 L53.95 349.47 L54.18 347.12 L54.40 344.65 L54.63 342.12 L54.85 339.62 L55.08 337.23 L55.30 335.08 L55.53 333.31 L55.75 332.08 L55.98 331.79 L56.20 332.54 L56.43 333.85 L56.65 335.56 L56.88 337.55 L57.11 339.70 L57.33 341.94 L57.56 344.19 L57.78 346.40 L58.01 348.52 L58.23 350.52 L58.46 352.37 L58.68 354.04 L58.91 355.54 L59.13 356.86 L59.36 358.01 L59.58 359.00 L59.81 359.84 L60.03 360.56 L60.26 361.16 L60.48 361.66 L60.71 362.08 L60.93 362.42 L61.16 362.71 L61.38 362.94 L61.61 363.13 L61.83 363.29 L62.06 363.42 L62.28 363.53 L62.51 363.63 L62.73 363.71 L62.96 363.77 L63.18 363.83 L63.41 363.88 L63.63 363.93 L63.86 363.97 L64.08 364.01 L64.31 364.04 L64.53 364.07 L64.76 364.09 L64.98 364.11 L65.21 364.14 L65.43 364.15 L65.66 364.17 L65.88 364.19 L66.11 364.20 L66.34 364.21 L66.56 364.22 L66.79 364.23 L67.01 364.24 L67.24 364.25 L67.46 364.26 L67.69 364.26 L67.91 364.27 L68.14 364.27 L68.36 364.28 L68.59 364.28 L68.81 364.28 L69.04 364.28 L69.26 364.29 L69.49 364.29 L69.71 364.29 L69.94 364.29 L70.16 364.29 L70.39 364.29 L70.61 364.30 L70.84 364.30 L71.06 364.30 L71.29 364.30 L71.51 364.30 L71.74 364.30 L71.96 364.30 L72.19 364.30 L72.41 364.30 L72.64 364.30 L72.86 364.30 L73.09 364.30 L73.31 364.30 L73.54 364.30 L73.76 364.30 L73.99 364.30 L74.21 364.30 L74.44 364.30 L74.66 364.30 L74.89 364.30 L75.12 364.30 L75.34 364.30 L75.57 364.30 L75.79 364.30 L76.02 364.30 L76.24 364.30 L76.47 364.30 L76.69 364.30 L76.92 364.30 L77.14 364.30 L77.37 364.30 L77.59 364.30 L77.82 364.30 L78.04 364.30 L78.27 364.30 L78.49 364.30 L78.72 364.30 L78.94 364.30 L79.17 364.30 L79.39 364.30 L79.62 364.30 L79.84 364.30 L80.07 364.30 L80.29 364.30 L80.52 364.30 L80.74 364.30 L80.97 364.30 L81.19 364.30 L81.42 364.30 L81.64 364.30 L81.87 364.30 L82.09 364.30 L82.32 364.30 L82.54 364.30 L82.77 364.30 L82.99 364.30 L83.22 364.30 L83.44 364.30 L83.67 364.30 L83.89 364.30 L84.12 364.30 L84.35 364.30 L84.57 364.30 L84.80 364.30 L85.02 364.30 L85.25 364.30 L85.47 364.30 L85.70 364.30 L85.92 364.30 L86.15 364.30 L86.37 364.30 L86.60 364.30 L86.82 364.30 L87.05 364.30 L87.27 364.30 L87.50 364.30 L87.72 364.30 L87.95 364.30 L88.17 364.30 L88.40 364.30 L88.62 364.30 L88.85 364.30 L89.07 364.30 L89.30 364.30 L89.52 364.30 L89.75 364.30 L89.97 364.30 L90.20 364.30 L90.42 364.30 L90.65 364.30 L90.87 364.30 L91.10 364.30 L91.32 364.30 L91.55 364.30 L91.77 364.30 L92.00 364.30 L92.22 364.30 L92.45 364.30 L92.67 364.30 L92.90 364.30 L92.90 364.30 L48.10 364.30 Z" fill="#555" stroke="#444" stroke-width="0.4"/><path d="M48.10 364.30 L48.33 364.30 L48.55 364.30 L48.78 364.30 L49.00 364.30 L49.23 364.30 L49.45 364.30 L49.68 364.30 L49.90 364.30 L50.13 364.30 L50.35 364.30 L50.58 364.30 L50.80 364.30 L51.03 364.30 L51.25 364.30 L51.48 364.30 L51.70 364.30 L51.93 364.30 L52.15 364.30 L52.38 364.30 L52.60 364.30 L52.83 364.30 L53.05 364.30 L53.28 364.30 L53.50 364.30 L53.73 364.30 L53.95 364.30 L54.18 364.30 L54.40 364.30 L54.63 364.30 L54.85 364.30 L55.08 364.30 L55.30 364.30 L55.53 364.30 L55.75 364.30 L55.98 364.30 L56.20 364.30 L56.43 364.30 L56.65 364.30 L56.88 364.30 L57.11 364.30 L57.33 364.30 L57.56 364.30 L57.78 364.29 L58.01 364.29 L58.23 364.29 L58.46 364.29 L58.68 364.29 L58.91 364.29 L59.13 364.28 L59.36 364.28 L59.58 364.28 L59.81 364.27 L60.03 364.27 L60.26 364.26 L60.48 364.26 L60.71 364.25 L60.93 364.24 L61.16 364.23 L61.38 364.22 L61.61 364.21 L61.83 364.19 L62.06 364.18 L62.28 364.16 L62.51 364.14 L62.73 364.12 L62.96 364.09 L63.18 364.06 L63.41 364.03 L63.63 364.00 L63.86 363.96 L64.08 363.92 L64.31 363.88 L64.53 363.83 L64.76 363.77 L64.98 363.71 L65.21 363.65 L65.43 363.58 L65.66 363.51 L65.88 363.43 L66.11 363.35 L66.34 363.26 L66.56 363.16 L66.79 363.07 L67.01 362.96 L67.24 362.85 L67.46 362.74 L67.69 362.63 L67.91 362.51 L68.14 362.38 L68.36 362.26 L68.59 362.13 L68.81 362.00 L69.04 361.86 L69.26 361.73 L69.49 361.59 L69.71 361.45 L69.94 361.30 L70.16 361.15 L70.39 360.99 L70.61 360.83 L70.84 360.66 L71.06 360.48 L71.29 360.33 L71.51 360.17 L71.74 359.99 L71.96 359.77 L72.19 359.50 L72.41 359.17 L72.64 358.75 L72.86 358.25 L73.09 357.65 L73.31 356.93 L73.54 356.09 L73.76 355.12 L73.99 354.03 L74.21 352.80 L74.44 351.45 L74.66 349.98 L74.89 348.42 L75.12 346.77 L75.34 345.07 L75.57 343.36 L75.79 341.66 L76.02 340.03 L76.24 338.51 L76.47 337.18 L76.69 336.09 L76.92 335.35 L77.14 335.11 L77.37 335.55 L77.59 336.34 L77.82 337.39 L78.04 338.65 L78.27 340.06 L78.49 341.58 L78.72 343.16 L78.94 344.78 L79.17 346.40 L79.39 348.00 L79.62 349.56 L79.84 351.05 L80.07 352.47 L80.29 353.80 L80.52 355.03 L80.74 356.17 L80.97 357.21 L81.19 358.15 L81.42 359.00 L81.64 359.76 L81.87 360.42 L82.09 361.01 L82.32 361.53 L82.54 361.97 L82.77 362.35 L82.99 362.68 L83.22 362.96 L83.44 363.20 L83.67 363.40 L83.89 363.57 L84.12 363.71 L84.35 363.82 L84.57 363.91 L84.80 363.99 L85.02 364.05 L85.25 364.11 L85.47 364.15 L85.70 364.18 L85.92 364.21 L86.15 364.23 L86.37 364.24 L86.60 364.26 L86.82 364.27 L87.05 364.27 L87.27 364.28 L87.50 364.29 L87.72 364.29 L87.95 364.29 L88.17 364.29 L88.40 364.30 L88.62 364.30 L88.85 364.30 L89.07 364.30 L89.30 364.30 L89.52 364.30 L89.75 364.30 L89.97 364.30 L90.20 364.30 L90.42 364.30 L90.65 364.30 L90.87 364.30 L91.10 364.30 L91.32 364.30 L91.55 364.30 L91.77 364.30 L92.00 364.30 L92.22 364.30 L92.45 364.30 L92.67 364.30 L92.90 364.30" fill="none" stroke="#555" stroke-width="0.75"/><line x1="47.60" y1="364.60" x2="93.40" y2="364.60" stroke="#444" stroke-width="1"/><rect x="47.60" y="320.60" width="45.80" height="45.20" fill="none" stroke="#666" stroke-width="1"/><text x="91.3" y="330.7" font-size="10" text-anchor="end" >ICAM-1</text><path d="M98.10 363.82 L98.33 363.71 L98.55 363.56 L98.78 363.38 L99.00 363.15 L99.23 362.86 L99.45 362.49 L99.68 362.03 L99.90 361.46 L100.13 360.75 L100.35 359.89 L100.58 358.84 L100.80 357.58 L101.03 356.09 L101.25 354.34 L101.48 352.32 L101.70 350.02 L101.93 347.44 L102.15 344.59 L102.38 341.51 L102.60 338.24 L102.83 334.86 L103.05 331.47 L103.28 328.17 L103.50 325.12 L103.73 322.49 L103.95 321.10 L104.18 321.10 L104.40 321.10 L104.63 321.10 L104.85 321.97 L105.08 323.71 L105.30 325.71 L105.53 327.90 L105.75 330.22 L105.98 332.62 L106.20 335.08 L106.43 337.52 L106.65 339.91 L106.88 342.22 L107.11 344.41 L107.33 346.48 L107.56 348.41 L107.78 350.19 L108.01 351.82 L108.23 353.30 L108.46 354.64 L108.68 355.84 L108.91 356.91 L109.13 357.86 L109.36 358.70 L109.58 359.43 L109.81 360.08 L110.03 360.64 L110.26 361.13 L110.48 361.55 L110.71 361.92 L110.93 362.24 L111.16 362.51 L111.38 362.75 L111.61 362.95 L111.83 363.13 L112.06 363.28 L112.28 363.42 L112.51 363.53 L112.73 363.63 L112.96 363.72 L113.18 363.79 L113.41 363.86 L113.63 363.91 L113.86 363.96 L114.08 364.01 L114.31 364.05 L114.53 364.08 L114.76 364.11 L114.98 364.13 L115.21 364.16 L115.43 364.18 L115.66 364.19 L115.88 364.21 L116.11 364.22 L116.34 364.23 L116.56 364.24 L116.79 364.25 L117.01 364.26 L117.24 364.26 L117.46 364.27 L117.69 364.27 L117.91 364.28 L118.14 364.28 L118.36 364.28 L118.59 364.29 L118.81 364.29 L119.04 364.29 L119.26 364.29 L119.49 364.29 L119.71 364.29 L119.94 364.30 L120.16 364.30 L120.39 364.30 L120.61 364.30 L120.84 364.30 L121.06 364.30 L121.29 364.30 L121.51 364.30 L121.74 364.30 L121.96 364.30 L122.19 364.30 L122.41 364.30 L122.64 364.30 L122.86 364.30 L123.09 364.30 L123.31 364.30 L123.54 364.30 L123.76 364.30 L123.99 364.30 L124.21 364.30 L124.44 364.30 L124.66 364.30 L124.89 364.30 L125.12 364.30 L125.34 364.30 L125.57 364.30 L125.79 364.30 L126.02 364.30 L126.24 364.30 L126.47 364.30 L126.69 364.30 L126.92 364.30 L127.14 364.30 L127.37 364.30 L127.59 364.30 L127.82 364.30 L128.04 364.30 L128.27 364.30 L128.49 364.30 L128.72 364.30 L128.94 364.30 L129.17 364.30 L129.39 364.30 L129.62 364.30 L129.84 364.30 L130.07 364.30 L130.29 364.30 L130.52 364.30 L130.74 364.30 L130.97 364.30 L131.19 364.30 L131.42 364.30 L131.64 364.30 L131.87 364.30 L132.09 364.30 L132.32 364.30 L132.54 364.30 L132.77 364.30 L132.99 364.30 L133.22 364.30 L133.44 364.30 L133.67 364.30 L133.89 364.30 L134.12 364.30 L134.35 364.30 L134.57 364.30 L134.80 364.30 L135.02 364.30 L135.25 364.30 L135.47 364.30 L135.70 364.30 L135.92 364.30 L136.15 364.30 L136.37 364.30 L136.60 364.30 L136.82 364.30 L137.05 364.30 L137.27 364.30 L137.50 364.30 L137.72 364.30 L137.95 364.30 L138.17 364.30 L138.40 364.30 L138.62 364.30 L138.85 364.30 L139.07 364.30 L139.30 364.30 L139.52 364.30 L139.75 364.30 L139.97 364.30 L140.20 364.30 L140.42 364.30 L140.65 364.30 L140.87 364.30 L141.10 364.30 L141.32 364.30 L141.55 364.30 L141.77 364.30 L142.00 364.30 L142.22 364.30 L142.45 364.30 L142.67 364.30 L142.90 364.30 L142.90 364.30 L98.10 364.30 Z" fill="#555" stroke="#444" stroke-width="0.4"/><path d="M98.10 364.30 L98.33 364.30 L98.55 364.30 L98.78 364.30 L99.00 364.30 L99.23 364.30 L99.45 364.30 L99.68 364.30 L99.90 364.30 L100.13 364.30 L100.35 364.30 L100.58 364.30 L100.80 364.30 L101.03 364.30 L101.25 364.30 L101.48 364.30 L101.70 364.30 L101.93 364.30 L102.15 364.30 L102.38 364.30 L102.60 364.30 L102.83 364.30 L103.05 364.30 L103.28 364.30 L103.50 364.30 L103.73 364.30 L103.95 364.30 L104.18 364.30 L104.40 364.29 L104.63 364.29 L104.85 364.29 L105.08 364.29 L105.30 364.29 L105.53 364.28 L105.75 364.28 L105.98 364.27 L106.20 364.26 L106.43 364.25 L106.65 364.24 L106.88 364.23 L107.11 364.21 L107.33 364.19 L107.56 364.17 L107.78 364.14 L108.01 364.10 L108.23 364.06 L108.46 364.01 L108.68 363.95 L108.91 363.88 L109.13 363.79 L109.36 363.69 L109.58 363.57 L109.81 363.43 L110.03 363.27 L110.26 363.08 L110.48 362.86 L110.71 362.61 L110.93 362.33 L111.16 362.00 L111.38 361.63 L111.61 361.21 L111.83 360.73 L112.06 360.20 L112.28 359.61 L112.51 358.95 L112.73 358.23 L112.96 357.43 L113.18 356.55 L113.41 355.60 L113.63 354.58 L113.86 353.48 L114.08 352.30 L114.31 351.05 L114.53 349.74 L114.76 348.37 L114.98 346.95 L115.21 345.49 L115.43 344.00 L115.66 342.50 L115.88 341.01 L116.11 339.55 L116.34 338.14 L116.56 336.81 L116.79 335.57 L117.01 334.48 L117.24 333.55 L117.46 332.83 L117.69 332.38 L117.91 332.37 L118.14 332.76 L118.36 333.39 L118.59 334.21 L118.81 335.18 L119.04 336.27 L119.26 337.47 L119.49 338.74 L119.71 340.07 L119.94 341.43 L120.16 342.82 L120.39 344.20 L120.61 345.58 L120.84 346.93 L121.06 348.25 L121.29 349.52 L121.51 350.75 L121.74 351.92 L121.96 353.03 L122.19 354.08 L122.41 355.07 L122.64 355.99 L122.86 356.84 L123.09 357.63 L123.31 358.36 L123.54 359.02 L123.76 359.63 L123.99 360.17 L124.21 360.67 L124.44 361.12 L124.66 361.52 L124.89 361.88 L125.12 362.20 L125.34 362.48 L125.57 362.73 L125.79 362.95 L126.02 363.14 L126.24 363.31 L126.47 363.45 L126.69 363.58 L126.92 363.69 L127.14 363.78 L127.37 363.86 L127.59 363.93 L127.82 363.99 L128.04 364.04 L128.27 364.09 L128.49 364.12 L128.72 364.15 L128.94 364.18 L129.17 364.20 L129.39 364.22 L129.62 364.23 L129.84 364.24 L130.07 364.25 L130.29 364.26 L130.52 364.27 L130.74 364.28 L130.97 364.28 L131.19 364.28 L131.42 364.29 L131.64 364.29 L131.87 364.29 L132.09 364.29 L132.32 364.29 L132.54 364.30 L132.77 364.30 L132.99 364.30 L133.22 364.30 L133.44 364.30 L133.67 364.30 L133.89 364.30 L134.12 364.30 L134.35 364.30 L134.57 364.30 L134.80 364.30 L135.02 364.30 L135.25 364.30 L135.47 364.30 L135.70 364.30 L135.92 364.30 L136.15 364.30 L136.37 364.30 L136.60 364.30 L136.82 364.30 L137.05 364.30 L137.27 364.30 L137.50 364.30 L137.72 364.30 L137.95 364.30 L138.17 364.30 L138.40 364.30 L138.62 364.30 L138.85 364.30 L139.07 364.30 L139.30 364.30 L139.52 364.30 L139.75 364.30 L139.97 364.30 L140.20 364.30 L140.42 364.30 L140.65 364.30 L140.87 364.30 L141.10 364.30 L141.32 364.30 L141.55 364.30 L141.77 364.30 L142.00 364.30 L142.22 364.30 L142.45 364.30 L142.67 364.30 L142.90 364.30" fill="none" stroke="#555" stroke-width="0.75"/><line x1="97.60" y1="364.60" x2="143.40" y2="364.60" stroke="#444" stroke-width="1"/><rect x="97.60" y="320.60" width="45.80" height="45.20" fill="none" stroke="#666" stroke-width="1"/><text x="143.3" y="330.7" font-size="10" text-anchor="end" >ICAM-2</text><path d="M149.10 364.00 L149.33 363.91 L149.55 363.79 L149.78 363.64 L150.00 363.45 L150.23 363.21 L150.45 362.91 L150.68 362.53 L150.90 362.05 L151.13 361.47 L151.35 360.75 L151.58 359.89 L151.80 358.85 L152.03 357.62 L152.25 356.18 L152.48 354.51 L152.70 352.59 L152.93 350.42 L153.15 348.00 L153.38 345.34 L153.60 342.46 L153.83 339.41 L154.05 336.23 L154.28 333.01 L154.50 329.82 L154.73 326.79 L154.95 324.04 L155.18 321.72 L155.40 321.10 L155.63 321.10 L155.85 321.10 L156.08 321.10 L156.30 322.21 L156.53 324.01 L156.75 326.07 L156.98 328.34 L157.20 330.75 L157.43 333.24 L157.65 335.74 L157.88 338.21 L158.11 340.62 L158.33 342.92 L158.56 345.11 L158.78 347.17 L159.01 349.07 L159.23 350.83 L159.46 352.43 L159.68 353.89 L159.91 355.20 L160.13 356.37 L160.36 357.40 L160.58 358.32 L160.81 359.13 L161.03 359.84 L161.26 360.45 L161.48 360.99 L161.71 361.45 L161.93 361.85 L162.16 362.19 L162.38 362.49 L162.61 362.74 L162.83 362.96 L163.06 363.15 L163.28 363.31 L163.51 363.44 L163.73 363.56 L163.96 363.66 L164.18 363.75 L164.41 363.83 L164.63 363.89 L164.86 363.95 L165.08 363.99 L165.31 364.04 L165.53 364.07 L165.76 364.10 L165.98 364.13 L166.21 364.15 L166.43 364.17 L166.66 364.19 L166.88 364.21 L167.11 364.22 L167.34 364.23 L167.56 364.24 L167.79 364.25 L168.01 364.26 L168.24 364.26 L168.46 364.27 L168.69 364.27 L168.91 364.28 L169.14 364.28 L169.36 364.28 L169.59 364.29 L169.81 364.29 L170.04 364.29 L170.26 364.29 L170.49 364.29 L170.71 364.29 L170.94 364.30 L171.16 364.30 L171.39 364.30 L171.61 364.30 L171.84 364.30 L172.06 364.30 L172.29 364.30 L172.51 364.30 L172.74 364.30 L172.96 364.30 L173.19 364.30 L173.41 364.30 L173.64 364.30 L173.86 364.30 L174.09 364.30 L174.31 364.30 L174.54 364.30 L174.76 364.30 L174.99 364.30 L175.21 364.30 L175.44 364.30 L175.66 364.30 L175.89 364.30 L176.12 364.30 L176.34 364.30 L176.57 364.30 L176.79 364.30 L177.02 364.30 L177.24 364.30 L177.47 364.30 L177.69 364.30 L177.92 364.30 L178.14 364.30 L178.37 364.30 L178.59 364.30 L178.82 364.30 L179.04 364.30 L179.27 364.30 L179.49 364.30 L179.72 364.30 L179.94 364.30 L180.17 364.30 L180.39 364.30 L180.62 364.30 L180.84 364.30 L181.07 364.30 L181.29 364.30 L181.52 364.30 L181.74 364.30 L181.97 364.30 L182.19 364.30 L182.42 364.30 L182.64 364.30 L182.87 364.30 L183.09 364.30 L183.32 364.30 L183.54 364.30 L183.77 364.30 L183.99 364.30 L184.22 364.30 L184.44 364.30 L184.67 364.30 L184.89 364.30 L185.12 364.30 L185.35 364.30 L185.57 364.30 L185.80 364.30 L186.02 364.30 L186.25 364.30 L186.47 364.30 L186.70 364.30 L186.92 364.30 L187.15 364.30 L187.37 364.30 L187.60 364.30 L187.82 364.30 L188.05 364.30 L188.27 364.30 L188.50 364.30 L188.72 364.30 L188.95 364.30 L189.17 364.30 L189.40 364.30 L189.62 364.30 L189.85 364.30 L190.07 364.30 L190.30 364.30 L190.52 364.30 L190.75 364.30 L190.97 364.30 L191.20 364.30 L191.42 364.30 L191.65 364.30 L191.87 364.30 L192.10 364.30 L192.32 364.30 L192.55 364.30 L192.77 364.30 L193.00 364.30 L193.22 364.30 L193.45 364.30 L193.67 364.30 L193.90 364.30 L193.90 364.30 L149.10 364.30 Z" fill="#555" stroke="#444" stroke-width="0.4"/><path d="M149.10 364.30 L149.33 364.30 L149.55 364.30 L149.78 364.30 L150.00 364.30 L150.23 364.30 L150.45 364.30 L150.68 364.30 L150.90 364.30 L151.13 364.30 L151.35 364.30 L151.58 364.30 L151.80 364.30 L152.03 364.30 L152.25 364.30 L152.48 364.30 L152.70 364.30 L152.93 364.30 L153.15 364.30 L153.38 364.30 L153.60 364.30 L153.83 364.30 L154.05 364.30 L154.28 364.30 L154.50 364.30 L154.73 364.30 L154.95 364.30 L155.18 364.30 L155.40 364.30 L155.63 364.30 L155.85 364.30 L156.08 364.30 L156.30 364.30 L156.53 364.30 L156.75 364.30 L156.98 364.30 L157.20 364.30 L157.43 364.30 L157.65 364.30 L157.88 364.30 L158.11 364.30 L158.33 364.30 L158.56 364.30 L158.78 364.30 L159.01 364.29 L159.23 364.29 L159.46 364.29 L159.68 364.29 L159.91 364.29 L160.13 364.28 L160.36 364.28 L160.58 364.27 L160.81 364.27 L161.03 364.26 L161.26 364.25 L161.48 364.23 L161.71 364.22 L161.93 364.20 L162.16 364.18 L162.38 364.15 L162.61 364.11 L162.83 364.07 L163.06 364.02 L163.28 363.97 L163.51 363.90 L163.73 363.81 L163.96 363.72 L164.18 363.60 L164.41 363.47 L164.63 363.31 L164.86 363.13 L165.08 362.92 L165.31 362.67 L165.53 362.39 L165.76 362.07 L165.98 361.71 L166.21 361.30 L166.43 360.83 L166.66 360.31 L166.88 359.72 L167.11 359.07 L167.34 358.35 L167.56 357.56 L167.79 356.69 L168.01 355.74 L168.24 354.72 L168.46 353.61 L168.69 352.43 L168.91 351.17 L169.14 349.84 L169.36 348.45 L169.59 347.00 L169.81 345.50 L170.04 343.97 L170.26 342.43 L170.49 340.88 L170.71 339.35 L170.94 337.87 L171.16 336.45 L171.39 335.13 L171.61 333.93 L171.84 332.89 L172.06 332.04 L172.29 331.45 L172.51 331.20 L172.74 331.48 L172.96 332.07 L173.19 332.88 L173.41 333.88 L173.64 335.03 L173.86 336.29 L174.09 337.64 L174.31 339.06 L174.54 340.52 L174.76 342.01 L174.99 343.50 L175.21 344.97 L175.44 346.42 L175.66 347.84 L175.89 349.20 L176.12 350.51 L176.34 351.76 L176.57 352.94 L176.79 354.04 L177.02 355.08 L177.24 356.04 L177.47 356.93 L177.69 357.75 L177.92 358.50 L178.14 359.18 L178.37 359.79 L178.59 360.35 L178.82 360.85 L179.04 361.30 L179.27 361.69 L179.49 362.05 L179.72 362.36 L179.94 362.63 L180.17 362.87 L180.39 363.08 L180.62 363.26 L180.84 363.42 L181.07 363.56 L181.29 363.67 L181.52 363.77 L181.74 363.86 L181.97 363.93 L182.19 363.99 L182.42 364.05 L182.64 364.09 L182.87 364.13 L183.09 364.16 L183.32 364.18 L183.54 364.20 L183.77 364.22 L183.99 364.24 L184.22 364.25 L184.44 364.26 L184.67 364.27 L184.89 364.27 L185.12 364.28 L185.35 364.28 L185.57 364.29 L185.80 364.29 L186.02 364.29 L186.25 364.29 L186.47 364.29 L186.70 364.30 L186.92 364.30 L187.15 364.30 L187.37 364.30 L187.60 364.30 L187.82 364.30 L188.05 364.30 L188.27 364.30 L188.50 364.30 L188.72 364.30 L188.95 364.30 L189.17 364.30 L189.40 364.30 L189.62 364.30 L189.85 364.30 L190.07 364.30 L190.30 364.30 L190.52 364.30 L190.75 364.30 L190.97 364.30 L191.20 364.30 L191.42 364.30 L191.65 364.30 L191.87 364.30 L192.10 364.30 L192.32 364.30 L192.55 364.30 L192.77 364.30 L193.00 364.30 L193.22 364.30 L193.45 364.30 L193.67 364.30 L193.90 364.30" fill="none" stroke="#555" stroke-width="0.75"/><line x1="148.60" y1="364.60" x2="194.40" y2="364.60" stroke="#444" stroke-width="1"/><rect x="148.60" y="320.60" width="45.80" height="45.20" fill="none" stroke="#666" stroke-width="1"/><text x="194.3" y="330.7" font-size="10" text-anchor="end" >ICAM-3</text><text x="204.0" y="278.5" font-size="15.5" text-anchor="start" >F</text><line x1="240.50" y1="281.40" x2="240.50" y2="345.40" stroke="#c8c8c8" stroke-width="1"/><line x1="240.50" y1="345.40" x2="368.50" y2="345.40" stroke="#e0e0e0" stroke-width="1"/><line x1="240.50" y1="345.40" x2="240.50" y2="348.50" stroke="#c8c8c8" stroke-width="1"/><text x="240.5" y="363.6" font-size="10" text-anchor="middle" >0</text><line x1="304.50" y1="345.40" x2="304.50" y2="348.50" stroke="#c8c8c8" stroke-width="1"/><text x="304.5" y="363.6" font-size="10" text-anchor="middle" >50</text><line x1="368.50" y1="345.40" x2="368.50" y2="348.50" stroke="#c8c8c8" stroke-width="1"/><text x="368.5" y="363.6" font-size="10" text-anchor="middle" >100</text><rect x="240.50" y="288.00" width="128.00" height="16.30" fill="#8a8a8a" stroke="#222" stroke-width="1"/><line x1="365.30" y1="296.15" x2="368.50" y2="296.15" stroke="#222" stroke-width="1"/><line x1="365.30" y1="294.95" x2="365.30" y2="297.35" stroke="#222" stroke-width="1"/><line x1="368.50" y1="294.95" x2="368.50" y2="297.35" stroke="#222" stroke-width="1"/><rect x="240.50" y="320.00" width="31.36" height="17.70" fill="#8a8a8a" stroke="#222" stroke-width="1"/><line x1="256.24" y1="328.85" x2="286.20" y2="328.85" stroke="#222" stroke-width="1"/><line x1="256.24" y1="327.05" x2="256.24" y2="330.65" stroke="#222" stroke-width="1"/><line x1="286.20" y1="327.05" x2="286.20" y2="330.65" stroke="#222" stroke-width="1"/><text x="304.6" y="374.8" font-size="10.15" text-anchor="middle" >% Relative binding rate</text><line x1="382.70" y1="281.40" x2="382.70" y2="345.40" stroke="#c8c8c8" stroke-width="1"/><line x1="382.70" y1="345.40" x2="511.70" y2="345.40" stroke="#e0e0e0" stroke-width="1"/><line x1="382.70" y1="345.40" x2="382.70" y2="348.50" stroke="#c8c8c8" stroke-width="1"/><text x="382.7" y="363.6" font-size="10" text-anchor="middle" >0</text><line x1="447.20" y1="345.40" x2="447.20" y2="348.50" stroke="#c8c8c8" stroke-width="1"/><text x="447.2" y="363.6" font-size="10" text-anchor="middle" >50</text><line x1="511.70" y1="345.40" x2="511.70" y2="348.50" stroke="#c8c8c8" stroke-width="1"/><text x="511.7" y="363.6" font-size="10" text-anchor="middle" >100</text><rect x="382.70" y="288.00" width="129.00" height="16.30" fill="#8a8a8a" stroke="#222" stroke-width="1"/><line x1="508.47" y1="296.15" x2="511.70" y2="296.15" stroke="#222" stroke-width="1"/><line x1="508.47" y1="294.95" x2="508.47" y2="297.35" stroke="#222" stroke-width="1"/><line x1="511.70" y1="294.95" x2="511.70" y2="297.35" stroke="#222" stroke-width="1"/><rect x="382.70" y="320.00" width="28.38" height="17.70" fill="#8a8a8a" stroke="#222" stroke-width="1"/><line x1="401.40" y1="328.85" x2="420.11" y2="328.85" stroke="#222" stroke-width="1"/><line x1="401.40" y1="327.05" x2="401.40" y2="330.65" stroke="#222" stroke-width="1"/><line x1="420.11" y1="327.05" x2="420.11" y2="330.65" stroke="#222" stroke-width="1"/><text x="444.3" y="374.8" font-size="10.15" text-anchor="middle" >% Relative lysis</text><text x="238.6" y="300.1" font-size="10" text-anchor="end" >CTR</text><text x="237.5" y="332.9" font-size="10" text-anchor="end" >LFA-1</text><circle cx="291.50" cy="327.60" r="1.3" fill="#000"/><circle cx="425.70" cy="324.70" r="1.2" fill="#000"/><circle cx="425.70" cy="328.80" r="1.2" fill="#000"/><circle cx="425.70" cy="333.00" r="1.2" fill="#000"/></svg></body></html>
